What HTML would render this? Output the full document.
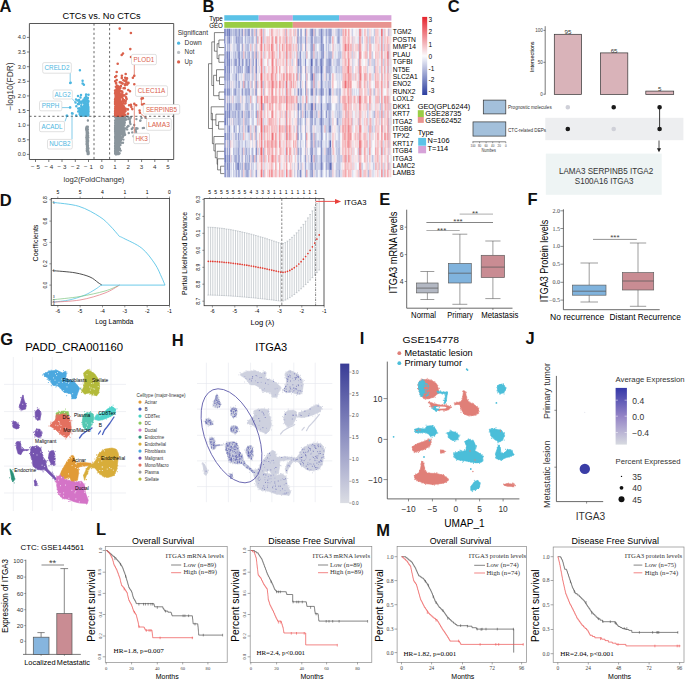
<!DOCTYPE html>
<html><head><meta charset="utf-8"><style>
html,body{margin:0;padding:0;background:#fff;overflow:hidden;width:685px;height:679px}
svg{display:block}
text{font-family:"Liberation Sans",sans-serif}
</style></head><body>
<svg width="685" height="679" viewBox="0 0 685 679">
<rect width="685" height="679" fill="#fff"/>
<text x="-0.5" y="11.9" font-size="16.5" fill="#111" font-weight="bold">A</text>
<text x="101.6" y="19" font-size="9.2" text-anchor="middle">CTCs vs. No CTCs</text>
<path d="M86.6 141.8h0M87.1 141.5h0M87.2 140.3h0M87.2 140.2h0M87.3 136.9h0M87.3 146h0M88.4 151.9h0M87.7 153.2h0M87.7 127.1h0M87.2 137.3h0M88 150h0M88.3 152.7h0M87.5 149.1h0M87.5 141.5h0M87.6 142.2h0M86.9 136.6h0M87.2 140.5h0M87.1 146.7h0M87.8 126.7h0M87.2 134.7h0M87.5 145.6h0M88.6 152.4h0M86.7 133.1h0M87.8 143.7h0M87.1 127.8h0M87.5 148.6h0M86.1 129.1h0M87.6 143.4h0M87.8 152.4h0M87 146.9h0M87.8 152h0M88.1 133.3h0M87.6 151.1h0M88.4 152.7h0M87.4 132.3h0M87.8 142h0M87.5 149.1h0M87.1 136.5h0M87.3 151.2h0M87.6 146.9h0M87.2 127.4h0M86.9 129.8h0M86.9 148.5h0M87.7 136.6h0M88.5 151.6h0M87.5 147.2h0M87.1 132.9h0M88.5 152.4h0M88 151.9h0M87.2 137.7h0M86.5 144.1h0M87.7 141h0M87.5 138.4h0M87.4 150.1h0M87.3 129.2h0M87.3 149.1h0M87.5 133.9h0M87.1 128h0M86.9 129.9h0M88 151.5h0M88.5 153.3h0M87.2 134.8h0M87.7 147.3h0M87 146.2h0M87.5 149.5h0M87.4 148.1h0M87.6 138.9h0M87.1 146.6h0M87.2 128.9h0M87.6 146.9h0M87.6 142h0M87.5 144.2h0M87.6 138.5h0M87.4 129.6h0M86.8 127.2h0M86.9 138.2h0M87.6 150.5h0M87.2 129.1h0M87.3 134.9h0M87.3 136.7h0M87.3 141h0M86.8 126.6h0M87.7 152.3h0M87 129.4h0M87.1 133.9h0M86.5 129h0M87.1 144.6h0M86.5 130.2h0M87.6 142.8h0M86.6 138.5h0M86.9 137h0M87.6 137.5h0M87.5 152.2h0M86.3 130h0M86.8 134.2h0M87.7 138.3h0M87.5 142.2h0M87.1 133.6h0M87.9 153.6h0M87.3 148h0M86.8 135h0M87.2 128.8h0M87.8 147.3h0M87.3 135.6h0M87.9 148.8h0M88 136.1h0M87.7 142.1h0M87.1 135.9h0M86.9 148.9h0M87.4 129h0M86.8 129.9h0M87.8 145.6h0M86.8 150.6h0M87.2 130.8h0M87.5 134.6h0M87.4 149.7h0M87.4 141.9h0M87.7 142.9h0M87 137h0M87.2 131.1h0M87 127.1h0M88.3 153.5h0M87.7 130.1h0M87.5 138.5h0M87.5 145.8h0M87.5 150.6h0M88.1 141.8h0M87.6 147.8h0M88.1 150.5h0M87.5 142h0M86.9 136.9h0M86.6 127.8h0M87.4 135.4h0M87.9 149.4h0M87.7 154.1h0M87.6 149.4h0M87.2 146.8h0M87.8 139.9h0M87.3 137.3h0M86.9 132.4h0M87.9 129.2h0M87.7 134.3h0M87.1 150.8h0M87.3 129.1h0M86.7 143.9h0M86.9 132.3h0M86.6 128.2h0M87.6 148.7h0M87.5 134.3h0M86.8 134.5h0M88.4 148.5h0M86.5 127.2h0M87.4 139.5h0M86.8 129.1h0M87.1 130.6h0M87.5 142.1h0M87.4 139.1h0M87.8 153.6h0M87.8 131.9h0M87.8 149.6h0M87.5 145.1h0M87.3 150.3h0M87.2 140h0M86.6 135.2h0M86.2 128.1h0M88.3 152h0M87.2 148.2h0M87.2 134.1h0M86.6 136.6h0M87.2 138.8h0M86.9 145.7h0M87.7 129.4h0M88.1 148.6h0M86.6 139.8h0M87.5 138.5h0M87.8 140.4h0M88.3 137.6h0M87.5 140.1h0M87.6 143.3h0M86.9 140.8h0M87.7 135.2h0M87.6 142.9h0M87.4 127.8h0M87.2 141.3h0M86.9 150.9h0M87.4 129.4h0M87.3 141.2h0M87.5 137.2h0M87.6 128.7h0M88.7 153.8h0M87.6 149h0M88 145.5h0M87.3 144.5h0M87.1 134.1h0M87.3 151h0M87.5 148.9h0M87 139.7h0M87.6 142.9h0M87.5 139.7h0M87.5 136.9h0M86.6 136.7h0M87.2 137.4h0M87.3 130.6h0M87.8 131.9h0M87 129.3h0M87.5 128.8h0M88.3 148.3h0M87.5 150.7h0M87.5 147.7h0M88 151.7h0M86.6 131.3h0M87.9 150.9h0M87.4 143.2h0M87.5 148.8h0M88.1 135.4h0M87 151.2h0M87.4 140.3h0M86.8 135.3h0M87.7 149.1h0M88.3 153.4h0M86.9 139.1h0M87.5 150.3h0M87.7 149.3h0M87.8 126.9h0M87.3 128.6h0M87.2 128h0M87.4 141.6h0M87.1 141.4h0M86.9 140.1h0M88.5 154h0M87.4 134.9h0M87.2 141.8h0M87 133.9h0M87.7 149.8h0M88.1 140.2h0M87.3 132.1h0M87.6 134.8h0M87 143.2h0M86.3 137.7h0M87.2 132h0M88 147.2h0M86.9 132.8h0M86.6 131.8h0M87.6 130h0M87.3 135.1h0M86.8 143.1h0M87.6 134.3h0M87.5 141.4h0M88 154.1h0M87.7 137.1h0M88 148h0M87.3 145h0M86.9 136.1h0M87.2 143.6h0M86.8 126.6h0M86.8 133.2h0M87.6 127.2h0M87.3 133.9h0M87.4 147.3h0M87.6 149h0M116.9 140.1h0M117.5 120h0M124.6 133.5h0M115.5 132.8h0M122 116.6h0M117.6 151.5h0M115.1 131.7h0M116.7 119h0M116.3 148.3h0M115.4 135.6h0M124 131.2h0M117.7 138.4h0M117.8 134.4h0M116.5 143.5h0M118.2 129.5h0M116.4 127.2h0M117 143.1h0M115.2 152.8h0M115.1 148.4h0M120.4 120.3h0M128.2 125.9h0M120.3 118.5h0M116.7 151.6h0M117 136.2h0M115.3 117.4h0M121.9 118.8h0M127.3 126.9h0M117.8 123.3h0M119.2 131.4h0M118.1 137.1h0M117.7 146.7h0M115.8 149.7h0M116.8 137.6h0M117.4 144.4h0M120.9 132.3h0M118.1 134.2h0M124.3 116.5h0M116.2 145.3h0M117.8 150.1h0M119.4 130.6h0M115.6 140.7h0M120.7 132.9h0M119.4 131.9h0M117.8 147.2h0M120.4 144.9h0M116.5 121h0M116.4 152.9h0M116 138.2h0M119.1 130.7h0M116.4 151.6h0M116.1 151.1h0M119.6 130.4h0M117 140.2h0M115.3 141.3h0M116 126.1h0M115.7 149.8h0M121.1 123.6h0M117.8 146.3h0M115.3 138.3h0M120.3 140.4h0M118.7 129.5h0M115.3 133.5h0M119.3 126h0M116.5 140.4h0M115.6 150.7h0M115.6 151.2h0M120.7 132.9h0M115.4 143h0M118 124.9h0M116.4 129.2h0M116.1 151.3h0M121.7 128h0M116.5 143.6h0M118.4 126.8h0M118.4 140.5h0M119 132.8h0M126.4 119.5h0M117.6 137.7h0M116.5 123.9h0M117.5 139.2h0M118.4 118.9h0M116.4 140.6h0M116.9 140.5h0M117.3 139.7h0M118.7 147h0M117.6 133.8h0M118 122.6h0M116.2 125.5h0M115.3 120.9h0M115.8 134.8h0M123.7 133.7h0M119.5 129.6h0M120.7 123.8h0M117.4 124.4h0M117.7 151.2h0M119.4 120.2h0M115.8 151.2h0M117 126h0M115.1 129.7h0M118.4 125.3h0M115.4 134.6h0M117.8 141.6h0M118.2 117.6h0M118.8 134h0M117.6 127h0M121.6 138.8h0M120 123h0M123.4 123.8h0M124.8 122.7h0M121.7 130.1h0M116.6 134.5h0M120.5 138.4h0M118.1 138.4h0M122.8 116.7h0M116 140.1h0M116.9 138.2h0M115.9 143.3h0M115.2 142.7h0M117.1 150h0M118.1 147.6h0M117.4 152h0M116.9 119.8h0M115.9 153h0M116 146.1h0M115.7 145.4h0M118.1 145.9h0M115.3 147.4h0M117.9 125.6h0M119.7 142.5h0M116.9 136.2h0M119.2 144.5h0M119 141.4h0M119.1 133.6h0M115.8 146h0M118.1 152.5h0M116.8 139.8h0M117.9 134.3h0M115.5 116.7h0M115.1 129.4h0M115.5 136.4h0M116.4 140.3h0M121 131.4h0M116.1 148.4h0M116.9 144.5h0M122.5 121.3h0M115.9 116.6h0M116.4 144.3h0M115.6 125.1h0M116.5 154.3h0M123.8 123.1h0M115.4 151.3h0M118.1 150.7h0M123.3 136.1h0M116.9 132.1h0M118.1 121.8h0M120.2 138.5h0M123.7 119.5h0M117.4 146.5h0M117.2 133.7h0M115.5 122.8h0M115.4 142.6h0M116 142.8h0M115.7 136.6h0M119 128.3h0M116.8 150.4h0M119 117.6h0M115.5 122.8h0M115.4 140.1h0M115.5 127.4h0M119.2 137h0M118.2 154h0M115.3 146.5h0M116 131h0M118.5 133.9h0M116.4 143.1h0M118.6 129h0M116.3 144.6h0M119.2 141.9h0M123.4 118.5h0M116.7 141.8h0M117.4 123h0M115.6 150.8h0M115.7 128.6h0M116.9 139.1h0M116.9 122.6h0M115.6 145.8h0M116.6 148.4h0M116.4 151.6h0M121 119.4h0M117.2 129.8h0M117.1 125.2h0M117.5 141.8h0M118.1 138.7h0M115.5 127.8h0M117.2 117.1h0M120.7 131.3h0M115.8 153.7h0M118.4 129.7h0M116.7 150.4h0M119.1 124.4h0M117.3 123h0M116.8 125.3h0M119.9 120.1h0M116 135.4h0M116.4 149h0M125.1 134.8h0M116.6 127.2h0M118.3 118.5h0M115.6 130.6h0M116 145.1h0M116.2 132.5h0M119.8 119.1h0M116.5 140.7h0M115.7 117.4h0M117.2 149.2h0M117.7 133.1h0M115.8 133.1h0M128 116.7h0M117.1 123.3h0M116.6 123h0M116.6 143.4h0M116.7 132.6h0M117.6 122.8h0M117.2 151.5h0M117.3 153.2h0M130.1 118.7h0M117.3 129.4h0M121.4 126.3h0M119.5 139.9h0M116.8 153.8h0M116.3 146.8h0M115.4 139.7h0M117.2 132.7h0M117.7 144.4h0M117.7 132.8h0M117.3 153h0M121.7 128.9h0M122.9 131.6h0M119 136.5h0M118.3 128.2h0M115.1 125.6h0M121.9 116.6h0M118.3 122.5h0M117.6 137.9h0M118.8 132.9h0M117.5 134.4h0M117.3 138h0M116 152.3h0M121 126.8h0M118.8 131.7h0M117.2 125.8h0M117.4 151.7h0M117.3 149.7h0M116.2 139.3h0M115.8 152.4h0M117.8 145.3h0M116.6 142.8h0M115.9 151.8h0M123 119.7h0M116.7 121.5h0M115.8 138.4h0M118.1 126h0M116.5 132.8h0M116.3 124.3h0M119.8 149.7h0M116 154.4h0M115.7 145.1h0M116.6 152h0M117.2 120.4h0M117.7 140.8h0M116 132.1h0M115.4 120.2h0M121.2 142.7h0M115.2 117.2h0M115.8 136.4h0M119.5 119.3h0M118.5 120.3h0M120.1 140.9h0M118.3 136.4h0M125.8 116.5h0M116 146.7h0M117.6 120.9h0M117.3 152.5h0M117.7 142.5h0M120.9 120.2h0M117.4 149.3h0M119.4 127.9h0M115.8 151.4h0M116.3 145.9h0M118.3 146.9h0M115.3 147.5h0M122.2 124.3h0M118.2 140.2h0M121.9 132h0M116.7 145.7h0M124.2 129h0M115.7 143.9h0M117 117h0M118.9 137.7h0M115.4 152.7h0M115.7 131.6h0M118.7 123.9h0M115.7 151.1h0M119 145h0M116.6 143.8h0M116.1 120.3h0M121.5 116.8h0M116.1 125.9h0M118.2 139.8h0M116.2 147.6h0M117.2 133.3h0M118.2 129.4h0M120.7 124.6h0M115.7 122.3h0M125.6 128.4h0M115.7 147.8h0M118.4 124.8h0M117.8 145.5h0M115.9 137.7h0M123.5 124.3h0M116.7 145.4h0M115.2 132.3h0M119.6 135.4h0M116.4 127.2h0M116.7 132.6h0M116 148.6h0M116.9 153.7h0M115.1 137.6h0M115.3 144.4h0M117.1 119.9h0M121.5 132.8h0M116.2 145.4h0M115.3 148.8h0M115.8 142.4h0M118.2 130.8h0M115.5 132h0M115.6 151h0M116.4 144.7h0M116.5 148.3h0M123.5 124.5h0M116.5 152.1h0M116.2 146.2h0M121.5 117.5h0M116.5 125.5h0M119 116.9h0M119.1 126.1h0M115.3 152.9h0M119.4 149h0M116 139.5h0M116.9 151.5h0M118.1 153.1h0M115.2 126.5h0M115.1 145.7h0M118.1 145.2h0M117.9 136.8h0M116.1 141.6h0M116.3 117.1h0M115.6 139.1h0M118.6 129.7h0M116.5 128h0M124.2 121.5h0M118.7 136.8h0M116.7 139.5h0M119 124.7h0M115.9 146.2h0M117 133.5h0M115.5 148.2h0M117.2 136.6h0M123 142.7h0M119.5 128.6h0M116.5 121.6h0M116.8 151.6h0M117.3 128.1h0M116.1 153.7h0M115.2 147.5h0M120.6 119.3h0M115.5 127.2h0M117 148.6h0M121.1 118.8h0M121 126.9h0M119.8 119.9h0M115.4 139.8h0M116.3 151.2h0M117.9 125.1h0M118.4 134.7h0M115.9 145.3h0M116.5 152.8h0M117 153.2h0M118 142.5h0M116.2 149.2h0M115.5 127.5h0M121.8 129.1h0M115.5 148.8h0M118.5 127.3h0M119.6 139h0M118.1 145.8h0M116.1 143.3h0M116.1 152.9h0M116.6 153.5h0M119.7 123.6h0M117.6 117.3h0M122.9 119.5h0M116.3 146.2h0M122.9 118.1h0M115.8 121.4h0M117.7 151h0M115.9 138.1h0M115.7 139.8h0M117.3 141.9h0M115.1 148.4h0M116.9 139.1h0M115.4 129.1h0M116.9 145.3h0M116.6 138.3h0M117.9 148.7h0M117.9 133.4h0M119.4 127.8h0M115.5 140.5h0M115.6 152h0M115.7 135.6h0M118.4 132.1h0M115.5 144.8h0M117.2 153.5h0M121.5 132.9h0M115.8 144.4h0M116.9 136.6h0M118.7 131h0M116.1 132.5h0M116.1 118.6h0M120.6 130.8h0M117.2 138.8h0M117.1 122.9h0M123.6 120.9h0M117.7 152.9h0M116.8 149.2h0M115.2 140.7h0M117.3 117.3h0M116.3 145.7h0M115.1 128.5h0M115.2 133.7h0M115.3 139.4h0M119.9 129.7h0M118.4 133.6h0M119.6 122.8h0M117.7 117.6h0M119.3 120.7h0M115.9 142.5h0M121.6 128.3h0M116.6 117.7h0M117.2 130.8h0M118.1 135.7h0M116 143.5h0M118.4 125.9h0M115.4 144.9h0M116.5 142h0M117.2 149.6h0M115.8 152h0M115.9 127.6h0M118.3 150.1h0M116.8 136.1h0M117.9 148.2h0M117.8 152.4h0M119.4 144.7h0M115.3 139.5h0M115.1 127.2h0M119.4 142h0M115.4 141.7h0M124.7 122.9h0M120.2 132.8h0M118.1 130.7h0M115.9 122.8h0M116.5 140.1h0M115.4 128.9h0M116.2 153.9h0M124.5 132.1h0M117 149.3h0M120.4 128.3h0M117.1 139.3h0M116.8 118.9h0M115.1 127.3h0M116.6 149.9h0M116 126.6h0M118.9 116.6h0M116.1 153.4h0M118.5 133.8h0M115.3 142.6h0M117.2 124h0M117.1 139.5h0M116.1 130.9h0M123.4 139.6h0M122.6 128h0M116.1 148.8h0M119 147.7h0M118.6 144.8h0M117.2 135.8h0M116.1 153.7h0M118.3 132.9h0M117.8 144h0M117.3 145.7h0M115.3 144.5h0M118.6 152.5h0M117.2 142.6h0M115.9 151.4h0M121.3 116.5h0M116.8 146.7h0M117.7 138.6h0M116.4 123.7h0M115.8 133.5h0M117.5 129.4h0M118.2 118.7h0M120.7 121.5h0M115.2 122.7h0M115.5 126.8h0M115.5 148h0M116.7 149.9h0M117 125.7h0M115.4 142.6h0M115.1 146.4h0M122.1 117.9h0M115.5 123.6h0M115.5 124.3h0M120 123.9h0M116.7 122.9h0M120.7 150.6h0M122.3 118.3h0M117.2 144.9h0M122.1 119.8h0M115.5 145.8h0M118 139.6h0M120.4 123.6h0M116.8 140.5h0M116.9 143.8h0M116.1 120h0M116.1 141.7h0M116.9 126.2h0M120.9 133.6h0M115.9 128.5h0M115.9 149h0M115.4 141.1h0M115.3 135.3h0M116.7 139.1h0M121.4 118.2h0M116.5 146.6h0M117.8 125.7h0M117.1 150.3h0M115.5 117.8h0M118.1 146h0M116.9 147.6h0M117.7 144h0M120.9 142.1h0M119.2 147.4h0M119.9 148.8h0M119.3 130.3h0M117.3 146.3h0M121 131h0M120.2 130.5h0M116.6 135.2h0M116.1 122.6h0M121.2 128.2h0M116.4 138.5h0M115.5 139.8h0M120.1 132.6h0M119.9 134.8h0M116 137.4h0M122.5 131.8h0M117.8 148.6h0M120.5 136.6h0M115.2 142.5h0M119.7 126.4h0M115.4 121.4h0M117.4 149.6h0M115.2 145.5h0M122.2 122.5h0M124.6 122.9h0M130.5 124.1h0M115.5 151.9h0M116 121.3h0M118.7 123.7h0M121.4 137.1h0M116.1 146.9h0M115.7 143.8h0M116.2 133.3h0M118.6 124.5h0M115.3 124h0M115.9 121.9h0M121.9 120h0M117.7 124.1h0M116.6 150.6h0M117.1 153h0M123.4 122.7h0M115.9 149.9h0M119.7 122.1h0M116.3 130.9h0M116.4 116.8h0M118.2 146.5h0M121.8 126.7h0M116.2 146.9h0M116.7 153.8h0M116.6 141.5h0M118.3 143.8h0M115.9 131.5h0M116.2 149.5h0M117.3 128h0M115.3 150h0M119.1 118.6h0M116.4 146.9h0M118.5 116.6h0M119.4 140.7h0M116.3 142.6h0M116.3 130.4h0M116.4 138.2h0M118.1 137h0M118 135.1h0M116.5 127.6h0M116.8 145.5h0M117.1 121.2h0M117.4 143.5h0M118.9 137.1h0M122.1 118.9h0M119.2 131.5h0M118.1 137.3h0M116.1 143.7h0M117.6 137.6h0M116.1 128h0M115.2 128.8h0M117.1 149.4h0M115.1 120.4h0M117.9 141.4h0M119 123.2h0M119 133.6h0M115.7 150.6h0M115.8 140.6h0M115.8 140.2h0M119.1 141.3h0M116.2 120.3h0M115.3 130.3h0M117.4 136.6h0M117.3 142.4h0M123.9 128.9h0M124.6 117.3h0M123.8 116.7h0M119.8 129.7h0M116.7 127.7h0M115.1 136.8h0M116.2 139.1h0M118.5 116.8h0M115.9 146.4h0M116.3 139.4h0M117.5 126.2h0M116.3 129.7h0M115.2 130.7h0M118.8 123.6h0M115.4 126.6h0M116.7 136.6h0M117.7 153.8h0M125.1 120.3h0M116.3 153.5h0M118.6 134.1h0M115.5 150.2h0M117.9 135.1h0M116 149.7h0M115.5 151h0M116.7 134.9h0M119.1 145h0M117.1 138.7h0M115.8 137.2h0M122 133.2h0M116 150.4h0M122.7 122.1h0M122.8 134.4h0M119.7 138.9h0M122.5 117.8h0M116.8 138.7h0M115.2 123.3h0M115.7 126.5h0M117.1 134.2h0M116.2 153.3h0M118.2 117.7h0M115.8 129.9h0M115.8 138.6h0M115.1 151.4h0M117.7 119.5h0M119 141.9h0M115.6 120.7h0M121.1 118.4h0M117.7 120h0M116.5 139.4h0M118.9 144.6h0M118 140.4h0M116.4 140.8h0M116 138h0M115.5 122.6h0M117.3 152.1h0M115.7 139.2h0M116.9 145.9h0M116.5 142.4h0M115.7 136h0M120.6 135.9h0M118.8 154.1h0M117.5 154.1h0M118.6 131.8h0M116 131.7h0M116.3 140.4h0M120.1 132h0M118.3 142.4h0M115.1 125.7h0M116.2 152.4h0M116.1 144.1h0M123.7 124.1h0M117.8 139.1h0M115.5 143.5h0M117.3 117h0M117.1 122.8h0M118.9 123.2h0M116.1 124.4h0M116.3 125.4h0M116.7 152.6h0M120 119.1h0M124.5 130.1h0M116.6 125.8h0M121.3 132.4h0M115.2 138.5h0M124.6 128.6h0M115.5 151.5h0M122.5 124.7h0M116.8 140h0M116.5 137.4h0M115.6 142.2h0M117.1 126.5h0M116.1 122.7h0M117 129.1h0M115.3 149.9h0M118.3 142.6h0M117.1 119.3h0M117.5 146.4h0M118.3 122.5h0M116.6 149.7h0M116.5 153.2h0M118.4 138h0M120.9 119.1h0M116.3 135.6h0M119.5 124.8h0M115.1 150.4h0M117.4 132.1h0M115.8 146.7h0M116.4 141.1h0M118.9 131.9h0M115.5 132.6h0M119.3 122.4h0M118.5 136.1h0M119.3 117.1h0M118.3 145.5h0M115.4 144.5h0M118.2 144.6h0M115.9 152h0M118.9 127.2h0M118 137.9h0M120.1 117.3h0M121.1 119.8h0M115.8 145.6h0M118.2 125.8h0M117.7 122.2h0M115.8 153.1h0M119.6 133.4h0M118.9 141.7h0M124.5 125.3h0M122.1 123.8h0M117.4 146.1h0M118.1 146.8h0M115.6 149.8h0M123.8 125.3h0M120.9 119.3h0M122 128.2h0M123.4 127.1h0M117.6 143.3h0M118.2 144.3h0M118 144.9h0M115.4 144.8h0M115.1 143.3h0M116.8 136h0M115.5 144h0M117.8 135h0M120.7 121.2h0M123.7 121.9h0M121.2 131.2h0M116.6 134.1h0M121.4 129.3h0M117.1 144.5h0M116.6 152.3h0M116.8 124.5h0M117.2 145.5h0M116.3 126.7h0M122.4 118.5h0M115.2 141.1h0M116.1 145.6h0M115.9 118.6h0M123.2 129.4h0M116.9 150.5h0M123.2 132.9h0M120.5 142.6h0M122.3 121.2h0M116.1 151.8h0M119.6 153.3h0M120.4 128.3h0M116.4 121.9h0M117.3 151.5h0M116.8 134.4h0M118.2 140.9h0M116.8 135.4h0M119.6 138.5h0M118.5 135.9h0M117.1 133.2h0M117.9 117.4h0M115.6 143h0M117 141.6h0M128.2 117.3h0M125.1 118.3h0M120.1 118.8h0M117.4 153.6h0M115.4 128.3h0M122 131.1h0M117.9 151.1h0M115.9 134.7h0M115.2 150.2h0M116.2 121.4h0M115.2 153.2h0M117.4 122.8h0M119.3 132.3h0M115.1 125.6h0M115.1 151.8h0M124.2 124.2h0M115.9 138.9h0M115.3 141.6h0M115.7 125.1h0M117.6 144.4h0M116.8 141.6h0M118 128.7h0M116.1 120.9h0M116 147.7h0M117.1 136.2h0M116.8 124.6h0M117.7 129.5h0M116.9 144.5h0M115.6 121.1h0M115.3 147.4h0M117.3 141.9h0M118.7 126.8h0M120.7 133.9h0M115.2 151.4h0M116.8 146.1h0M118 138.6h0M115.2 140.8h0M120.5 119.8h0M115.2 149.2h0M115.9 124.4h0M119.4 124.3h0M116 140h0M121 126.2h0M115.3 136.3h0M115.6 135.4h0M121 139.9h0M116.9 148.9h0M119.2 146.6h0M124.9 119h0M116.4 141.4h0M116.1 127.2h0M116.1 118.4h0M117.2 128.6h0M117 120.8h0M122.9 137.1h0M116.7 140.2h0M118.1 118.7h0M115.7 151.7h0M116.6 152.5h0M115.6 142.7h0M116.7 134.4h0M120.7 133.9h0M117.5 134.4h0M118.6 118.4h0M115.7 151.5h0M115.5 142.6h0M122.9 135.2h0M116.4 148.3h0M118 143.2h0M120.4 124.3h0M115.8 131.5h0M118.3 122.2h0M115.9 118.5h0M124.8 117.2h0M115.8 139.2h0M115.6 152.4h0M117.5 126.4h0M116.6 146.4h0M115.5 124h0M117.3 135.4h0M117.1 147.5h0M115.2 153.8h0M115.7 144.5h0M118.1 130.9h0M118.4 130.7h0M132.3 132.4h0M136.4 119.1h0M135.7 130h0M131.8 129h0M130 118.4h0M141.5 117.9h0M128.7 119.1h0M143.9 127.9h0M128.8 133h0M130 122.8h0M128.6 126.1h0M130.9 117.6h0M138.4 137.5h0M136 131.7h0M142.8 128.1h0M132.7 127.7h0M134.9 139.7h0M136.3 133.5h0M134.2 125h0M134.9 137.7h0M137.5 128.5h0M130.8 117.1h0M127.2 129.4h0M130 121.1h0M140.5 120.4h0M161.4 123.7h0M149.5 126.6h0M145.5 117.8h0M136.2 128.1h0M140.2 120.8h0M133.6 136.3h0M87.9 120.5h0" stroke="#8A959C" stroke-width="2.4" stroke-linecap="round" fill="none"/>
<path d="M124.9 115h0M115.1 101.9h0M117.3 85.9h0M115.3 100.7h0M122.9 109.4h0M115.1 103.7h0M118 112.8h0M121.1 103.8h0M115.9 86.7h0M121.7 106.5h0M122.6 110.1h0M117.7 113.2h0M118.4 111.4h0M125.2 114.7h0M115.7 100.2h0M120.7 102.9h0M119.6 93.5h0M117.1 98.5h0M117.1 97.8h0M120.1 86.9h0M117.6 107.9h0M120.9 107.9h0M128 113.8h0M116.6 110.9h0M116.6 115.1h0M119.7 100.6h0M123.5 109.9h0M117.9 87.2h0M118.6 106h0M117.6 106.6h0M115.4 108.1h0M118.1 113.1h0M120.5 102.8h0M119.9 110.4h0M118.2 111.6h0M120.6 108.5h0M123.5 103.5h0M122.5 101.2h0M116.8 106.5h0M116.5 98.3h0M116.4 93.7h0M118 110.5h0M115.6 100.7h0M116.4 90.2h0M116 101.3h0M118.5 115.5h0M120.4 110.3h0M119.1 115.2h0M115.7 111.9h0M118.9 105.9h0M116.6 97.9h0M117.1 104.2h0M120.1 114.4h0M115.6 109.3h0M117.2 97.5h0M120.8 114.5h0M121.3 96.2h0M116.8 107.6h0M116.7 72h0M115.5 107.4h0M116.6 115.3h0M119.2 106h0M122 112.8h0M119 114.1h0M121.5 113.8h0M119.7 111.8h0M115.9 110.1h0M116.1 83.5h0M116 112.4h0M116.4 106.4h0M119.4 111h0M118.1 106.2h0M117.5 96.3h0M118.1 100.2h0M120.2 108.2h0M116.6 95.9h0M116.1 112.7h0M115.2 113.4h0M116.8 104h0M115.4 109.7h0M116.8 91.1h0M115.4 98.3h0M124.7 100.7h0M117.4 107.6h0M123.5 111h0M115.3 102.3h0M119.1 93.7h0M123.1 114.7h0M119.7 112.1h0M118.3 106.4h0M116 104.8h0M117.9 106.1h0M121.8 108.3h0M116.2 101.5h0M118 105.3h0M120.1 95.8h0M115.9 92.9h0M118.2 99.8h0M118.9 115.2h0M125.4 110.6h0M119.9 104.9h0M117.1 98.2h0M122.5 112.4h0M116.7 80.1h0M120.2 104.5h0M115.5 102.2h0M118.5 114.7h0M117 108.8h0M119.8 82.2h0M123.4 106.2h0M116.8 99.6h0M121.8 104.9h0M118.2 102.2h0M122.1 110.5h0M121.1 115.4h0M122.2 115.6h0M116.8 100.5h0M115.2 108.7h0M118.9 113.6h0M125.5 111.1h0M120.7 113.2h0M115.8 100.6h0M120 106.6h0M118.4 100.6h0M122.5 110h0M116.2 109.3h0M117.7 104.3h0M116.3 76h0M118 86.2h0M120.1 102.4h0M116.6 105.9h0M121 108.6h0M118.7 109.7h0M119.2 114h0M115.3 113h0M119 102.2h0M118 109h0M120.5 94.4h0M117.9 115.8h0M116.3 111.7h0M121.7 109.9h0M120.3 114.4h0M116.1 114.7h0M122.1 104.8h0M121.6 110.8h0M118.8 112.1h0M117.1 109.1h0M115.6 104.5h0M117.1 93.3h0M117.1 99.5h0M115.3 106.5h0M121.1 112.7h0M122.1 95.9h0M118.8 108.1h0M117.6 93.4h0M117.8 98.7h0M118.5 109.9h0M118 113.3h0M119.7 96h0M119.3 113.9h0M122 113h0M116.6 96.4h0M117.4 92.5h0M116.3 99h0M115.8 112.5h0M122.4 92.8h0M118.9 94.6h0M115.8 110.2h0M115.7 95.6h0M118.1 111.1h0M120.4 105.7h0M119.3 109.3h0M120.5 111.7h0M118.1 108.1h0M118.9 115.7h0M115.9 115.6h0M120.3 109.3h0M117.3 115h0M118.8 107.4h0M115.3 104.4h0M118.9 99.1h0M118.9 101.9h0M119.7 110.3h0M117.1 104.6h0M115.2 101h0M115.9 99.8h0M123.6 109.1h0M116 115.3h0M116.1 114.7h0M120.8 110.5h0M117.9 113.9h0M120 98.8h0M120.8 107.6h0M120.1 115.3h0M117.9 102.4h0M120.9 86.1h0M118.1 94.1h0M116.4 106.9h0M115.9 99.6h0M115.4 104.5h0M118.7 105.5h0M115.2 110.6h0M115.1 113.6h0M118.3 108h0M116.7 111.7h0M117.6 87h0M117.3 95.3h0M117.7 101.2h0M119.2 109h0M118.2 99.8h0M119.8 112.8h0M116 104.3h0M117.4 99.4h0M115.4 106.6h0M117.5 110.7h0M117.6 95.8h0M122.8 99.1h0M115.8 110.1h0M117.5 109.1h0M121.1 107.5h0M116.6 115.6h0M116.3 92.8h0M117.3 110.2h0M115.5 108.1h0M116.1 83.1h0M118.1 111.4h0M117.5 111.8h0M119.1 103.8h0M115.6 112.2h0M116.5 103.9h0M118 111.3h0M117.9 114h0M115.2 81.2h0M118.7 115.1h0M117.7 98.7h0M116.1 108h0M118.8 114.9h0M120.1 104.3h0M115.7 96.4h0M117.9 106.8h0M120.1 112.7h0M116.6 101.5h0M118.2 103.7h0M115.4 112.8h0M115.4 103.2h0M117.2 112.2h0M118.8 91.4h0M119.5 109.2h0M115.1 93.4h0M116.2 106.9h0M121.2 108h0M118 92.6h0M115.6 107.4h0M116.2 90.9h0M119.1 99.9h0M122.3 114.3h0M116.9 92.5h0M117.1 111.1h0M115.3 112.7h0M117.8 106.6h0M115.8 112.3h0M119.5 105.6h0M115.7 112.6h0M117.2 107.6h0M117.1 113.5h0M120.8 110h0M117.4 111.9h0M115.9 103.3h0M119.2 105.7h0M115.2 102.8h0M115.3 112.1h0M116.9 109.3h0M115.6 114.9h0M118.3 102.5h0M118 103h0M115.9 109.3h0M118.9 100.4h0M119.2 101.5h0M115.7 112.6h0M118.7 113.4h0M123.1 115.8h0M123.7 106.4h0M119 110.6h0M120.2 102.3h0M120.3 87.9h0M124.1 114.2h0M119.1 104.2h0M116.7 88.6h0M118.1 91.3h0M115.1 90.6h0M122.3 97.1h0M118.3 107.5h0M115.9 109.4h0M116.6 114.9h0M117.5 108.4h0M120.1 107.8h0M119.4 110.6h0M122.2 91.6h0M119.4 114.8h0M117.7 112.8h0M117.4 110.7h0M116.3 104.6h0M115.1 115.2h0M115.1 104.1h0M127.9 109.4h0M116.3 112.7h0M118.2 113.8h0M115.7 94.9h0M121.3 96.7h0M116.7 105.7h0M117.2 106.7h0M120.1 115h0M117.4 112.8h0M125.7 108.8h0M120.7 110.5h0M116.1 113.9h0M116.4 108.6h0M120.8 113.7h0M123.5 100h0M115.7 110.2h0M116 101.6h0M120.5 106.8h0M116.8 91h0M116.6 111.3h0M115.8 113.9h0M116.2 115.4h0M116.4 113.3h0M115.5 109h0M118.9 96.2h0M116.9 112.1h0M120.7 105.7h0M118.3 103.3h0M118.2 93h0M123.9 100h0M122.2 110.6h0M118.4 105.9h0M115.3 100.9h0M121.1 114.3h0M115.3 100.1h0M115.9 109.3h0M118.5 100.2h0M115.4 92.5h0M119.7 112.2h0M115.3 92h0M119.4 92.4h0M115.4 102.6h0M115.5 103.5h0M115.1 111.7h0M116.1 111.5h0M117.3 112.5h0M118.5 107.6h0M118.6 97.9h0M116.2 105.4h0M120.4 97.2h0M115.7 115.3h0M118 104.4h0M116.8 111h0M118.8 98.9h0M117.1 97.6h0M119.7 112.6h0M115.9 112.4h0M116.4 104.9h0M120.1 101.6h0M115.8 113h0M118.8 107.2h0M118.6 96.9h0M116.4 114.7h0M117.7 104h0M123.6 106.5h0M121 110.9h0M118 89.1h0M116.6 98.5h0M120.9 106.8h0M118.5 96.5h0M116.2 100.7h0M118.9 105.2h0M116.9 90.7h0M120.9 115.7h0M117.5 112.5h0M122.7 114.9h0M118.8 108.7h0M121.4 108.8h0M115.5 109.4h0M116.5 109.2h0M119.4 108.7h0M118.1 108.1h0M117 110.2h0M115.8 98.1h0M119.2 101.6h0M118 101h0M121.1 113.5h0M120.7 91h0M117.9 99.9h0M118 106.3h0M119.2 103.1h0M118.1 108.4h0M120.6 102.3h0M121.8 104.5h0M118.6 101.5h0M119.1 115.7h0M118.7 96.8h0M116.7 106h0M116.5 111.1h0M119.4 104h0M116.2 111.5h0M122.7 115.1h0M123.9 111.7h0M118.7 106.8h0M118.5 112.5h0M116.5 106.3h0M116.2 115.4h0M120.1 100.5h0M117.6 111.8h0M116.2 111.9h0M120.7 111.1h0M115.4 101.4h0M117.1 106.4h0M115.9 102.4h0M122 94.4h0M121 96.9h0M118.8 104.2h0M119.7 99h0M117.6 101.6h0M116.1 111h0M116.4 109.3h0M115.3 98.5h0M119.5 89.5h0M121.6 114.8h0M116 93.3h0M117.3 112h0M115.8 102.4h0M115.6 95.1h0M120.1 109.4h0M122.7 109.9h0M116.3 109.6h0M115.8 108.3h0M115.9 104.8h0M116.6 102.1h0M116.3 106h0M119 113.7h0M120.7 102.4h0M115.1 99.2h0M118.7 93h0M116.4 106.4h0M121 113.7h0M118.8 109h0M115.4 107h0M115.8 105.9h0M116.9 113h0M117.2 110.1h0M116 98.8h0M115.2 77h0M118.6 109.2h0M121 102.5h0M115.4 107.6h0M123.4 114.9h0M116.1 107.5h0M116.8 110.1h0M124.4 112.5h0M117.4 103.2h0M117.8 107.2h0M121.6 114.7h0M122.4 111.5h0M116.7 102.4h0M115.8 103.4h0M116.5 96.6h0M118.9 113h0M116 109.1h0M116.1 103.3h0M115.9 113.6h0M117 103.6h0M117.2 92.3h0M115.7 104.5h0M117.7 108.1h0M119 104.3h0M118.5 108.9h0M116.9 113h0M115.6 93.5h0M122.1 113.2h0M116.9 114.4h0M124.2 107.5h0M127.1 84.6h0M125.6 103h0M125.7 100.9h0M122.7 83.6h0M128.5 82.9h0M130 91.2h0M121.8 77.9h0M121.9 75.8h0M121.4 83.1h0M125.5 103h0M126.3 81.8h0M131.3 106.9h0M124.7 80.7h0M124.1 112.9h0M125.2 103.4h0M125.2 77.7h0M121 82.5h0M129.1 105.2h0M122.9 101.5h0M121 112.4h0M126.4 98.6h0M126.6 99.1h0M120.5 103.4h0M123.6 88.3h0M124.4 95.5h0M121 104.3h0M123.8 103.2h0M120.7 110.4h0M120.6 95.9h0M123.4 80.2h0M126.1 97.4h0M121.7 114h0M125.4 83.9h0M124 95.4h0M125 85.2h0M127.9 83.6h0M126.5 79.6h0M124.8 88.3h0M126.4 93.9h0M119.7 28.6h0M130.9 33h0M130.3 49.1h0M123 53.5h0M121.7 55h0M117.7 63.7h0M132.9 77.8h0M127 78.4h0M141.6 98.8h0M142.9 98.2h0M136.2 105.3h0M130.9 104.7h0M139.6 110.5h0M132.3 109.1h0M128.3 90h0M125.7 74h0M134.3 84.2h0M134.3 75.8h0M142.1 104.5h0M139.9 112.7h0M134.3 103.8h0M144 104h0M131 57h0M133 56.5h0M140 62h0" stroke="#DA614C" stroke-width="2.6" stroke-linecap="round" fill="none"/>
<path d="M87.3 100.8h0M87.4 114.1h0M82.5 115.6h0M83 101.2h0M87 106.9h0M81 101.7h0M83.7 110.4h0M82.8 107.3h0M88.1 102.5h0M80.1 109.8h0M88.4 110h0M79.6 114h0M85.1 114.7h0M85.2 104.5h0M87 115.5h0M86.4 106.6h0M87.5 106.6h0M86.8 113.8h0M81.8 101.4h0M85.2 109.5h0M82.1 114h0M86 110.1h0M85.9 108h0M86.2 105.7h0M84.8 98.1h0M84 102.9h0M85.3 115h0M87 104.4h0M86 109.8h0M88.4 108.7h0M88.3 112.2h0M81.7 112.4h0M87.5 114.5h0M85.3 115.3h0M79.5 111.8h0M86.5 115.5h0M86.1 94.4h0M83.7 113.9h0M81.1 115.5h0M88.3 109.3h0M87.5 103.9h0M83 110.5h0M79.3 102.6h0M85.5 114.4h0M85.9 96.4h0M84.8 101.8h0M81.9 107h0M87.9 112.9h0M80.3 114h0M87.4 114.5h0M85.9 103.5h0M87.8 98.5h0M88.3 106.9h0M82.8 110.3h0M84.6 113.1h0M87.3 113.8h0M84.4 105.2h0M83.9 112.8h0M83.9 113.3h0M83.6 111.4h0M88.3 115.2h0M86.6 110.9h0M85.5 114.9h0M85.1 104.9h0M85.1 105.3h0M87.4 99.5h0M84.1 105.5h0M85.9 110h0M87.1 114.1h0M87.3 114.4h0M79.8 108.2h0M83.4 110.3h0M78.2 108.4h0M76.3 106.3h0M88.4 114.4h0M84.4 107h0M84 108.4h0M88.2 115.3h0M83.2 110.2h0M88 104.8h0M82.5 107.3h0M88.3 106.7h0M85.9 109.2h0M88.3 108.5h0M77.6 100.6h0M86.4 110.6h0M86.7 114.4h0M84.4 113h0M84.4 107.9h0M84.9 102.7h0M78.4 103.8h0M83.5 112.4h0M87.8 115.6h0M79.7 110.2h0M83.7 113.3h0M88 109.4h0M88.2 112.8h0M85.6 111.9h0M81.7 110.2h0M83 112.4h0M83.2 106.8h0M87.8 111.7h0M80.2 115.6h0M88 101.7h0M83.8 110h0M84.4 107.9h0M80 101.5h0M88.3 109.3h0M88 107.8h0M85.8 104.8h0M85.5 115.4h0M82.9 112.2h0M82.7 110.6h0M81 95h0M82.2 101.6h0M80.4 115.5h0M85.5 106.7h0M87.6 112.5h0M87.8 111.7h0M83.3 113.7h0M88.5 101.3h0M85.2 99.9h0M83.9 111.8h0M88.2 114h0M87.4 115.1h0M86.9 97.4h0M86.6 114h0M81.9 113.5h0M81.9 109.1h0M86.4 108.3h0M88 109.3h0M79.6 111.8h0M82.5 107.6h0M86.4 112.2h0M88.5 94.7h0M76.2 115.6h0M87.7 113.3h0M87.4 114.4h0M84.6 107.1h0M87.5 109.2h0M85.5 115.2h0M87.7 114.6h0M88.4 107.2h0M80.6 102.2h0M81 109.8h0M88.1 112.1h0M87.4 104.8h0M87.6 113.9h0M85.5 114h0M80.9 109.8h0M85.3 114.9h0M79.1 103.9h0M83.5 99.8h0M88.2 113.2h0M81.5 103.6h0M87.1 109.5h0M86.2 99.5h0M87.1 113.7h0M86.2 112.4h0M86.1 105.4h0M86.9 113.8h0M88.2 113.1h0M85.7 101.9h0M80.4 114.6h0M84.2 115.5h0M88.2 115.6h0M86.7 106.2h0M78.2 111.4h0M85.6 113.8h0M83.8 112.8h0M83.1 113.8h0M85 105.1h0M87.8 113.5h0M81.5 101.9h0M81.2 105.9h0M80.5 97.6h0M82.4 109.4h0M87.5 110.6h0M88.5 111.5h0M84.6 103h0M85.5 108.5h0M84.4 107h0M86.8 112.9h0M85.1 106h0M80.8 111h0M85.7 111.3h0M84.6 109.9h0M87 99.6h0M81.3 109.6h0M87.8 97.8h0M79.9 70.2h0M82.6 80.7h0M82.6 83.6h0M83.9 84.8h0M70.7 82.7h0M72.6 113.5h0M70 107.6h0M66.7 115.8h0M77.9 104.1h0M76 99.4h0M70.2 83h0M75.5 102.5h0M70.2 107.6h0M67.1 115.7h0M72 113.2h0M78 96h0M79 100h0" stroke="#4DB6E0" stroke-width="2.5" stroke-linecap="round" fill="none"/>
<line x1="29.4" y1="116.3" x2="173.7" y2="116.3" stroke="#333" stroke-width="0.75" stroke-dasharray="2.2 2.4"/>
<line x1="94" y1="23.5" x2="94" y2="159.5" stroke="#333" stroke-width="0.75" stroke-dasharray="2.2 2.4"/>
<line x1="109.6" y1="23.5" x2="109.6" y2="159.5" stroke="#333" stroke-width="0.75" stroke-dasharray="2.2 2.4"/>
<line x1="70.2" y1="72.3" x2="70.2" y2="83" stroke="#4DB6E0" stroke-width="0.7"/>
<rect x="42.7" y="62.6" width="28.6" height="10.6" fill="#fff" stroke="#d4d4d4" stroke-width="0.7" rx="1.5"/>
<text x="57" y="70.2" font-size="6.3" text-anchor="middle" fill="#4DB6E0">CRELD2</text>
<line x1="72" y1="98.5" x2="75.5" y2="102.5" stroke="#4DB6E0" stroke-width="0.7"/>
<rect x="53" y="90" width="19.3" height="9" fill="#fff" stroke="#d4d4d4" stroke-width="0.7" rx="1.5"/>
<text x="62.6" y="96.8" font-size="6.3" text-anchor="middle" fill="#4DB6E0">ALG2</text>
<line x1="61.8" y1="107.6" x2="70.2" y2="107.6" stroke="#4DB6E0" stroke-width="0.7"/>
<rect x="39.5" y="101" width="22.3" height="9.8" fill="#fff" stroke="#d4d4d4" stroke-width="0.7" rx="1.5"/>
<text x="50.6" y="108.2" font-size="6.3" text-anchor="middle" fill="#4DB6E0">PRPH</text>
<line x1="65" y1="121.4" x2="67.1" y2="115.7" stroke="#4DB6E0" stroke-width="0.7"/>
<rect x="39.5" y="121.4" width="25" height="10.3" fill="#fff" stroke="#d4d4d4" stroke-width="0.7" rx="1.5"/>
<text x="52" y="128.8" font-size="6.3" text-anchor="middle" fill="#4DB6E0">ACADL</text>
<line x1="72" y1="139.4" x2="72" y2="113.2" stroke="#4DB6E0" stroke-width="0.7"/>
<rect x="47.5" y="139.4" width="24.8" height="9.6" fill="#fff" stroke="#d4d4d4" stroke-width="0.7" rx="1.5"/>
<text x="59.9" y="146.4" font-size="6.3" text-anchor="middle" fill="#4DB6E0">NUCB2</text>
<line x1="134.3" y1="64.7" x2="134.3" y2="75.8" stroke="#DA614C" stroke-width="0.7"/>
<rect x="131.5" y="54.4" width="24.9" height="10.3" fill="#fff" stroke="#d4d4d4" stroke-width="0.7" rx="1.5"/>
<text x="143.9" y="61.8" font-size="6.3" text-anchor="middle" fill="#DA614C">PLOD1</text>
<line x1="141.4" y1="96.4" x2="141.4" y2="104.5" stroke="#DA614C" stroke-width="0.7"/>
<rect x="135.5" y="85.8" width="32" height="10.6" fill="#fff" stroke="#d4d4d4" stroke-width="0.7" rx="1.5"/>
<text x="151.5" y="93.3" font-size="6.3" text-anchor="middle" fill="#DA614C">CLEC11A</text>
<line x1="139.9" y1="112.7" x2="147.3" y2="119.3" stroke="#DA614C" stroke-width="0.7"/>
<rect x="146.5" y="118.6" width="24.8" height="11.7" fill="#fff" stroke="#d4d4d4" stroke-width="0.7" rx="1.5"/>
<text x="158.9" y="126.7" font-size="6.7" text-anchor="middle" fill="#DA614C">LAMA3</text>
<line x1="134.3" y1="133.3" x2="134.3" y2="103.8" stroke="#DA614C" stroke-width="0.7"/>
<rect x="133.6" y="133.3" width="15.9" height="10.3" fill="#fff" stroke="#d4d4d4" stroke-width="0.7" rx="1.5"/>
<text x="141.6" y="140.7" font-size="6.4" text-anchor="middle" fill="#DA614C">HK3</text>
<path d="M29.4 159.5H29.4V23.5" fill="none" stroke="#444" stroke-width="0.9"/>
<path d="M29.4 23.5H173.7V105.3" fill="none" stroke="#444" stroke-width="0.9"/>
<line x1="173.7" y1="114" x2="173.7" y2="159.5" stroke="#444" stroke-width="0.9"/>
<line x1="29.4" y1="159.5" x2="173.7" y2="159.5" stroke="#444" stroke-width="0.9"/>
<rect x="143.3" y="104.5" width="36.4" height="9.6" fill="#fff" stroke="#d4d4d4" stroke-width="0.7" rx="1.5"/>
<text x="161.5" y="111.5" font-size="6.3" text-anchor="middle" fill="#DA614C">SERPINB5</text>
<line x1="26.9" y1="154.4" x2="29.4" y2="154.4" stroke="#444" stroke-width="0.7"/>
<text x="25.8" y="156.4" font-size="5.8" text-anchor="end" fill="#333">0.0</text>
<line x1="26.9" y1="139.8" x2="29.4" y2="139.8" stroke="#444" stroke-width="0.7"/>
<text x="25.8" y="141.8" font-size="5.8" text-anchor="end" fill="#333">0.5</text>
<line x1="26.9" y1="125.2" x2="29.4" y2="125.2" stroke="#444" stroke-width="0.7"/>
<text x="25.8" y="127.2" font-size="5.8" text-anchor="end" fill="#333">1.0</text>
<line x1="26.9" y1="110.5" x2="29.4" y2="110.5" stroke="#444" stroke-width="0.7"/>
<text x="25.8" y="112.5" font-size="5.8" text-anchor="end" fill="#333">1.5</text>
<line x1="26.9" y1="95.9" x2="29.4" y2="95.9" stroke="#444" stroke-width="0.7"/>
<text x="25.8" y="97.9" font-size="5.8" text-anchor="end" fill="#333">2.0</text>
<line x1="26.9" y1="81.3" x2="29.4" y2="81.3" stroke="#444" stroke-width="0.7"/>
<text x="25.8" y="83.3" font-size="5.8" text-anchor="end" fill="#333">2.5</text>
<line x1="26.9" y1="66.7" x2="29.4" y2="66.7" stroke="#444" stroke-width="0.7"/>
<text x="25.8" y="68.7" font-size="5.8" text-anchor="end" fill="#333">3.0</text>
<line x1="26.9" y1="52" x2="29.4" y2="52" stroke="#444" stroke-width="0.7"/>
<text x="25.8" y="54" font-size="5.8" text-anchor="end" fill="#333">3.5</text>
<line x1="26.9" y1="37.4" x2="29.4" y2="37.4" stroke="#444" stroke-width="0.7"/>
<text x="25.8" y="39.4" font-size="5.8" text-anchor="end" fill="#333">4.0</text>
<line x1="35.5" y1="159.5" x2="35.5" y2="162" stroke="#444" stroke-width="0.7"/>
<text x="35.5" y="168.9" font-size="6.2" text-anchor="middle" fill="#333">− 5</text>
<line x1="48.8" y1="159.5" x2="48.8" y2="162" stroke="#444" stroke-width="0.7"/>
<text x="48.8" y="168.9" font-size="6.2" text-anchor="middle" fill="#333">− 4</text>
<line x1="62" y1="159.5" x2="62" y2="162" stroke="#444" stroke-width="0.7"/>
<text x="62" y="168.9" font-size="6.2" text-anchor="middle" fill="#333">− 3</text>
<line x1="75.3" y1="159.5" x2="75.3" y2="162" stroke="#444" stroke-width="0.7"/>
<text x="75.3" y="168.9" font-size="6.2" text-anchor="middle" fill="#333">− 2</text>
<line x1="88.5" y1="159.5" x2="88.5" y2="162" stroke="#444" stroke-width="0.7"/>
<text x="88.5" y="168.9" font-size="6.2" text-anchor="middle" fill="#333">− 1</text>
<line x1="101.8" y1="159.5" x2="101.8" y2="162" stroke="#444" stroke-width="0.7"/>
<text x="101.8" y="168.9" font-size="6.2" text-anchor="middle" fill="#333">0</text>
<line x1="115" y1="159.5" x2="115" y2="162" stroke="#444" stroke-width="0.7"/>
<text x="115" y="168.9" font-size="6.2" text-anchor="middle" fill="#333">1</text>
<line x1="128.3" y1="159.5" x2="128.3" y2="162" stroke="#444" stroke-width="0.7"/>
<text x="128.3" y="168.9" font-size="6.2" text-anchor="middle" fill="#333">2</text>
<line x1="141.6" y1="159.5" x2="141.6" y2="162" stroke="#444" stroke-width="0.7"/>
<text x="141.6" y="168.9" font-size="6.2" text-anchor="middle" fill="#333">3</text>
<line x1="154.8" y1="159.5" x2="154.8" y2="162" stroke="#444" stroke-width="0.7"/>
<text x="154.8" y="168.9" font-size="6.2" text-anchor="middle" fill="#333">4</text>
<line x1="168.1" y1="159.5" x2="168.1" y2="162" stroke="#444" stroke-width="0.7"/>
<text x="168.1" y="168.9" font-size="6.2" text-anchor="middle" fill="#333">5</text>
<text x="94" y="181.5" font-size="7.6" text-anchor="middle" fill="#333">log2(FoldChange)</text>
<text x="13.3" y="86.5" font-size="8.4" text-anchor="middle" fill="#333" transform="rotate(-90 13.3 86.5)">−log10(FDR)</text>
<text x="177.7" y="34.9" font-size="6.4" fill="#333" textLength="30.3" lengthAdjust="spacingAndGlyphs">Significant</text>
<path d="M178.6 43.2h0" stroke="#4DB6E0" stroke-width="3.2" stroke-linecap="round" fill="none"/>
<text x="184.6" y="45.4" font-size="7.7" fill="#333" textLength="17.1" lengthAdjust="spacingAndGlyphs">Down</text>
<path d="M178.6 52.4h0" stroke="#BBBFC3" stroke-width="3.2" stroke-linecap="round" fill="none"/>
<text x="184.6" y="53.9" font-size="7.7" fill="#333" textLength="9.8" lengthAdjust="spacingAndGlyphs">Not</text>
<path d="M178.6 61.9h0" stroke="#DA614C" stroke-width="3.2" stroke-linecap="round" fill="none"/>
<text x="184.6" y="63.7" font-size="7.7" fill="#333" textLength="8" lengthAdjust="spacingAndGlyphs">Up</text>
<text x="202.5" y="12.3" font-size="16.5" fill="#111" font-weight="bold">B</text>
<path d="M227.3 32.6h1M229.3 32.6h1M321.4 32.6h1M321.4 40h1M227.3 54.9h1M229.3 54.9h1M321.4 54.9h1M227.3 62.3h1M229.3 62.3h1M305.3 62.3h1M320.4 62.3h1M229.3 69.7h1M321.4 69.7h1M321.4 77.1h1M321.4 84.5h1M227.3 92h1M321.4 92h1M321.4 99.4h1M227.3 106.8h1M229.3 106.8h1M321.4 106.8h1M229.3 114.2h1M305.3 114.2h1M310.4 114.2h1M321.4 114.2h1M321.4 121.7h1M229.3 129.1h1M321.4 129.1h1M321.4 136.5h1M229.3 151.3h1M321.4 151.3h1M229.3 158.8h1M321.4 158.8h1M227.3 166.2h1M321.4 166.2h1M300.3 173.6h1" stroke="#2b3ea0" stroke-width="7.5" fill="none"/>
<path d="M312.4 32.6h1M229.3 40h1M305.3 40h1M305.3 47.5h1M321.4 47.5h1M227.3 69.7h1M305.3 69.7h1M320.4 69.7h1M305.3 84.5h1M305.3 92h1M330.4 92h1M227.3 114.2h1M227.3 121.7h1M229.3 166.2h1" stroke="#3c4ea8" stroke-width="7.5" fill="none"/>
<path d="M305.3 32.6h1M314.4 40h1M300.3 54.9h1M242.3 62.3h1M249.3 62.3h1M300.3 69.7h1M310.4 69.7h1M229.3 77.1h1M310.4 77.1h1M300.3 84.5h1M229.3 92h1M298.3 92h1M310.4 92h1M312.4 92h1M305.3 106.8h1M225.3 114.2h1M312.4 114.2h1M314.4 121.7h1M227.3 136.5h1M229.3 136.5h1M238.3 136.5h1M310.4 136.5h1M229.3 143.9h1M321.4 143.9h1M227.3 151.3h1M256.3 151.3h1M310.4 151.3h1M227.3 158.8h1M305.3 158.8h1M238.3 166.2h1M310.4 166.2h1" stroke="#4e5daf" stroke-width="7.5" fill="none"/>
<path d="M224.3 32.6h1M300.3 32.6h1M310.4 32.6h1M328.4 32.6h1M224.3 40h1M227.3 40h1M236.3 40h1M297.3 40h1M311.4 40h1M227.3 47.5h1M328.4 47.5h1M238.3 54.9h1M328.4 54.9h1M239.3 62.3h1M300.3 62.3h1M310.4 62.3h2M321.4 62.3h1M329.4 62.3h1M225.3 69.7h1M238.3 69.7h1M248.3 69.7h1M316.4 69.7h1M227.3 77.1h1M227.3 84.5h1M229.3 84.5h1M224.3 92h1M242.3 92h1M255.3 92h1M300.3 92h1M311.4 92h1M300.3 106.8h1M328.4 106.8h1M316.4 114.2h1M229.3 121.7h1M310.4 121.7h1M329.4 121.7h1M227.3 129.1h1M248.3 129.1h1M255.3 129.1h1M305.3 129.1h1M310.4 129.1h1M305.3 136.5h1M305.3 143.9h1M310.4 143.9h1M329.4 143.9h2M224.3 151.3h1M238.3 151.3h1M312.4 151.3h1M328.4 151.3h1M238.3 158.8h1M245.3 158.8h1M249.3 158.8h1M326.4 158.8h1M237.3 166.2h1M305.3 166.2h1M329.4 166.2h2M225.3 173.6h1M227.3 173.6h1M229.3 173.6h1M238.3 173.6h1M305.3 173.6h1M321.4 173.6h1" stroke="#5f6db7" stroke-width="7.5" fill="none"/>
<path d="M225.3 32.6h1M235.3 32.6h1M249.3 32.6h1M297.3 32.6h1M311.4 32.6h1M326.4 32.6h1M330.4 32.6h1M388.4 32.6h1M238.3 40h1M300.3 40h1M328.4 40h1M338.4 40h1M225.3 47.5h1M229.3 47.5h1M242.3 47.5h1M300.3 47.5h1M310.4 47.5h1M312.4 47.5h1M239.3 54.9h1M310.4 54.9h1M224.3 62.3h1M236.3 62.3h1M238.3 62.3h1M246.3 62.3h1M312.4 62.3h1M316.4 62.3h1M328.4 62.3h1M330.4 62.3h1M337.4 62.3h1M224.3 69.7h1M247.3 69.7h1M311.4 69.7h1M314.4 69.7h1M328.4 69.7h1M224.3 77.1h1M300.3 77.1h1M305.3 77.1h1M311.4 77.1h2M320.4 77.1h1M238.3 84.5h1M256.3 84.5h1M328.4 84.5h1M225.3 92h1M245.3 92h1M249.3 92h1M320.4 92h1M328.4 92h2M339.4 92h1M229.3 99.4h1M339.4 99.4h1M236.3 106.8h1M310.4 106.8h3M320.4 106.8h1M238.3 114.2h1M242.3 114.2h1M248.3 114.2h1M256.3 114.2h1M311.4 114.2h1M328.4 114.2h1M339.4 114.2h1M367.4 114.2h1M224.3 121.7h2M238.3 121.7h1M300.3 121.7h1M305.3 121.7h1M312.4 121.7h1M320.4 121.7h1M239.3 129.1h1M297.3 129.1h1M300.3 129.1h1M297.3 136.5h1M311.4 136.5h1M227.3 143.9h1M314.4 143.9h1M225.3 151.3h1M233.3 151.3h1M242.3 151.3h1M263.3 151.3h1M300.3 151.3h1M224.3 158.8h2M235.3 158.8h1M300.3 158.8h1M310.4 158.8h2M314.4 158.8h1M328.4 158.8h1M330.4 158.8h1M225.3 166.2h1M235.3 166.2h1M242.3 166.2h1M245.3 166.2h1M312.4 166.2h1M320.4 166.2h1M326.4 166.2h1M328.4 166.2h1M331.4 166.2h1M247.3 173.6h1M256.3 173.6h1M297.3 173.6h1M310.4 173.6h1" stroke="#707dbf" stroke-width="7.5" fill="none"/>
<path d="M228.3 32.6h1M245.3 32.6h1M251.3 32.6h1M256.3 32.6h1M320.4 32.6h1M329.4 32.6h1M338.4 32.6h1M367.4 32.6h1M242.3 40h1M245.3 40h1M256.3 40h1M310.4 40h1M312.4 40h1M320.4 40h1M330.4 40h1M337.4 40h1M238.3 47.5h1M298.3 47.5h1M311.4 47.5h1M225.3 54.9h1M235.3 54.9h1M245.3 54.9h1M256.3 54.9h1M311.4 54.9h1M330.4 54.9h1M231.3 62.3h1M245.3 62.3h1M255.3 62.3h2M297.3 62.3h2M315.4 62.3h1M326.4 62.3h1M358.4 62.3h1M236.3 69.7h1M242.3 69.7h1M249.3 69.7h1M255.3 69.7h2M329.4 69.7h1M225.3 77.1h1M256.3 77.1h1M314.4 77.1h1M326.4 77.1h1M330.4 77.1h1M244.3 84.5h1M311.4 84.5h1M314.4 84.5h1M320.4 84.5h1M233.3 92h1M256.3 92h1M263.3 92h1M301.3 92h1M323.4 92h1M224.3 99.4h1M227.3 99.4h1M328.4 99.4h1M224.3 106.8h1M235.3 106.8h1M239.3 106.8h1M297.3 106.8h2M330.4 106.8h1M224.3 114.2h1M298.3 114.2h1M300.3 114.2h1M314.4 114.2h1M320.4 114.2h1M337.4 114.2h1M233.3 121.7h1M297.3 121.7h1M319.4 121.7h1M234.3 129.1h1M247.3 129.1h1M328.4 129.1h3M224.3 136.5h2M235.3 136.5h1M314.4 136.5h1M224.3 143.9h1M238.3 143.9h1M245.3 143.9h1M256.3 143.9h1M300.3 143.9h1M311.4 143.9h1M320.4 143.9h1M298.3 151.3h1M305.3 151.3h1M311.4 151.3h1M327.4 151.3h1M253.3 158.8h1M256.3 158.8h1M224.3 166.2h1M233.3 166.2h1M248.3 166.2h1M298.3 166.2h1M311.4 166.2h1M314.4 166.2h1M373.4 166.2h1M236.3 173.6h1M263.3 173.6h1M316.4 173.6h1" stroke="#818cc6" stroke-width="7.5" fill="none"/>
<path d="M231.3 32.6h1M233.3 32.6h1M236.3 32.6h1M238.3 32.6h2M241.3 32.6h2M247.3 32.6h2M252.3 32.6h1M263.3 32.6h1M298.3 32.6h1M301.3 32.6h1M314.4 32.6h1M325.4 32.6h1M337.4 32.6h1M341.4 32.6h1M228.3 40h1M239.3 40h1M252.3 40h1M263.3 40h1M301.3 40h1M316.4 40h1M326.4 40h1M329.4 40h1M239.3 47.5h1M314.4 47.5h1M320.4 47.5h1M322.4 47.5h2M339.4 47.5h1M367.4 47.5h1M224.3 54.9h1M233.3 54.9h1M241.3 54.9h1M247.3 54.9h1M252.3 54.9h1M255.3 54.9h1M297.3 54.9h1M305.3 54.9h1M312.4 54.9h1M322.4 54.9h2M338.4 54.9h1M340.4 54.9h1M225.3 62.3h1M228.3 62.3h1M234.3 62.3h2M322.4 62.3h1M327.4 62.3h1M339.4 62.3h1M352.4 62.3h1M252.3 69.7h1M297.3 69.7h1M352.4 69.7h1M367.4 69.7h1M379.4 69.7h1M235.3 77.1h2M238.3 77.1h1M245.3 77.1h1M297.3 77.1h1M225.3 84.5h1M236.3 84.5h1M239.3 84.5h1M242.3 84.5h1M255.3 84.5h1M310.4 84.5h1M312.4 84.5h1M367.4 84.5h1M228.3 92h1M234.3 92h2M246.3 92h1M297.3 92h1M322.4 92h1M325.4 92h1M336.4 92h1M373.4 92h1M225.3 99.4h1M246.3 99.4h1M256.3 99.4h1M300.3 99.4h1M305.3 99.4h1M245.3 106.8h1M247.3 106.8h1M251.3 106.8h1M256.3 106.8h1M263.3 106.8h1M314.4 106.8h2M326.4 106.8h2M329.4 106.8h1M339.4 106.8h1M241.3 114.2h1M249.3 114.2h1M307.3 114.2h1M325.4 114.2h2M329.4 114.2h1M379.4 114.2h1M245.3 121.7h1M298.3 121.7h1M311.4 121.7h1M328.4 121.7h1M336.4 121.7h2M358.4 121.7h1M388.4 121.7h1M233.3 129.1h1M242.3 129.1h1M245.3 129.1h1M311.4 129.1h1M320.4 129.1h1M255.3 136.5h1M298.3 136.5h1M300.3 136.5h1M325.4 136.5h1M225.3 143.9h1M297.3 143.9h1M312.4 143.9h1M328.4 143.9h1M339.4 143.9h1M252.3 151.3h1M255.3 151.3h1M297.3 151.3h1M314.4 151.3h1M320.4 151.3h1M326.4 151.3h1M329.4 151.3h2M338.4 151.3h1M358.4 151.3h1M236.3 158.8h1M239.3 158.8h1M242.3 158.8h1M247.3 158.8h1M252.3 158.8h1M263.3 158.8h1M297.3 158.8h1M316.4 158.8h1M320.4 158.8h1M337.4 158.8h1M339.4 158.8h1M236.3 166.2h1M240.3 166.2h1M244.3 166.2h1M246.3 166.2h1M251.3 166.2h1M315.4 166.2h1M325.4 166.2h1M339.4 166.2h1M388.4 166.2h1M224.3 173.6h1M228.3 173.6h1M233.3 173.6h1M241.3 173.6h1M311.4 173.6h2M330.4 173.6h1" stroke="#929cce" stroke-width="7.5" fill="none"/>
<path d="M226.3 32.6h1M244.3 32.6h1M285.3 32.6h1M315.4 32.6h1M323.4 32.6h1M331.4 32.6h1M335.4 32.6h1M339.4 32.6h1M233.3 40h1M235.3 40h1M237.3 40h1M247.3 40h1M251.3 40h1M298.3 40h1M322.4 40h1M325.4 40h1M339.4 40h1M352.4 40h1M371.4 40h1M224.3 47.5h1M236.3 47.5h2M245.3 47.5h1M256.3 47.5h1M301.3 47.5h1M326.4 47.5h1M358.4 47.5h1M388.4 47.5h1M226.3 54.9h1M228.3 54.9h1M237.3 54.9h1M242.3 54.9h1M248.3 54.9h2M253.3 54.9h1M263.3 54.9h1M299.3 54.9h1M317.4 54.9h1M319.4 54.9h1M329.4 54.9h1M331.4 54.9h1M358.4 54.9h1M388.4 54.9h1M233.3 62.3h1M247.3 62.3h1M252.3 62.3h2M299.3 62.3h1M314.4 62.3h1M319.4 62.3h1M333.4 62.3h1M338.4 62.3h1M368.4 62.3h1M371.4 62.3h1M374.4 62.3h1M383.4 62.3h1M228.3 69.7h1M231.3 69.7h1M233.3 69.7h1M239.3 69.7h2M245.3 69.7h2M298.3 69.7h1M301.3 69.7h1M312.4 69.7h1M322.4 69.7h1M325.4 69.7h3M330.4 69.7h1M338.4 69.7h1M341.4 69.7h1M358.4 69.7h1M388.4 69.7h1M228.3 77.1h1M247.3 77.1h1M249.3 77.1h1M252.3 77.1h1M316.4 77.1h1M328.4 77.1h2M341.4 77.1h1M224.3 84.5h1M235.3 84.5h1M247.3 84.5h2M251.3 84.5h1M316.4 84.5h1M339.4 84.5h1M388.4 84.5h1M238.3 92h1M241.3 92h1M247.3 92h2M294.3 92h1M315.4 92h2M319.4 92h1M326.4 92h1M356.4 92h1M358.4 92h1M233.3 99.4h1M238.3 99.4h1M325.4 99.4h1M379.4 99.4h1M225.3 106.8h1M233.3 106.8h1M237.3 106.8h2M246.3 106.8h1M336.4 106.8h1M367.4 106.8h1M228.3 114.2h1M234.3 114.2h2M237.3 114.2h1M239.3 114.2h1M244.3 114.2h1M247.3 114.2h1M251.3 114.2h1M255.3 114.2h1M285.3 114.2h1M297.3 114.2h1M301.3 114.2h1M330.4 114.2h1M239.3 121.7h1M246.3 121.7h1M248.3 121.7h1M263.3 121.7h1M315.4 121.7h1M325.4 121.7h1M352.4 121.7h1M224.3 129.1h1M249.3 129.1h1M256.3 129.1h1M263.3 129.1h1M285.3 129.1h1M325.4 129.1h1M388.4 129.1h1M228.3 136.5h1M236.3 136.5h1M240.3 136.5h1M251.3 136.5h1M256.3 136.5h1M301.3 136.5h1M312.4 136.5h1M320.4 136.5h1M328.4 136.5h1M330.4 136.5h1M339.4 136.5h1M239.3 143.9h1M315.4 143.9h1M325.4 143.9h1M335.4 143.9h1M388.4 143.9h1M236.3 151.3h1M245.3 151.3h2M249.3 151.3h1M251.3 151.3h1M316.4 151.3h1M325.4 151.3h1M339.4 151.3h1M388.4 151.3h1M228.3 158.8h1M231.3 158.8h1M241.3 158.8h1M255.3 158.8h1M312.4 158.8h1M327.4 158.8h1M329.4 158.8h1M341.4 158.8h1M358.4 158.8h1M367.4 158.8h1M372.4 158.8h1M228.3 166.2h1M247.3 166.2h1M249.3 166.2h1M297.3 166.2h1M300.3 166.2h1M322.4 166.2h1M337.4 166.2h1M239.3 173.6h1M242.3 173.6h1M245.3 173.6h2M248.3 173.6h1M251.3 173.6h1M255.3 173.6h1M294.3 173.6h1M320.4 173.6h1M326.4 173.6h1M328.4 173.6h2M331.4 173.6h1M336.4 173.6h1M338.4 173.6h2M352.4 173.6h1M362.4 173.6h1" stroke="#a4acd6" stroke-width="7.5" fill="none"/>
<path d="M230.3 32.6h1M234.3 32.6h1M237.3 32.6h1M246.3 32.6h1M255.3 32.6h1M309.4 32.6h1M318.4 32.6h2M322.4 32.6h1M352.4 32.6h1M362.4 32.6h1M225.3 40h1M231.3 40h1M240.3 40h2M248.3 40h2M253.3 40h1M285.3 40h1M315.4 40h1M336.4 40h1M358.4 40h1M367.4 40h1M379.4 40h1M233.3 47.5h1M241.3 47.5h1M246.3 47.5h3M252.3 47.5h1M255.3 47.5h1M319.4 47.5h1M325.4 47.5h1M330.4 47.5h1M333.4 47.5h1M337.4 47.5h1M352.4 47.5h1M383.4 47.5h1M231.3 54.9h1M251.3 54.9h1M314.4 54.9h1M316.4 54.9h1M326.4 54.9h1M339.4 54.9h1M352.4 54.9h1M367.4 54.9h1M372.4 54.9h1M379.4 54.9h1M226.3 62.3h1M241.3 62.3h1M243.3 62.3h1M248.3 62.3h1M251.3 62.3h1M258.3 62.3h1M292.3 62.3h1M317.4 62.3h1M323.4 62.3h1M325.4 62.3h1M367.4 62.3h1M373.4 62.3h1M388.4 62.3h1M234.3 69.7h1M237.3 69.7h1M241.3 69.7h1M244.3 69.7h1M251.3 69.7h1M263.3 69.7h1M315.4 69.7h1M317.4 69.7h2M331.4 69.7h1M335.4 69.7h2M339.4 69.7h1M373.4 69.7h2M226.3 77.1h1M233.3 77.1h1M244.3 77.1h1M246.3 77.1h1M248.3 77.1h1M255.3 77.1h1M301.3 77.1h1M307.3 77.1h1M325.4 77.1h1M339.4 77.1h1M352.4 77.1h1M358.4 77.1h1M231.3 84.5h1M233.3 84.5h1M245.3 84.5h1M252.3 84.5h1M285.3 84.5h1M297.3 84.5h1M322.4 84.5h1M326.4 84.5h1M329.4 84.5h2M337.4 84.5h1M231.3 92h1M236.3 92h1M239.3 92h1M244.3 92h1M253.3 92h1M285.3 92h1M307.3 92h1M314.4 92h1M318.4 92h1M337.4 92h1M340.4 92h1M352.4 92h1M354.4 92h1M367.4 92h1M374.4 92h1M231.3 99.4h1M235.3 99.4h1M239.3 99.4h1M242.3 99.4h1M245.3 99.4h1M249.3 99.4h1M297.3 99.4h1M310.4 99.4h1M312.4 99.4h1M326.4 99.4h1M329.4 99.4h2M337.4 99.4h1M358.4 99.4h1M230.3 106.8h2M240.3 106.8h1M248.3 106.8h1M252.3 106.8h1M255.3 106.8h1M262.3 106.8h1M294.3 106.8h1M301.3 106.8h1M304.3 106.8h1M318.4 106.8h1M323.4 106.8h1M325.4 106.8h1M335.4 106.8h1M338.4 106.8h1M388.4 106.8h1M226.3 114.2h1M231.3 114.2h3M245.3 114.2h2M253.3 114.2h1M258.3 114.2h1M263.3 114.2h1M303.3 114.2h1M309.4 114.2h1M335.4 114.2h1M341.4 114.2h1M352.4 114.2h1M373.4 114.2h2M383.4 114.2h1M390.4 114.2h1M231.3 121.7h1M240.3 121.7h1M244.3 121.7h1M247.3 121.7h1M285.3 121.7h1M322.4 121.7h2M327.4 121.7h1M330.4 121.7h1M338.4 121.7h1M340.4 121.7h1M362.4 121.7h1M379.4 121.7h1M390.4 121.7h1M225.3 129.1h1M228.3 129.1h1M298.3 129.1h1M316.4 129.1h1M326.4 129.1h1M338.4 129.1h2M231.3 136.5h1M233.3 136.5h1M245.3 136.5h1M249.3 136.5h1M252.3 136.5h1M263.3 136.5h1M315.4 136.5h1M322.4 136.5h1M326.4 136.5h1M329.4 136.5h1M335.4 136.5h1M338.4 136.5h1M367.4 136.5h1M371.4 136.5h1M233.3 143.9h1M236.3 143.9h1M242.3 143.9h1M252.3 143.9h1M255.3 143.9h1M317.4 143.9h2M336.4 143.9h1M367.4 143.9h1M235.3 151.3h1M237.3 151.3h1M239.3 151.3h1M241.3 151.3h1M244.3 151.3h1M248.3 151.3h1M258.3 151.3h1M285.3 151.3h1M294.3 151.3h1M301.3 151.3h1M307.3 151.3h1M315.4 151.3h1M337.4 151.3h1M367.4 151.3h1M226.3 158.8h1M233.3 158.8h2M251.3 158.8h1M298.3 158.8h1M308.4 158.8h1M315.4 158.8h1M319.4 158.8h1M325.4 158.8h1M331.4 158.8h1M338.4 158.8h1M371.4 158.8h1M379.4 158.8h1M231.3 166.2h1M239.3 166.2h1M253.3 166.2h1M256.3 166.2h1M294.3 166.2h1M301.3 166.2h1M308.4 166.2h1M317.4 166.2h1M319.4 166.2h1M327.4 166.2h1M338.4 166.2h1M361.4 166.2h1M367.4 166.2h1M379.4 166.2h1M383.4 166.2h1M235.3 173.6h1M309.4 173.6h1M314.4 173.6h1M325.4 173.6h1M335.4 173.6h1M358.4 173.6h1M367.4 173.6h2M372.4 173.6h1M379.4 173.6h1" stroke="#b5bbdd" stroke-width="7.5" fill="none"/>
<path d="M232.3 32.6h1M240.3 32.6h1M253.3 32.6h1M288.3 32.6h1M294.3 32.6h1M304.3 32.6h1M327.4 32.6h1M333.4 32.6h1M336.4 32.6h1M340.4 32.6h1M351.4 32.6h1M358.4 32.6h1M371.4 32.6h1M373.4 32.6h2M383.4 32.6h1M390.4 32.6h1M234.3 40h1M244.3 40h1M250.3 40h1M255.3 40h1M258.3 40h1M294.3 40h1M299.3 40h1M317.4 40h3M334.4 40h1M354.4 40h1M361.4 40h2M368.4 40h1M370.4 40h1M372.4 40h2M228.3 47.5h1M234.3 47.5h1M251.3 47.5h1M263.3 47.5h1M297.3 47.5h1M335.4 47.5h1M362.4 47.5h1M373.4 47.5h1M380.4 47.5h1M234.3 54.9h1M236.3 54.9h1M244.3 54.9h1M258.3 54.9h1M285.3 54.9h1M294.3 54.9h1M298.3 54.9h1M303.3 54.9h1M307.3 54.9h1M315.4 54.9h1M320.4 54.9h1M325.4 54.9h1M335.4 54.9h1M337.4 54.9h1M351.4 54.9h1M354.4 54.9h1M371.4 54.9h1M263.3 62.3h1M285.3 62.3h1M301.3 62.3h1M303.3 62.3h1M331.4 62.3h1M335.4 62.3h2M341.4 62.3h1M372.4 62.3h1M390.4 62.3h1M226.3 69.7h1M253.3 69.7h1M285.3 69.7h1M309.4 69.7h1M319.4 69.7h1M334.4 69.7h1M337.4 69.7h1M340.4 69.7h1M383.4 69.7h1M390.4 69.7h1M234.3 77.1h1M241.3 77.1h1M251.3 77.1h1M253.3 77.1h1M263.3 77.1h1M298.3 77.1h1M315.4 77.1h1M318.4 77.1h1M337.4 77.1h1M367.4 77.1h1M373.4 77.1h1M379.4 77.1h1M382.4 77.1h1M228.3 84.5h1M249.3 84.5h1M262.3 84.5h2M315.4 84.5h1M324.4 84.5h2M327.4 84.5h1M358.4 84.5h1M383.4 84.5h1M226.3 92h1M237.3 92h1M251.3 92h2M308.4 92h1M333.4 92h1M335.4 92h1M338.4 92h1M368.4 92h1M371.4 92h1M379.4 92h1M236.3 99.4h2M241.3 99.4h1M247.3 99.4h2M251.3 99.4h1M285.3 99.4h1M308.4 99.4h1M311.4 99.4h1M314.4 99.4h2M319.4 99.4h2M338.4 99.4h1M383.4 99.4h1M388.4 99.4h1M228.3 106.8h1M234.3 106.8h1M242.3 106.8h1M249.3 106.8h1M253.3 106.8h1M258.3 106.8h1M299.3 106.8h1M303.3 106.8h1M307.3 106.8h3M317.4 106.8h1M337.4 106.8h1M341.4 106.8h1M371.4 106.8h1M379.4 106.8h2M382.4 106.8h1M390.4 106.8h1M230.3 114.2h1M236.3 114.2h1M240.3 114.2h1M252.3 114.2h1M294.3 114.2h1M304.3 114.2h1M315.4 114.2h1M319.4 114.2h1M323.4 114.2h1M338.4 114.2h1M340.4 114.2h1M346.4 114.2h1M358.4 114.2h1M362.4 114.2h1M372.4 114.2h1M382.4 114.2h1M388.4 114.2h1M226.3 121.7h1M234.3 121.7h4M241.3 121.7h2M249.3 121.7h1M251.3 121.7h3M256.3 121.7h1M258.3 121.7h1M292.3 121.7h1M299.3 121.7h1M301.3 121.7h1M304.3 121.7h1M309.4 121.7h1M317.4 121.7h1M326.4 121.7h1M331.4 121.7h1M339.4 121.7h1M367.4 121.7h1M235.3 129.1h2M238.3 129.1h1M251.3 129.1h1M253.3 129.1h1M294.3 129.1h1M309.4 129.1h1M314.4 129.1h1M319.4 129.1h1M322.4 129.1h1M327.4 129.1h1M337.4 129.1h1M352.4 129.1h1M358.4 129.1h1M367.4 129.1h2M371.4 129.1h2M382.4 129.1h1M226.3 136.5h1M239.3 136.5h1M241.3 136.5h2M285.3 136.5h1M316.4 136.5h1M337.4 136.5h1M358.4 136.5h1M388.4 136.5h1M228.3 143.9h1M235.3 143.9h1M237.3 143.9h1M241.3 143.9h1M247.3 143.9h1M249.3 143.9h1M316.4 143.9h1M319.4 143.9h1M323.4 143.9h1M326.4 143.9h1M337.4 143.9h2M371.4 143.9h1M234.3 151.3h1M247.3 151.3h1M309.4 151.3h1M323.4 151.3h1M331.4 151.3h1M335.4 151.3h2M352.4 151.3h1M371.4 151.3h1M380.4 151.3h1M237.3 158.8h1M246.3 158.8h1M248.3 158.8h1M285.3 158.8h1M288.3 158.8h1M304.3 158.8h1M317.4 158.8h1M324.4 158.8h1M333.4 158.8h1M336.4 158.8h1M340.4 158.8h1M346.4 158.8h1M352.4 158.8h1M388.4 158.8h1M390.4 158.8h1M226.3 166.2h1M241.3 166.2h1M255.3 166.2h1M263.3 166.2h1M292.3 166.2h1M309.4 166.2h1M316.4 166.2h1M318.4 166.2h1M333.4 166.2h1M335.4 166.2h2M352.4 166.2h1M362.4 166.2h1M231.3 173.6h1M244.3 173.6h1M252.3 173.6h1M284.3 173.6h1M298.3 173.6h2M301.3 173.6h1M307.3 173.6h1M317.4 173.6h1M319.4 173.6h1M337.4 173.6h1M341.4 173.6h1" stroke="#c6cbe5" stroke-width="7.5" fill="none"/>
<path d="M317.4 32.6h1M324.4 32.6h1M356.4 32.6h1M368.4 32.6h1M382.4 32.6h1M226.3 40h1M230.3 40h1M246.3 40h1M265.3 40h1M288.3 40h1M292.3 40h1M302.3 40h3M307.3 40h3M323.4 40h1M382.4 40h2M235.3 47.5h1M244.3 47.5h1M249.3 47.5h1M277.3 47.5h1M292.3 47.5h1M309.4 47.5h1M315.4 47.5h2M318.4 47.5h1M338.4 47.5h1M340.4 47.5h1M371.4 47.5h1M382.4 47.5h1M240.3 54.9h1M246.3 54.9h1M277.3 54.9h1M288.3 54.9h1M292.3 54.9h1M302.3 54.9h1M304.3 54.9h1M327.4 54.9h1M334.4 54.9h1M341.4 54.9h1M382.4 54.9h1M237.3 62.3h1M240.3 62.3h1M268.3 62.3h1M277.3 62.3h1M288.3 62.3h1M291.3 62.3h1M304.3 62.3h1M308.4 62.3h2M318.4 62.3h1M334.4 62.3h1M362.4 62.3h1M379.4 62.3h1M382.4 62.3h1M235.3 69.7h1M258.3 69.7h2M299.3 69.7h1M307.3 69.7h2M323.4 69.7h1M332.4 69.7h1M371.4 69.7h1M386.4 69.7h1M231.3 77.1h2M237.3 77.1h1M240.3 77.1h1M258.3 77.1h1M277.3 77.1h1M309.4 77.1h1M317.4 77.1h1M322.4 77.1h2M335.4 77.1h2M338.4 77.1h1M354.4 77.1h1M371.4 77.1h2M388.4 77.1h1M226.3 84.5h1M234.3 84.5h1M237.3 84.5h1M241.3 84.5h1M246.3 84.5h1M258.3 84.5h1M288.3 84.5h1M299.3 84.5h1M301.3 84.5h1M323.4 84.5h1M373.4 84.5h1M230.3 92h1M243.3 92h1M288.3 92h1M295.3 92h1M299.3 92h1M303.3 92h1M317.4 92h1M327.4 92h1M334.4 92h1M351.4 92h1M383.4 92h1M388.4 92h1M390.4 92h1M228.3 99.4h1M252.3 99.4h1M255.3 99.4h1M298.3 99.4h2M301.3 99.4h1M307.3 99.4h1M226.3 106.8h1M232.3 106.8h1M241.3 106.8h1M244.3 106.8h1M316.4 106.8h1M319.4 106.8h1M324.4 106.8h1M331.4 106.8h1M340.4 106.8h1M351.4 106.8h1M356.4 106.8h1M358.4 106.8h1M368.4 106.8h1M281.3 114.2h1M288.3 114.2h1M306.3 114.2h1M308.4 114.2h1M317.4 114.2h1M322.4 114.2h1M327.4 114.2h1M334.4 114.2h1M336.4 114.2h1M354.4 114.2h1M356.4 114.2h1M371.4 114.2h1M380.4 114.2h1M265.3 121.7h1M277.3 121.7h1M302.3 121.7h1M316.4 121.7h1M318.4 121.7h1M324.4 121.7h1M333.4 121.7h1M341.4 121.7h1M354.4 121.7h1M368.4 121.7h1M371.4 121.7h3M231.3 129.1h1M240.3 129.1h2M244.3 129.1h1M246.3 129.1h1M252.3 129.1h1M277.3 129.1h1M301.3 129.1h1M307.3 129.1h1M312.4 129.1h1M317.4 129.1h2M323.4 129.1h1M331.4 129.1h1M336.4 129.1h1M362.4 129.1h1M373.4 129.1h2M390.4 129.1h1M234.3 136.5h1M237.3 136.5h1M247.3 136.5h2M288.3 136.5h1M318.4 136.5h2M373.4 136.5h1M234.3 143.9h1M240.3 143.9h1M244.3 143.9h1M246.3 143.9h1M248.3 143.9h1M263.3 143.9h1M285.3 143.9h1M298.3 143.9h1M352.4 143.9h1M358.4 143.9h1M379.4 143.9h1M382.4 143.9h2M226.3 151.3h1M228.3 151.3h1M240.3 151.3h1M253.3 151.3h1M259.3 151.3h1M299.3 151.3h1M322.4 151.3h1M361.4 151.3h1M368.4 151.3h1M382.4 151.3h2M266.3 158.8h1M277.3 158.8h1M294.3 158.8h1M301.3 158.8h1M303.3 158.8h1M307.3 158.8h1M318.4 158.8h1M322.4 158.8h2M373.4 158.8h1M385.4 158.8h1M252.3 166.2h1M304.3 166.2h1M323.4 166.2h1M340.4 166.2h1M358.4 166.2h1M368.4 166.2h1M371.4 166.2h1M376.4 166.2h1M382.4 166.2h1M390.4 166.2h1M226.3 173.6h1M234.3 173.6h1M237.3 173.6h1M249.3 173.6h1M253.3 173.6h1M288.3 173.6h1M315.4 173.6h1M322.4 173.6h1M333.4 173.6h1M340.4 173.6h1M373.4 173.6h1M382.4 173.6h2" stroke="#d8dbed" stroke-width="7.5" fill="none"/>
<path d="M258.3 32.6h1M262.3 32.6h1M265.3 32.6h1M267.3 32.6h1M270.3 32.6h1M278.3 32.6h1M307.3 32.6h2M316.4 32.6h1M354.4 32.6h1M361.4 32.6h1M378.4 32.6h3M262.3 40h1M274.3 40h1M277.3 40h1M327.4 40h1M331.4 40h1M333.4 40h1M340.4 40h2M356.4 40h2M374.4 40h1M380.4 40h1M390.4 40h1M231.3 47.5h2M253.3 47.5h1M278.3 47.5h1M285.3 47.5h1M294.3 47.5h1M299.3 47.5h1M304.3 47.5h1M307.3 47.5h2M327.4 47.5h1M329.4 47.5h1M336.4 47.5h1M341.4 47.5h1M368.4 47.5h1M379.4 47.5h1M232.3 54.9h1M259.3 54.9h1M266.3 54.9h1M278.3 54.9h1M295.3 54.9h1M301.3 54.9h1M309.4 54.9h1M318.4 54.9h1M333.4 54.9h1M336.4 54.9h1M361.4 54.9h1M383.4 54.9h1M390.4 54.9h1M230.3 62.3h1M232.3 62.3h1M244.3 62.3h1M262.3 62.3h1M294.3 62.3h1M302.3 62.3h1M307.3 62.3h1M340.4 62.3h1M346.4 62.3h1M353.4 62.3h2M376.4 62.3h1M380.4 62.3h1M386.4 62.3h1M262.3 69.7h1M265.3 69.7h2M278.3 69.7h1M294.3 69.7h2M333.4 69.7h1M353.4 69.7h1M372.4 69.7h1M380.4 69.7h1M385.4 69.7h1M239.3 77.1h1M242.3 77.1h1M285.3 77.1h1M294.3 77.1h1M303.3 77.1h1M327.4 77.1h1M333.4 77.1h1M340.4 77.1h1M362.4 77.1h1M383.4 77.1h1M292.3 84.5h1M298.3 84.5h1M304.3 84.5h1M307.3 84.5h1M317.4 84.5h1M319.4 84.5h1M336.4 84.5h1M338.4 84.5h1M340.4 84.5h1M361.4 84.5h1M371.4 84.5h1M374.4 84.5h1M379.4 84.5h1M390.4 84.5h1M240.3 92h1M259.3 92h1M281.3 92h1M292.3 92h1M302.3 92h1M331.4 92h1M349.4 92h1M353.4 92h1M362.4 92h1M380.4 92h1M234.3 99.4h1M244.3 99.4h1M263.3 99.4h1M316.4 99.4h1M323.4 99.4h1M327.4 99.4h1M352.4 99.4h1M368.4 99.4h1M372.4 99.4h3M265.3 106.8h1M285.3 106.8h1M292.3 106.8h1M322.4 106.8h1M334.4 106.8h1M373.4 106.8h2M376.4 106.8h1M383.4 106.8h1M277.3 114.2h1M331.4 114.2h1M333.4 114.2h1M368.4 114.2h1M386.4 114.2h1M228.3 121.7h1M255.3 121.7h1M262.3 121.7h1M266.3 121.7h1M280.3 121.7h1M287.3 121.7h1M307.3 121.7h1M356.4 121.7h1M374.4 121.7h1M380.4 121.7h1M382.4 121.7h1M226.3 129.1h1M230.3 129.1h1M258.3 129.1h1M292.3 129.1h1M295.3 129.1h1M299.3 129.1h1M315.4 129.1h1M335.4 129.1h1M341.4 129.1h1M346.4 129.1h1M353.4 129.1h1M363.4 129.1h1M379.4 129.1h1M230.3 136.5h1M244.3 136.5h1M246.3 136.5h1M258.3 136.5h1M277.3 136.5h1M302.3 136.5h1M308.4 136.5h1M317.4 136.5h1M331.4 136.5h1M341.4 136.5h1M368.4 136.5h1M380.4 136.5h1M383.4 136.5h1M231.3 143.9h1M243.3 143.9h1M262.3 143.9h1M278.3 143.9h1M281.3 143.9h1M299.3 143.9h1M301.3 143.9h3M322.4 143.9h1M324.4 143.9h1M327.4 143.9h1M334.4 143.9h1M368.4 143.9h1M374.4 143.9h1M390.4 143.9h1M262.3 151.3h1M274.3 151.3h1M284.3 151.3h1M292.3 151.3h1M303.3 151.3h1M318.4 151.3h1M341.4 151.3h1M349.4 151.3h1M354.4 151.3h1M356.4 151.3h1M362.4 151.3h1M374.4 151.3h1M379.4 151.3h1M390.4 151.3h1M232.3 158.8h1M240.3 158.8h1M244.3 158.8h1M258.3 158.8h1M281.3 158.8h1M299.3 158.8h1M335.4 158.8h1M354.4 158.8h1M383.4 158.8h1M230.3 166.2h1M258.3 166.2h1M262.3 166.2h1M265.3 166.2h2M273.3 166.2h1M280.3 166.2h2M285.3 166.2h1M303.3 166.2h1M306.3 166.2h2M341.4 166.2h1M354.4 166.2h3M372.4 166.2h1M374.4 166.2h1M386.4 166.2h1M230.3 173.6h1M240.3 173.6h1M258.3 173.6h1M273.3 173.6h1M277.3 173.6h1M285.3 173.6h1M292.3 173.6h1M295.3 173.6h1M303.3 173.6h2M308.4 173.6h1M323.4 173.6h1M354.4 173.6h1M371.4 173.6h1M374.4 173.6h1M386.4 173.6h1M388.4 173.6h1" stroke="#e9eaf4" stroke-width="7.5" fill="none"/>
<path d="M266.3 32.6h1M268.3 32.6h1M280.3 32.6h1M287.3 32.6h1M292.3 32.6h1M299.3 32.6h1M302.3 32.6h1M346.4 32.6h1M349.4 32.6h1M353.4 32.6h1M363.4 32.6h1M372.4 32.6h1M386.4 32.6h1M232.3 40h1M243.3 40h1M270.3 40h1M281.3 40h1M324.4 40h1M335.4 40h1M346.4 40h1M350.4 40h1M363.4 40h1M388.4 40h1M226.3 47.5h1M240.3 47.5h1M258.3 47.5h1M262.3 47.5h1M270.3 47.5h1M274.3 47.5h1M280.3 47.5h1M303.3 47.5h1M317.4 47.5h1M324.4 47.5h1M331.4 47.5h1M354.4 47.5h1M361.4 47.5h1M363.4 47.5h1M372.4 47.5h1M390.4 47.5h1M230.3 54.9h1M262.3 54.9h1M308.4 54.9h1M346.4 54.9h1M357.4 54.9h1M362.4 54.9h1M368.4 54.9h1M373.4 54.9h2M265.3 62.3h2M270.3 62.3h1M274.3 62.3h1M295.3 62.3h1M306.3 62.3h1M313.4 62.3h1M324.4 62.3h1M349.4 62.3h1M356.4 62.3h1M361.4 62.3h1M363.4 62.3h2M230.3 69.7h1M232.3 69.7h1M243.3 69.7h1M277.3 69.7h1M281.3 69.7h1M288.3 69.7h1M303.3 69.7h1M354.4 69.7h1M362.4 69.7h1M368.4 69.7h1M378.4 69.7h1M382.4 69.7h1M230.3 77.1h1M259.3 77.1h1M278.3 77.1h1M302.3 77.1h1M304.3 77.1h1M308.4 77.1h1M319.4 77.1h1M331.4 77.1h1M356.4 77.1h1M376.4 77.1h1M380.4 77.1h1M253.3 84.5h1M266.3 84.5h1M303.3 84.5h1M308.4 84.5h2M333.4 84.5h3M341.4 84.5h1M352.4 84.5h1M354.4 84.5h1M372.4 84.5h1M232.3 92h1M258.3 92h1M262.3 92h1M265.3 92h2M273.3 92h2M277.3 92h1M304.3 92h1M309.4 92h1M324.4 92h1M341.4 92h1M355.4 92h1M357.4 92h1M363.4 92h1M376.4 92h1M382.4 92h1M384.4 92h2M253.3 99.4h1M304.3 99.4h1M309.4 99.4h1M317.4 99.4h1M322.4 99.4h1M324.4 99.4h1M331.4 99.4h1M333.4 99.4h1M335.4 99.4h1M341.4 99.4h1M363.4 99.4h1M367.4 99.4h1M380.4 99.4h1M390.4 99.4h1M254.3 106.8h1M273.3 106.8h2M282.3 106.8h1M332.4 106.8h2M349.4 106.8h1M352.4 106.8h1M254.3 114.2h1M262.3 114.2h1M266.3 114.2h1M270.3 114.2h1M274.3 114.2h1M291.3 114.2h1M295.3 114.2h1M299.3 114.2h1M324.4 114.2h1M349.4 114.2h1M353.4 114.2h1M366.4 114.2h1M370.4 114.2h1M250.3 121.7h1M254.3 121.7h1M303.3 121.7h1M313.4 121.7h1M334.4 121.7h1M349.4 121.7h1M361.4 121.7h1M365.4 121.7h1M232.3 129.1h1M237.3 129.1h1M259.3 129.1h1M270.3 129.1h1M303.3 129.1h1M333.4 129.1h1M354.4 129.1h1M361.4 129.1h1M380.4 129.1h1M386.4 129.1h1M270.3 136.5h1M294.3 136.5h1M299.3 136.5h1M303.3 136.5h2M323.4 136.5h2M327.4 136.5h1M336.4 136.5h1M340.4 136.5h1M352.4 136.5h1M356.4 136.5h1M374.4 136.5h1M376.4 136.5h1M379.4 136.5h1M390.4 136.5h1M251.3 143.9h1M258.3 143.9h1M292.3 143.9h1M304.3 143.9h1M308.4 143.9h1M331.4 143.9h1M333.4 143.9h1M340.4 143.9h1M346.4 143.9h1M354.4 143.9h1M362.4 143.9h1M372.4 143.9h2M376.4 143.9h1M386.4 143.9h1M231.3 151.3h2M250.3 151.3h1M254.3 151.3h1M266.3 151.3h1M273.3 151.3h1M278.3 151.3h1M288.3 151.3h1M302.3 151.3h1M308.4 151.3h1M317.4 151.3h1M319.4 151.3h1M334.4 151.3h1M355.4 151.3h1M370.4 151.3h1M372.4 151.3h2M376.4 151.3h1M292.3 158.8h2M296.3 158.8h1M302.3 158.8h1M361.4 158.8h2M368.4 158.8h1M370.4 158.8h1M382.4 158.8h1M389.4 158.8h1M232.3 166.2h1M234.3 166.2h1M254.3 166.2h1M274.3 166.2h1M277.3 166.2h2M287.3 166.2h2M324.4 166.2h1M334.4 166.2h1M343.4 166.2h1M357.4 166.2h1M363.4 166.2h1M370.4 166.2h1M232.3 173.6h1M266.3 173.6h1M318.4 173.6h1M324.4 173.6h1M327.4 173.6h1M346.4 173.6h1M351.4 173.6h1M353.4 173.6h1M361.4 173.6h1M376.4 173.6h1M378.4 173.6h1M380.4 173.6h1" stroke="#fafafc" stroke-width="7.5" fill="none"/>
<path d="M250.3 32.6h1M273.3 32.6h2M281.3 32.6h1M296.3 32.6h1M303.3 32.6h1M332.4 32.6h1M334.4 32.6h1M350.4 32.6h1M355.4 32.6h1M357.4 32.6h1M366.4 32.6h1M370.4 32.6h1M385.4 32.6h1M254.3 40h1M259.3 40h1M273.3 40h1M278.3 40h1M293.3 40h1M295.3 40h1M313.4 40h1M355.4 40h1M386.4 40h1M230.3 47.5h1M265.3 47.5h1M334.4 47.5h1M346.4 47.5h1M349.4 47.5h1M374.4 47.5h1M385.4 47.5h1M250.3 54.9h1M267.3 54.9h1M270.3 54.9h1M275.3 54.9h1M281.3 54.9h1M324.4 54.9h1M349.4 54.9h1M356.4 54.9h1M376.4 54.9h1M380.4 54.9h1M254.3 62.3h1M257.3 62.3h1M259.3 62.3h1M264.3 62.3h1M269.3 62.3h1M281.3 62.3h1M284.3 62.3h1M287.3 62.3h1M332.4 62.3h1M351.4 62.3h1M355.4 62.3h1M366.4 62.3h1M370.4 62.3h1M378.4 62.3h1M257.3 69.7h1M267.3 69.7h1M270.3 69.7h1M280.3 69.7h1M282.3 69.7h1M287.3 69.7h1M293.3 69.7h1M302.3 69.7h1M304.3 69.7h1M313.4 69.7h1M324.4 69.7h1M349.4 69.7h1M351.4 69.7h1M356.4 69.7h1M361.4 69.7h1M366.4 69.7h1M370.4 69.7h1M376.4 69.7h1M389.4 69.7h1M250.3 77.1h1M257.3 77.1h1M262.3 77.1h1M280.3 77.1h1M288.3 77.1h1M292.3 77.1h1M295.3 77.1h1M334.4 77.1h1M346.4 77.1h1M368.4 77.1h1M385.4 77.1h1M390.4 77.1h1M230.3 84.5h1M232.3 84.5h1M240.3 84.5h1M259.3 84.5h1M277.3 84.5h2M287.3 84.5h1M294.3 84.5h1M296.3 84.5h1M331.4 84.5h1M346.4 84.5h1M351.4 84.5h1M353.4 84.5h1M355.4 84.5h2M362.4 84.5h1M365.4 84.5h1M368.4 84.5h1M370.4 84.5h1M382.4 84.5h1M386.4 84.5h1M389.4 84.5h1M250.3 92h1M257.3 92h1M267.3 92h1M270.3 92h1M280.3 92h1M283.3 92h2M291.3 92h1M293.3 92h1M346.4 92h1M372.4 92h1M389.4 92h1M226.3 99.4h1M230.3 99.4h1M243.3 99.4h1M254.3 99.4h1M262.3 99.4h1M277.3 99.4h1M334.4 99.4h1M336.4 99.4h1M346.4 99.4h1M349.4 99.4h1M356.4 99.4h1M371.4 99.4h1M382.4 99.4h1M243.3 106.8h1M250.3 106.8h1M257.3 106.8h1M266.3 106.8h1M268.3 106.8h1M277.3 106.8h1M284.3 106.8h1M347.4 106.8h1M361.4 106.8h2M372.4 106.8h1M378.4 106.8h1M250.3 114.2h1M265.3 114.2h1M268.3 114.2h2M278.3 114.2h1M283.3 114.2h1M287.3 114.2h1M292.3 114.2h2M313.4 114.2h1M344.4 114.2h1M361.4 114.2h1M363.4 114.2h1M376.4 114.2h1M389.4 114.2h1M230.3 121.7h1M232.3 121.7h1M278.3 121.7h1M281.3 121.7h3M288.3 121.7h1M291.3 121.7h1M293.3 121.7h2M308.4 121.7h1M335.4 121.7h1M353.4 121.7h1M363.4 121.7h1M383.4 121.7h1M257.3 129.1h1M302.3 129.1h1M304.3 129.1h1M306.3 129.1h1M308.4 129.1h1M376.4 129.1h1M232.3 136.5h1M253.3 136.5h1M257.3 136.5h1M262.3 136.5h1M265.3 136.5h2M268.3 136.5h1M274.3 136.5h1M282.3 136.5h2M292.3 136.5h1M307.3 136.5h1M309.4 136.5h1M334.4 136.5h1M351.4 136.5h1M361.4 136.5h2M370.4 136.5h1M382.4 136.5h1M386.4 136.5h1M226.3 143.9h1M232.3 143.9h1M250.3 143.9h1M253.3 143.9h2M277.3 143.9h1M287.3 143.9h1M291.3 143.9h1M294.3 143.9h1M307.3 143.9h1M309.4 143.9h1M341.4 143.9h1M356.4 143.9h1M230.3 151.3h1M277.3 151.3h1M291.3 151.3h1M304.3 151.3h1M313.4 151.3h1M340.4 151.3h1M346.4 151.3h1M365.4 151.3h1M378.4 151.3h1M386.4 151.3h1M243.3 158.8h1M257.3 158.8h1M267.3 158.8h1M282.3 158.8h2M287.3 158.8h1M290.3 158.8h1M309.4 158.8h1M332.4 158.8h1M351.4 158.8h1M356.4 158.8h1M363.4 158.8h1M378.4 158.8h1M380.4 158.8h1M250.3 166.2h1M259.3 166.2h1M268.3 166.2h1M282.3 166.2h1M289.3 166.2h1M291.3 166.2h1M293.3 166.2h1M295.3 166.2h2M299.3 166.2h1M313.4 166.2h1M349.4 166.2h1M364.4 166.2h1M380.4 166.2h1M385.4 166.2h1M254.3 173.6h1M257.3 173.6h1M259.3 173.6h1M262.3 173.6h1M265.3 173.6h1M270.3 173.6h1M280.3 173.6h1M293.3 173.6h1M296.3 173.6h1M302.3 173.6h1M334.4 173.6h1M355.4 173.6h1" stroke="#f8e8eb" stroke-width="7.5" fill="none"/>
<path d="M243.3 32.6h1M257.3 32.6h1M275.3 32.6h2M282.3 32.6h1M291.3 32.6h1M344.4 32.6h1M347.4 32.6h1M365.4 32.6h1M387.4 32.6h1M389.4 32.6h1M287.3 40h1M349.4 40h1M353.4 40h1M365.4 40h1M376.4 40h1M378.4 40h1M243.3 47.5h1M257.3 47.5h1M259.3 47.5h1M275.3 47.5h1M281.3 47.5h1M283.3 47.5h1M302.3 47.5h1M306.3 47.5h1M356.4 47.5h1M364.4 47.5h1M376.4 47.5h2M265.3 54.9h1M282.3 54.9h1M293.3 54.9h1M355.4 54.9h1M363.4 54.9h1M378.4 54.9h1M385.4 54.9h2M250.3 62.3h1M273.3 62.3h1M279.3 62.3h1M293.3 62.3h1M343.4 62.3h1M350.4 62.3h1M357.4 62.3h1M365.4 62.3h1M389.4 62.3h1M250.3 69.7h1M254.3 69.7h1M269.3 69.7h1M274.3 69.7h2M283.3 69.7h2M290.3 69.7h1M292.3 69.7h1M306.3 69.7h1M364.4 69.7h1M369.4 69.7h1M243.3 77.1h1M265.3 77.1h2M269.3 77.1h1M274.3 77.1h1M276.3 77.1h1M282.3 77.1h1M324.4 77.1h1M351.4 77.1h1M357.4 77.1h1M361.4 77.1h1M363.4 77.1h1M374.4 77.1h1M378.4 77.1h1M386.4 77.1h1M270.3 84.5h1M274.3 84.5h1M281.3 84.5h1M284.3 84.5h1M302.3 84.5h1M318.4 84.5h1M349.4 84.5h1M363.4 84.5h1M376.4 84.5h1M380.4 84.5h1M385.4 84.5h1M254.3 92h1M260.3 92h1M278.3 92h1M296.3 92h1M313.4 92h1M342.4 92h1M345.4 92h1M366.4 92h1M386.4 92h1M232.3 99.4h1M240.3 99.4h1M258.3 99.4h2M268.3 99.4h1M270.3 99.4h1M278.3 99.4h1M294.3 99.4h2M303.3 99.4h1M313.4 99.4h1M318.4 99.4h1M332.4 99.4h1M355.4 99.4h1M361.4 99.4h1M281.3 106.8h1M283.3 106.8h1M288.3 106.8h1M290.3 106.8h1M295.3 106.8h2M302.3 106.8h1M306.3 106.8h1M354.4 106.8h1M357.4 106.8h1M364.4 106.8h1M370.4 106.8h1M243.3 114.2h1M273.3 114.2h1M276.3 114.2h1M296.3 114.2h1M332.4 114.2h1M342.4 114.2h1M351.4 114.2h1M357.4 114.2h1M364.4 114.2h2M378.4 114.2h1M264.3 121.7h1M274.3 121.7h1M276.3 121.7h1M284.3 121.7h1M290.3 121.7h1M295.3 121.7h2M306.3 121.7h1M343.4 121.7h1M346.4 121.7h1M355.4 121.7h1M377.4 121.7h1M385.4 121.7h2M389.4 121.7h1M262.3 129.1h1M265.3 129.1h1M268.3 129.1h1M278.3 129.1h1M288.3 129.1h1M291.3 129.1h1M313.4 129.1h1M332.4 129.1h1M334.4 129.1h1M351.4 129.1h1M356.4 129.1h2M365.4 129.1h2M383.4 129.1h1M385.4 129.1h1M260.3 136.5h1M278.3 136.5h1M280.3 136.5h2M295.3 136.5h1M333.4 136.5h1M346.4 136.5h1M353.4 136.5h1M366.4 136.5h1M372.4 136.5h1M260.3 143.9h1M266.3 143.9h1M282.3 143.9h1M284.3 143.9h1M290.3 143.9h1M296.3 143.9h1M351.4 143.9h1M353.4 143.9h1M363.4 143.9h1M370.4 143.9h1M378.4 143.9h1M265.3 151.3h1M270.3 151.3h1M282.3 151.3h1M295.3 151.3h1M306.3 151.3h1M324.4 151.3h1M343.4 151.3h2M363.4 151.3h1M366.4 151.3h1M385.4 151.3h1M230.3 158.8h1M250.3 158.8h1M262.3 158.8h1M269.3 158.8h2M276.3 158.8h1M280.3 158.8h1M306.3 158.8h1M334.4 158.8h1M353.4 158.8h1M355.4 158.8h1M357.4 158.8h1M365.4 158.8h1M374.4 158.8h1M376.4 158.8h1M386.4 158.8h1M243.3 166.2h1M257.3 166.2h1M260.3 166.2h1M267.3 166.2h1M270.3 166.2h1M276.3 166.2h1M283.3 166.2h2M302.3 166.2h1M332.4 166.2h1M342.4 166.2h1M365.4 166.2h2M268.3 173.6h1M278.3 173.6h1M283.3 173.6h1M287.3 173.6h1M313.4 173.6h1M347.4 173.6h1M349.4 173.6h1M356.4 173.6h1M366.4 173.6h1M375.4 173.6h1M385.4 173.6h1M389.4 173.6h2" stroke="#f7d6da" stroke-width="7.5" fill="none"/>
<path d="M259.3 32.6h1M264.3 32.6h1M269.3 32.6h1M277.3 32.6h1M279.3 32.6h1M283.3 32.6h2M289.3 32.6h1M313.4 32.6h1M369.4 32.6h1M376.4 32.6h1M264.3 40h1M266.3 40h1M268.3 40h2M282.3 40h2M290.3 40h2M296.3 40h1M306.3 40h1M342.4 40h1M351.4 40h1M360.4 40h1M364.4 40h1M377.4 40h1M385.4 40h1M389.4 40h1M254.3 47.5h1M266.3 47.5h2M273.3 47.5h1M287.3 47.5h2M291.3 47.5h1M295.3 47.5h1M342.4 47.5h2M351.4 47.5h1M353.4 47.5h1M365.4 47.5h2M375.4 47.5h1M389.4 47.5h1M254.3 54.9h1M257.3 54.9h1M273.3 54.9h2M276.3 54.9h1M280.3 54.9h1M284.3 54.9h1M287.3 54.9h1M291.3 54.9h1M343.4 54.9h1M345.4 54.9h1M353.4 54.9h1M364.4 54.9h1M389.4 54.9h1M278.3 62.3h1M280.3 62.3h1M282.3 62.3h1M289.3 62.3h2M342.4 62.3h1M347.4 62.3h1M360.4 62.3h1M375.4 62.3h1M385.4 62.3h1M260.3 69.7h1M268.3 69.7h1M273.3 69.7h1M291.3 69.7h1M296.3 69.7h1M343.4 69.7h3M355.4 69.7h1M357.4 69.7h1M363.4 69.7h1M254.3 77.1h1M268.3 77.1h1M270.3 77.1h1M273.3 77.1h1M299.3 77.1h1M342.4 77.1h1M353.4 77.1h1M370.4 77.1h1M389.4 77.1h1M250.3 84.5h1M254.3 84.5h1M265.3 84.5h1M267.3 84.5h1M306.3 84.5h1M366.4 84.5h1M378.4 84.5h1M268.3 92h2M276.3 92h1M332.4 92h1M343.4 92h2M360.4 92h1M365.4 92h1M375.4 92h1M378.4 92h1M265.3 99.4h1M274.3 99.4h1M282.3 99.4h1M288.3 99.4h1M302.3 99.4h1M340.4 99.4h1M351.4 99.4h1M362.4 99.4h1M370.4 99.4h1M386.4 99.4h1M389.4 99.4h1M259.3 106.8h1M271.3 106.8h1M276.3 106.8h1M278.3 106.8h1M280.3 106.8h1M287.3 106.8h1M293.3 106.8h1M313.4 106.8h1M342.4 106.8h1M353.4 106.8h1M355.4 106.8h1M363.4 106.8h1M365.4 106.8h2M377.4 106.8h1M386.4 106.8h1M259.3 114.2h1M279.3 114.2h1M282.3 114.2h1M284.3 114.2h1M290.3 114.2h1M302.3 114.2h1M318.4 114.2h1M343.4 114.2h1M355.4 114.2h1M369.4 114.2h1M385.4 114.2h1M243.3 121.7h1M267.3 121.7h2M272.3 121.7h2M332.4 121.7h1M357.4 121.7h1M360.4 121.7h1M375.4 121.7h2M378.4 121.7h1M243.3 129.1h1M250.3 129.1h1M254.3 129.1h1M273.3 129.1h1M275.3 129.1h1M280.3 129.1h2M283.3 129.1h1M290.3 129.1h1M293.3 129.1h1M340.4 129.1h1M349.4 129.1h1M364.4 129.1h1M378.4 129.1h1M389.4 129.1h1M254.3 136.5h1M273.3 136.5h1M276.3 136.5h1M284.3 136.5h1M291.3 136.5h1M293.3 136.5h1M354.4 136.5h1M378.4 136.5h1M230.3 143.9h1M257.3 143.9h1M265.3 143.9h1M270.3 143.9h1M273.3 143.9h1M280.3 143.9h1M283.3 143.9h1M288.3 143.9h1M306.3 143.9h1M313.4 143.9h1M343.4 143.9h2M355.4 143.9h1M357.4 143.9h1M365.4 143.9h1M380.4 143.9h1M384.4 143.9h1M243.3 151.3h1M257.3 151.3h1M276.3 151.3h1M281.3 151.3h1M283.3 151.3h1M287.3 151.3h1M293.3 151.3h1M332.4 151.3h2M347.4 151.3h1M350.4 151.3h2M353.4 151.3h1M357.4 151.3h1M387.4 151.3h1M389.4 151.3h1M259.3 158.8h2M265.3 158.8h1M274.3 158.8h1M284.3 158.8h1M295.3 158.8h1M342.4 158.8h1M347.4 158.8h1M349.4 158.8h1M366.4 158.8h1M384.4 158.8h1M264.3 166.2h1M269.3 166.2h1M272.3 166.2h1M346.4 166.2h2M351.4 166.2h1M353.4 166.2h1M369.4 166.2h1M377.4 166.2h1M389.4 166.2h1M243.3 173.6h1M250.3 173.6h1M267.3 173.6h1M274.3 173.6h1M276.3 173.6h1M332.4 173.6h1M342.4 173.6h3M357.4 173.6h1M363.4 173.6h3M370.4 173.6h1" stroke="#f5c4c8" stroke-width="7.5" fill="none"/>
<path d="M254.3 32.6h1M272.3 32.6h1M290.3 32.6h1M293.3 32.6h1M295.3 32.6h1M306.3 32.6h1M342.4 32.6h2M375.4 32.6h1M377.4 32.6h1M384.4 32.6h1M260.3 40h1M267.3 40h1M280.3 40h1M284.3 40h1M289.3 40h1M344.4 40h2M347.4 40h1M384.4 40h1M250.3 47.5h1M268.3 47.5h2M284.3 47.5h1M293.3 47.5h1M296.3 47.5h1M332.4 47.5h1M355.4 47.5h1M357.4 47.5h1M370.4 47.5h1M386.4 47.5h1M243.3 54.9h1M260.3 54.9h1M264.3 54.9h1M268.3 54.9h1M283.3 54.9h1M289.3 54.9h2M296.3 54.9h1M306.3 54.9h1M313.4 54.9h1M332.4 54.9h1M342.4 54.9h1M350.4 54.9h1M366.4 54.9h1M370.4 54.9h1M377.4 54.9h1M384.4 54.9h1M267.3 62.3h1M275.3 62.3h2M283.3 62.3h1M296.3 62.3h1M344.4 62.3h1M369.4 62.3h1M377.4 62.3h1M384.4 62.3h1M271.3 69.7h1M289.3 69.7h1M342.4 69.7h1M346.4 69.7h1M365.4 69.7h1M377.4 69.7h1M264.3 77.1h1M279.3 77.1h1M281.3 77.1h1M284.3 77.1h1M291.3 77.1h1M306.3 77.1h1M344.4 77.1h1M349.4 77.1h1M366.4 77.1h1M257.3 84.5h1M260.3 84.5h1M264.3 84.5h1M268.3 84.5h1M280.3 84.5h1M282.3 84.5h2M289.3 84.5h1M295.3 84.5h1M343.4 84.5h1M357.4 84.5h1M384.4 84.5h1M264.3 92h1M282.3 92h1M287.3 92h1M289.3 92h2M306.3 92h1M361.4 92h1M364.4 92h1M369.4 92h2M377.4 92h1M387.4 92h1M269.3 99.4h1M280.3 99.4h2M283.3 99.4h1M290.3 99.4h1M292.3 99.4h1M353.4 99.4h2M366.4 99.4h1M376.4 99.4h1M378.4 99.4h1M260.3 106.8h1M264.3 106.8h1M267.3 106.8h1M270.3 106.8h1M275.3 106.8h1M289.3 106.8h1M291.3 106.8h1M343.4 106.8h2M346.4 106.8h1M360.4 106.8h1M375.4 106.8h1M384.4 106.8h2M389.4 106.8h1M264.3 114.2h1M267.3 114.2h1M275.3 114.2h1M280.3 114.2h1M289.3 114.2h1M350.4 114.2h1M360.4 114.2h1M375.4 114.2h1M384.4 114.2h1M259.3 121.7h1M270.3 121.7h1M275.3 121.7h1M350.4 121.7h2M364.4 121.7h1M369.4 121.7h2M384.4 121.7h1M266.3 129.1h2M269.3 129.1h1M272.3 129.1h1M274.3 129.1h1M276.3 129.1h1M284.3 129.1h1M287.3 129.1h1M296.3 129.1h1M324.4 129.1h1M344.4 129.1h1M355.4 129.1h1M377.4 129.1h1M384.4 129.1h1M250.3 136.5h1M259.3 136.5h1M269.3 136.5h1M290.3 136.5h1M313.4 136.5h1M332.4 136.5h1M343.4 136.5h1M360.4 136.5h1M363.4 136.5h1M365.4 136.5h1M375.4 136.5h1M259.3 143.9h1M268.3 143.9h1M274.3 143.9h1M276.3 143.9h1M289.3 143.9h1M350.4 143.9h1M361.4 143.9h1M375.4 143.9h1M385.4 143.9h1M389.4 143.9h1M264.3 151.3h1M268.3 151.3h2M271.3 151.3h1M279.3 151.3h2M296.3 151.3h1M254.3 158.8h1M273.3 158.8h1M278.3 158.8h2M291.3 158.8h1M313.4 158.8h1M343.4 158.8h2M350.4 158.8h1M360.4 158.8h1M375.4 158.8h1M290.3 166.2h1M344.4 166.2h2M348.4 166.2h1M350.4 166.2h1M360.4 166.2h1M378.4 166.2h1M384.4 166.2h1M260.3 173.6h1M264.3 173.6h1M281.3 173.6h1M291.3 173.6h1M369.4 173.6h1M377.4 173.6h1" stroke="#f3b2b7" stroke-width="7.5" fill="none"/>
<path d="M260.3 32.6h1M364.4 32.6h1M257.3 40h1M271.3 40h1M279.3 40h1M343.4 40h1M366.4 40h1M369.4 40h1M375.4 40h1M276.3 47.5h1M290.3 47.5h1M313.4 47.5h1M360.4 47.5h1M378.4 47.5h1M384.4 47.5h1M387.4 47.5h1M269.3 54.9h1M271.3 54.9h1M344.4 54.9h1M347.4 54.9h2M365.4 54.9h1M375.4 54.9h1M260.3 62.3h1M271.3 62.3h1M264.3 69.7h1M350.4 69.7h1M375.4 69.7h1M267.3 77.1h1M287.3 77.1h1M290.3 77.1h1M313.4 77.1h1M332.4 77.1h1M343.4 77.1h1M347.4 77.1h1M355.4 77.1h1M365.4 77.1h1M377.4 77.1h1M384.4 77.1h1M243.3 84.5h1M269.3 84.5h1M273.3 84.5h1M275.3 84.5h1M290.3 84.5h2M313.4 84.5h1M332.4 84.5h1M342.4 84.5h1M360.4 84.5h1M369.4 84.5h1M275.3 92h1M279.3 92h1M348.4 92h1M359.4 92h1M250.3 99.4h1M257.3 99.4h1M260.3 99.4h1M266.3 99.4h2M273.3 99.4h1M276.3 99.4h1M284.3 99.4h1M287.3 99.4h1M289.3 99.4h1M293.3 99.4h1M343.4 99.4h1M345.4 99.4h1M347.4 99.4h1M357.4 99.4h1M365.4 99.4h1M375.4 99.4h1M377.4 99.4h1M385.4 99.4h1M279.3 106.8h1M350.4 106.8h1M387.4 106.8h1M347.4 114.2h1M377.4 114.2h1M257.3 121.7h1M260.3 121.7h1M271.3 121.7h1M279.3 121.7h1M289.3 121.7h1M342.4 121.7h1M344.4 121.7h1M347.4 121.7h1M366.4 121.7h1M260.3 129.1h1M271.3 129.1h1M282.3 129.1h1M343.4 129.1h1M370.4 129.1h1M375.4 129.1h1M243.3 136.5h1M264.3 136.5h1M267.3 136.5h1M287.3 136.5h1M342.4 136.5h1M345.4 136.5h1M349.4 136.5h1M355.4 136.5h1M357.4 136.5h1M364.4 136.5h1M385.4 136.5h1M389.4 136.5h1M269.3 143.9h1M295.3 143.9h1M342.4 143.9h1M349.4 143.9h1M364.4 143.9h1M366.4 143.9h1M377.4 143.9h1M387.4 143.9h1M267.3 151.3h1M275.3 151.3h1M290.3 151.3h1M342.4 151.3h1M384.4 151.3h1M264.3 158.8h1M359.4 158.8h1M369.4 158.8h1M387.4 158.8h1M271.3 166.2h1M387.4 166.2h1M272.3 173.6h1M275.3 173.6h1M282.3 173.6h1M289.3 173.6h2M306.3 173.6h1M350.4 173.6h1M359.4 173.6h1" stroke="#f2a0a6" stroke-width="7.5" fill="none"/>
<path d="M271.3 32.6h1M286.3 32.6h1M360.4 32.6h1M276.3 40h1M332.4 40h1M348.4 40h1M387.4 40h1M260.3 47.5h1M264.3 47.5h1M272.3 47.5h1M279.3 47.5h1M289.3 47.5h1M344.4 47.5h1M347.4 47.5h2M350.4 47.5h1M369.4 47.5h1M279.3 54.9h1M360.4 54.9h1M369.4 54.9h1M345.4 62.3h1M279.3 69.7h1M286.3 69.7h1M384.4 69.7h1M387.4 69.7h1M260.3 77.1h1M272.3 77.1h1M275.3 77.1h1M293.3 77.1h1M296.3 77.1h1M350.4 77.1h1M369.4 77.1h1M375.4 77.1h1M387.4 77.1h1M271.3 84.5h1M276.3 84.5h1M293.3 84.5h1M347.4 84.5h1M364.4 84.5h1M377.4 84.5h1M271.3 92h2M347.4 92h1M350.4 92h1M271.3 99.4h1M275.3 99.4h1M279.3 99.4h1M291.3 99.4h1M296.3 99.4h1M342.4 99.4h1M344.4 99.4h1M350.4 99.4h1M360.4 99.4h1M364.4 99.4h1M269.3 106.8h1M272.3 106.8h1M369.4 106.8h1M381.4 106.8h1M257.3 114.2h1M260.3 114.2h1M271.3 114.2h2M348.4 114.2h1M359.4 114.2h1M387.4 114.2h1M269.3 121.7h1M345.4 121.7h1M359.4 121.7h1M387.4 121.7h1M347.4 129.1h1M350.4 129.1h1M369.4 129.1h1M271.3 136.5h1M296.3 136.5h1M306.3 136.5h1M347.4 136.5h1M369.4 136.5h1M264.3 143.9h1M272.3 143.9h1M293.3 143.9h1M332.4 143.9h1M345.4 143.9h1M360.4 143.9h1M369.4 143.9h1M272.3 151.3h1M345.4 151.3h1M348.4 151.3h1M360.4 151.3h1M377.4 151.3h1M268.3 158.8h1M271.3 158.8h1M275.3 158.8h1M286.3 158.8h1M289.3 158.8h1M364.4 158.8h1M377.4 158.8h1M381.4 158.8h1M275.3 166.2h1M279.3 166.2h1M375.4 166.2h1M381.4 166.2h1M279.3 173.6h1M348.4 173.6h1M384.4 173.6h1" stroke="#f08e94" stroke-width="7.5" fill="none"/>
<path d="M348.4 32.6h1M272.3 40h1M275.3 40h1M286.3 40h1M282.3 47.5h1M261.3 54.9h1M286.3 62.3h1M359.4 62.3h1M381.4 62.3h1M387.4 62.3h1M276.3 69.7h1M347.4 69.7h2M360.4 69.7h1M381.4 69.7h1M283.3 77.1h1M289.3 77.1h1M345.4 77.1h1M359.4 77.1h2M364.4 77.1h1M381.4 77.1h1M344.4 84.5h1M375.4 84.5h1M387.4 84.5h1M264.3 99.4h1M272.3 99.4h1M306.3 99.4h1M384.4 99.4h1M387.4 99.4h1M345.4 106.8h1M348.4 106.8h1M345.4 114.2h1M348.4 121.7h1M381.4 121.7h1M264.3 129.1h1M342.4 129.1h1M345.4 129.1h1M360.4 129.1h1M387.4 129.1h1M275.3 136.5h1M279.3 136.5h1M289.3 136.5h1M344.4 136.5h1M377.4 136.5h1M267.3 143.9h1M271.3 143.9h1M275.3 143.9h1M286.3 143.9h1M348.4 143.9h1M381.4 143.9h1M260.3 151.3h1M289.3 151.3h1M364.4 151.3h1M375.4 151.3h1M261.3 166.2h1M286.3 166.2h1M269.3 173.6h1M345.4 173.6h1M387.4 173.6h1" stroke="#ee7d83" stroke-width="7.5" fill="none"/>
<path d="M261.3 32.6h1M345.4 32.6h1M359.4 40h1M381.4 40h1M286.3 47.5h1M359.4 47.5h1M381.4 47.5h1M272.3 54.9h1M286.3 54.9h1M381.4 54.9h1M272.3 69.7h1M359.4 69.7h1M271.3 77.1h1M286.3 77.1h1M348.4 77.1h1M279.3 84.5h1M348.4 84.5h1M350.4 84.5h1M359.4 84.5h1M381.4 84.5h1M261.3 92h1M286.3 92h1M381.4 92h1M348.4 99.4h1M369.4 99.4h1M381.4 99.4h1M261.3 114.2h1M286.3 114.2h1M381.4 114.2h1M286.3 121.7h1M279.3 129.1h1M286.3 129.1h1M289.3 129.1h1M348.4 136.5h1M350.4 136.5h1M359.4 136.5h1M381.4 136.5h1M384.4 136.5h1M387.4 136.5h1M279.3 143.9h1M347.4 143.9h1M369.4 151.3h1M261.3 158.8h1M272.3 158.8h1M345.4 158.8h1M348.4 158.8h1M271.3 173.6h1M360.4 173.6h1" stroke="#ed6b72" stroke-width="7.5" fill="none"/>
<path d="M359.4 32.6h1M261.3 47.5h1M271.3 47.5h1M359.4 54.9h1M261.3 62.3h1M272.3 62.3h1M348.4 62.3h1M261.3 69.7h1M272.3 84.5h1M286.3 99.4h1M286.3 106.8h1M359.4 106.8h1M348.4 129.1h1M359.4 129.1h1M381.4 129.1h1M286.3 136.5h1M261.3 143.9h1M286.3 151.3h1M359.4 151.3h1M381.4 151.3h1M359.4 166.2h1M286.3 173.6h1M381.4 173.6h1" stroke="#eb5961" stroke-width="7.5" fill="none"/>
<path d="M261.3 40h1M345.4 47.5h1M387.4 54.9h1M261.3 84.5h1M286.3 84.5h1M261.3 136.5h1M272.3 136.5h1M261.3 173.6h1" stroke="#e94750" stroke-width="7.5" fill="none"/>
<path d="M261.3 77.1h1M345.4 84.5h1M359.4 99.4h1M261.3 106.8h1M261.3 121.7h1M261.3 129.1h1M359.4 143.9h1M261.3 151.3h1" stroke="#e8353e" stroke-width="7.5" fill="none"/>
<path d="M381.4 32.6h1M261.3 99.4h1" stroke="#e6232d" stroke-width="7.5" fill="none"/>
<rect x="224.3" y="15.2" width="34.4" height="5.4" fill="#5BC2E7" stroke="none" stroke-width="0.8"/>
<rect x="258.7" y="15.2" width="34.1" height="5.4" fill="#D6A2D8" stroke="none" stroke-width="0.8"/>
<rect x="292.8" y="15.2" width="46.3" height="5.4" fill="#5BC2E7" stroke="none" stroke-width="0.8"/>
<rect x="339.1" y="15.2" width="52.3" height="5.4" fill="#D6A2D8" stroke="none" stroke-width="0.8"/>
<rect x="224.3" y="22" width="68.5" height="5.8" fill="#9ACD45" stroke="none" stroke-width="0.8"/>
<rect x="292.8" y="22" width="98.6" height="5.8" fill="#E89490" stroke="none" stroke-width="0.8"/>
<text x="222.8" y="21" font-size="6.8" text-anchor="end" textLength="13.6" lengthAdjust="spacingAndGlyphs">Type</text>
<text x="222.8" y="27.6" font-size="6.8" text-anchor="end" textLength="13.6" lengthAdjust="spacingAndGlyphs">GEO</text>
<text x="392.8" y="34.4" font-size="7.3" textLength="18.6" lengthAdjust="spacingAndGlyphs">TGM2</text>
<text x="392.8" y="41.8" font-size="7.3" textLength="23.1" lengthAdjust="spacingAndGlyphs">POSTN</text>
<text x="392.8" y="49.2" font-size="7.3" textLength="23.1" lengthAdjust="spacingAndGlyphs">MMP14</text>
<text x="392.8" y="56.7" font-size="7.3" textLength="17.5" lengthAdjust="spacingAndGlyphs">PLAU</text>
<text x="392.8" y="64.1" font-size="7.3" textLength="19.7" lengthAdjust="spacingAndGlyphs">TGFBI</text>
<text x="392.8" y="71.5" font-size="7.3" textLength="17.1" lengthAdjust="spacingAndGlyphs">NT5E</text>
<text x="392.8" y="78.9" font-size="7.3" textLength="25" lengthAdjust="spacingAndGlyphs">SLC2A1</text>
<text x="392.8" y="86.3" font-size="7.3" textLength="18.2" lengthAdjust="spacingAndGlyphs">ENO2</text>
<text x="392.8" y="93.8" font-size="7.3" textLength="22.7" lengthAdjust="spacingAndGlyphs">RUNX2</text>
<text x="392.8" y="101.2" font-size="7.3" textLength="20.9" lengthAdjust="spacingAndGlyphs">LOXL2</text>
<text x="392.8" y="108.6" font-size="7.3" textLength="17.5" lengthAdjust="spacingAndGlyphs">DKK1</text>
<text x="392.8" y="116" font-size="7.3" textLength="17" lengthAdjust="spacingAndGlyphs">KRT7</text>
<text x="392.8" y="123.5" font-size="7.3" textLength="19.4" lengthAdjust="spacingAndGlyphs">ITGA2</text>
<text x="392.8" y="130.9" font-size="7.3" textLength="19.4" lengthAdjust="spacingAndGlyphs">ITGB6</text>
<text x="392.8" y="138.3" font-size="7.3" textLength="16.8" lengthAdjust="spacingAndGlyphs">TPX2</text>
<text x="392.8" y="145.7" font-size="7.3" textLength="20.7" lengthAdjust="spacingAndGlyphs">KRT17</text>
<text x="392.8" y="153.1" font-size="7.3" textLength="19.4" lengthAdjust="spacingAndGlyphs">ITGB4</text>
<text x="392.8" y="160.6" font-size="7.3" textLength="19.4" lengthAdjust="spacingAndGlyphs">ITGA3</text>
<text x="392.8" y="168" font-size="7.3" textLength="22.3" lengthAdjust="spacingAndGlyphs">LAMC2</text>
<text x="392.8" y="175.4" font-size="7.3" textLength="22" lengthAdjust="spacingAndGlyphs">LAMB3</text>
<path d="M224.3 40H218.9V47.5H224.3M224.3 54.9H218.9V62.3H224.3M218.9 43.7H217.1V58.6H218.9M224.3 32.6H214.4V51.2H217.1M224.3 77.1H219.5V84.5H224.3M224.3 69.7H216.5V80.8H219.5M224.3 92H219V99.4H224.3M216.5 75.3H213.6V95.7H219M214.4 41.9H211.8V85.5H213.6M224.3 121.7H218.6V129.1H224.3M224.3 114.2H215.9V125.4H218.6M224.3 106.8H211.2V119.8H215.9M224.3 166.2H220.6V173.6H224.3M224.3 158.8H217.6V169.9H220.6M224.3 151.3H217.1V164.3H217.6M224.3 143.9H215.3V157.8H217.1M224.3 136.5H213.9V150.9H215.3M211.2 113.3H212.4V143.7H213.9M211.8 63.7H208.5V128.5H212.4" fill="none" stroke="#333" stroke-width="0.6"/>
<defs><linearGradient id="bg" x1="0" y1="0" x2="0" y2="1"><stop offset="0.0000" stop-color="#e6232d"/><stop offset="0.0833" stop-color="#e94750"/><stop offset="0.1667" stop-color="#ed6b72"/><stop offset="0.2500" stop-color="#f08e94"/><stop offset="0.3333" stop-color="#f3b2b7"/><stop offset="0.4167" stop-color="#f7d6da"/><stop offset="0.5000" stop-color="#fafafc"/><stop offset="0.5833" stop-color="#d8dbed"/><stop offset="0.6667" stop-color="#b5bbdd"/><stop offset="0.7500" stop-color="#929cce"/><stop offset="0.8333" stop-color="#707dbf"/><stop offset="0.9167" stop-color="#4e5daf"/><stop offset="1.0000" stop-color="#2b3ea0"/></linearGradient></defs>
<rect x="422.2" y="16.9" width="5" height="78.1" fill="url(#bg)" stroke="none" stroke-width="0.8"/>
<text x="428.6" y="22.3" font-size="6.5">3</text>
<text x="428.6" y="34.3" font-size="6.5">2</text>
<text x="428.6" y="47.1" font-size="6.5">1</text>
<text x="428.6" y="58.8" font-size="6.5">0</text>
<text x="428.6" y="70.7" font-size="6.5">-1</text>
<text x="428.6" y="81.9" font-size="6.5">-2</text>
<text x="428.6" y="92.5" font-size="6.5">-3</text>
<text x="417.7" y="109.3" font-size="7.4">GEO(GPL6244)</text>
<rect x="417.8" y="110.2" width="6" height="6.8" fill="#9ACD45" stroke="none" stroke-width="0.8"/>
<text x="425.3" y="115.9" font-size="7.4">GSE28735</text>
<rect x="417.8" y="117" width="6" height="5.9" fill="#E89490" stroke="none" stroke-width="0.8"/>
<text x="425.3" y="122.5" font-size="7.4">GSE62452</text>
<text x="417.7" y="135.3" font-size="7.4">Type</text>
<rect x="418.2" y="137.9" width="7.9" height="7.8" fill="#5BC2E7" stroke="none" stroke-width="0.8"/>
<text x="427.6" y="143.2" font-size="7.4">N=106</text>
<rect x="418.2" y="146" width="7.9" height="7.3" fill="#D6A2D8" stroke="none" stroke-width="0.8"/>
<text x="427.6" y="151.2" font-size="7.4">T=114</text>
<text x="447.8" y="12" font-size="16.5" fill="#111" font-weight="bold">C</text>
<line x1="545.2" y1="26.2" x2="545.2" y2="94.6" stroke="#555" stroke-width="0.8"/>
<line x1="543.4" y1="30.4" x2="545.2" y2="30.4" stroke="#333" stroke-width="0.6"/>
<text x="542.9" y="32" font-size="4.6" text-anchor="end" fill="#444">100</text>
<line x1="543.4" y1="62.3" x2="545.2" y2="62.3" stroke="#333" stroke-width="0.6"/>
<text x="542.9" y="63.9" font-size="4.6" text-anchor="end" fill="#444">50</text>
<line x1="543.4" y1="94.2" x2="545.2" y2="94.2" stroke="#333" stroke-width="0.6"/>
<text x="542.9" y="95.8" font-size="4.6" text-anchor="end" fill="#444">0</text>
<text x="534.2" y="56.7" font-size="5.4" text-anchor="middle" transform="rotate(-90 534.2 56.7)">Intersections</text>
<rect x="554.3" y="34.3" width="27.3" height="60.1" fill="#D9B3B9" stroke="#333" stroke-width="0.7"/>
<text x="568" y="34" font-size="6.2" text-anchor="middle" fill="#333">95</text>
<rect x="600.5" y="52.9" width="27.3" height="41.5" fill="#D9B3B9" stroke="#333" stroke-width="0.7"/>
<text x="614.1" y="52.6" font-size="6.2" text-anchor="middle" fill="#333">65</text>
<rect x="645.8" y="91.1" width="27.9" height="3.3" fill="#D9B3B9" stroke="#333" stroke-width="0.7"/>
<text x="659.8" y="90.8" font-size="6.2" text-anchor="middle" fill="#333">5</text>
<rect x="545.3" y="117.8" width="138.1" height="22.4" fill="#EDEEF0" stroke="none" stroke-width="0.8"/>
<line x1="659.6" y1="107.2" x2="659.6" y2="129" stroke="#222" stroke-width="0.9"/>
<path d="M613.7 107.2h0M659.6 107.2h0M567.8 129h0M659.6 129h0" stroke="#1a1a1a" stroke-width="4.6" stroke-linecap="round" fill="none"/>
<path d="M567.8 107.2h0M613.7 129h0" stroke="#CFD0D8" stroke-width="4.6" stroke-linecap="round" fill="none"/>
<rect x="483.3" y="100.1" width="22.5" height="13.8" fill="#A3C0DB" stroke="#333" stroke-width="0.7"/>
<rect x="473" y="121.9" width="32.8" height="14.2" fill="#A3C0DB" stroke="#333" stroke-width="0.7"/>
<text x="508" y="109.4" font-size="5.3" fill="#333" textLength="43.7" lengthAdjust="spacingAndGlyphs">Prognostic molecules</text>
<text x="508" y="131.9" font-size="5.3" fill="#333" textLength="38.1" lengthAdjust="spacingAndGlyphs">CTC-related DEPs</text>
<line x1="472.5" y1="141.8" x2="505.8" y2="141.8" stroke="#333" stroke-width="0.6"/>
<line x1="473" y1="141.8" x2="473" y2="143.2" stroke="#333" stroke-width="0.5"/>
<text x="473" y="146.6" font-size="3" text-anchor="middle" fill="#444">100</text>
<line x1="479.6" y1="141.8" x2="479.6" y2="143.2" stroke="#333" stroke-width="0.5"/>
<text x="479.6" y="146.6" font-size="3" text-anchor="middle" fill="#444">80</text>
<line x1="486.1" y1="141.8" x2="486.1" y2="143.2" stroke="#333" stroke-width="0.5"/>
<text x="486.1" y="146.6" font-size="3" text-anchor="middle" fill="#444">60</text>
<line x1="492.7" y1="141.8" x2="492.7" y2="143.2" stroke="#333" stroke-width="0.5"/>
<text x="492.7" y="146.6" font-size="3" text-anchor="middle" fill="#444">40</text>
<line x1="499.2" y1="141.8" x2="499.2" y2="143.2" stroke="#333" stroke-width="0.5"/>
<text x="499.2" y="146.6" font-size="3" text-anchor="middle" fill="#444">20</text>
<line x1="505.8" y1="141.8" x2="505.8" y2="143.2" stroke="#333" stroke-width="0.5"/>
<text x="505.8" y="146.6" font-size="3" text-anchor="middle" fill="#444">0</text>
<text x="488.7" y="151.6" font-size="5.3" text-anchor="middle" fill="#333" textLength="14.2" lengthAdjust="spacingAndGlyphs">Numbes</text>
<line x1="659" y1="140.5" x2="659" y2="150.2" stroke="#222" stroke-width="0.8"/>
<path d="M656.9 148.2L659 152.2L661.1 148.2Z" fill="#222" stroke="none" stroke-width="0.8"/>
<rect x="545.8" y="153.6" width="115.9" height="41.2" fill="#EEF4F4" stroke="none" stroke-width="0.8"/>
<text x="606.1" y="174.3" font-size="8.8" text-anchor="middle" fill="#333" textLength="94.3" lengthAdjust="spacingAndGlyphs">LAMA3 SERPINB5 ITGA2</text>
<text x="604.1" y="184.3" font-size="8.8" text-anchor="middle" fill="#333" textLength="58.6" lengthAdjust="spacingAndGlyphs">S100A16 ITGA3</text>
<text x="-0.3" y="206.3" font-size="16.5" fill="#111" font-weight="bold">D</text>
<line x1="57.8" y1="198.4" x2="57.8" y2="196.6" stroke="#333" stroke-width="0.5"/>
<line x1="57.8" y1="305.6" x2="57.8" y2="307.4" stroke="#333" stroke-width="0.5"/>
<text x="57.8" y="194.1" font-size="5" text-anchor="middle">5</text>
<text x="57.8" y="312.6" font-size="5" text-anchor="middle">-6</text>
<line x1="80.1" y1="198.4" x2="80.1" y2="196.6" stroke="#333" stroke-width="0.5"/>
<line x1="80.1" y1="305.6" x2="80.1" y2="307.4" stroke="#333" stroke-width="0.5"/>
<text x="80.1" y="194.1" font-size="5" text-anchor="middle">5</text>
<text x="80.1" y="312.6" font-size="5" text-anchor="middle">-5</text>
<line x1="102.5" y1="198.4" x2="102.5" y2="196.6" stroke="#333" stroke-width="0.5"/>
<line x1="102.5" y1="305.6" x2="102.5" y2="307.4" stroke="#333" stroke-width="0.5"/>
<text x="102.5" y="194.1" font-size="5" text-anchor="middle">4</text>
<text x="102.5" y="312.6" font-size="5" text-anchor="middle">-4</text>
<line x1="124.8" y1="198.4" x2="124.8" y2="196.6" stroke="#333" stroke-width="0.5"/>
<line x1="124.8" y1="305.6" x2="124.8" y2="307.4" stroke="#333" stroke-width="0.5"/>
<text x="124.8" y="194.1" font-size="5" text-anchor="middle">1</text>
<text x="124.8" y="312.6" font-size="5" text-anchor="middle">-3</text>
<line x1="147.2" y1="198.4" x2="147.2" y2="196.6" stroke="#333" stroke-width="0.5"/>
<line x1="147.2" y1="305.6" x2="147.2" y2="307.4" stroke="#333" stroke-width="0.5"/>
<text x="147.2" y="194.1" font-size="5" text-anchor="middle">1</text>
<text x="147.2" y="312.6" font-size="5" text-anchor="middle">-2</text>
<line x1="169.5" y1="198.4" x2="169.5" y2="196.6" stroke="#333" stroke-width="0.5"/>
<line x1="169.5" y1="305.6" x2="169.5" y2="307.4" stroke="#333" stroke-width="0.5"/>
<text x="169.5" y="194.1" font-size="5" text-anchor="middle">0</text>
<text x="169.5" y="312.6" font-size="5" text-anchor="middle">-1</text>
<line x1="49.4" y1="285.1" x2="51.2" y2="285.1" stroke="#333" stroke-width="0.5"/>
<text x="46.6" y="285.1" font-size="5" text-anchor="middle" transform="rotate(-90 46.6 285.1)">0.0</text>
<line x1="49.4" y1="263.8" x2="51.2" y2="263.8" stroke="#333" stroke-width="0.5"/>
<text x="46.6" y="263.8" font-size="5" text-anchor="middle" transform="rotate(-90 46.6 263.8)">0.2</text>
<line x1="49.4" y1="242.4" x2="51.2" y2="242.4" stroke="#333" stroke-width="0.5"/>
<text x="46.6" y="242.4" font-size="5" text-anchor="middle" transform="rotate(-90 46.6 242.4)">0.4</text>
<line x1="49.4" y1="221.1" x2="51.2" y2="221.1" stroke="#333" stroke-width="0.5"/>
<text x="46.6" y="221.1" font-size="5" text-anchor="middle" transform="rotate(-90 46.6 221.1)">0.6</text>
<line x1="49.4" y1="199.7" x2="51.2" y2="199.7" stroke="#333" stroke-width="0.5"/>
<text x="46.6" y="199.7" font-size="5" text-anchor="middle" transform="rotate(-90 46.6 199.7)">0.8</text>
<text x="114.3" y="324.2" font-size="7.6" text-anchor="middle" textLength="38.1" lengthAdjust="spacingAndGlyphs">Log Lambda</text>
<text x="37.6" y="243" font-size="7.6" text-anchor="middle" transform="rotate(-90 37.6 243)" textLength="36.8" lengthAdjust="spacingAndGlyphs">Coefficients</text>
<path d="M52.5 202.3C56.9 203 70.9 203.9 78.8 206.3C86.7 208.7 94.5 213.5 99.8 216.8C105 220.1 107 222.7 110.3 226C113.6 229.3 118 234.8 119.5 236.5" fill="none" stroke="#5BC5E6" stroke-width="0.9"/>
<path d="M119.5 236.5C120.2 236.8 119.8 236.2 123.5 238.2C127.2 240.2 136.7 244 141.9 248.3C147.2 252.6 151.7 259.2 155 264C158.3 268.8 159.9 273.7 161.6 277.2C163.3 280.7 164.4 283.8 165 285.1" fill="none" stroke="#5BC5E6" stroke-width="0.9"/>
<path d="M52.5 302.2C55.4 301.8 64.6 301 70 299.8C75.4 298.6 80.8 296.7 85 295C89.2 293.3 92.3 291.1 95 289.5C97.7 287.9 100.2 285.8 101.2 285.1" fill="none" stroke="#5BC5E6" stroke-width="0.8"/>
<path d="M52.5 270.6C56.2 271 68.8 271.7 75 272.8C81.2 273.9 86.2 275.4 90 277C93.8 278.6 96 281.1 98 282.5C100 283.9 101.3 284.7 102 285.1" fill="none" stroke="#222" stroke-width="0.8"/>
<path d="M52.5 299.8C57.1 299.2 71.2 298 80 296.5C88.8 295 98.4 292.9 105 291C111.6 289.1 117.1 286.1 119.5 285.1" fill="none" stroke="#7BC47F" stroke-width="0.7"/>
<path d="M52.5 302.2C57.1 301.8 71.2 301.5 80 300C88.8 298.5 98.4 295.5 105 293C111.6 290.5 117.1 286.4 119.5 285.1" fill="none" stroke="#E0707A" stroke-width="0.7"/>
<line x1="101" y1="285.1" x2="165" y2="285.1" stroke="#5BC5E6" stroke-width="0.9"/>
<text x="53.1" y="203.7" font-size="2.8">5</text>
<text x="53.1" y="271.7" font-size="2.8">1</text>
<text x="53.1" y="298.4" font-size="2.8">3</text>
<text x="53.1" y="301.7" font-size="2.8">2</text>
<text x="53.1" y="304.5" font-size="2.8">4</text>
<rect x="51.2" y="198.4" width="118.3" height="107.2" fill="none" stroke="#333" stroke-width="0.8"/>
<path d="M208.3 227.2V295.1M207.4 227.2h1.8M207.4 295.1h1.8M210.6 227.3V295.1M209.7 227.3h1.8M209.7 295.1h1.8M212.8 227.4V295.2M211.9 227.4h1.8M211.9 295.2h1.8M215.1 227.6V295.2M214.2 227.6h1.8M214.2 295.2h1.8M217.4 227.8V295.3M216.5 227.8h1.8M216.5 295.3h1.8M219.6 228V295.4M218.7 228h1.8M218.7 295.4h1.8M221.9 228.3V295.5M221 228.3h1.8M221 295.5h1.8M224.1 228.6V295.6M223.2 228.6h1.8M223.2 295.6h1.8M226.4 229V295.7M225.5 229h1.8M225.5 295.7h1.8M228.7 229.3V295.9M227.8 229.3h1.8M227.8 295.9h1.8M230.9 229.7V296M230 229.7h1.8M230 296h1.8M233.2 230.1V296.2M232.3 230.1h1.8M232.3 296.2h1.8M235.5 230.6V296.3M234.6 230.6h1.8M234.6 296.3h1.8M237.7 231V296.5M236.8 231h1.8M236.8 296.5h1.8M240 231.5V296.7M239.1 231.5h1.8M239.1 296.7h1.8M242.2 232V296.9M241.3 232h1.8M241.3 296.9h1.8M244.5 232.5V297.1M243.6 232.5h1.8M243.6 297.1h1.8M246.8 233.1V297.3M245.9 233.1h1.8M245.9 297.3h1.8M249 233.7V297.5M248.1 233.7h1.8M248.1 297.5h1.8M251.3 234.2V297.7M250.4 234.2h1.8M250.4 297.7h1.8M253.6 234.8V297.9M252.7 234.8h1.8M252.7 297.9h1.8M255.8 235.5V298.1M254.9 235.5h1.8M254.9 298.1h1.8M258.1 236.1V298.4M257.2 236.1h1.8M257.2 298.4h1.8M260.4 236.8V298.6M259.5 236.8h1.8M259.5 298.6h1.8M262.6 237.4V298.9M261.7 237.4h1.8M261.7 298.9h1.8M264.9 238.1V299.1M264 238.1h1.8M264 299.1h1.8M267.1 238.8V299.4M266.2 238.8h1.8M266.2 299.4h1.8M269.4 239.6V299.6M268.5 239.6h1.8M268.5 299.6h1.8M271.7 240.3V299.9M270.8 240.3h1.8M270.8 299.9h1.8M273.9 241.1V300.2M273 241.1h1.8M273 300.2h1.8M276.2 241.8V300.5M275.3 241.8h1.8M275.3 300.5h1.8M278.5 242.6V300.8M277.6 242.6h1.8M277.6 300.8h1.8M280.7 243.4V301.1M279.8 243.4h1.8M279.8 301.1h1.8M283 243.5V301M282.1 243.5h1.8M282.1 301h1.8M285.3 242.6V300.1M284.4 242.6h1.8M284.4 300.1h1.8M287.5 241.1V299M286.6 241.1h1.8M286.6 299h1.8M289.8 239.4V297.6M288.9 239.4h1.8M288.9 297.6h1.8M292 237.4V296.1M291.1 237.4h1.8M291.1 296.1h1.8M294.3 235.2V294.5M293.4 235.2h1.8M293.4 294.5h1.8M296.6 232.8V292.7M295.7 232.8h1.8M295.7 292.7h1.8M298.8 230.2V290.8M297.9 230.2h1.8M297.9 290.8h1.8M301.1 227.3V288.8M300.2 227.3h1.8M300.2 288.8h1.8M303.4 224.4V286.8M302.5 224.4h1.8M302.5 286.8h1.8M305.6 221.2V284.6M304.7 221.2h1.8M304.7 284.6h1.8M307.9 217.9V282.4M307 217.9h1.8M307 282.4h1.8M310.1 214.5V280M309.2 214.5h1.8M309.2 280h1.8M312.4 210.9V277.6M311.5 210.9h1.8M311.5 277.6h1.8M314.7 207.2V275.2M313.8 207.2h1.8M313.8 275.2h1.8M316.9 203.4V272.6M316 203.4h1.8M316 272.6h1.8M319.2 199.4V270M318.3 199.4h1.8M318.3 270h1.8" fill="none" stroke="#9DA4AD" stroke-width="0.5"/>
<line x1="281.8" y1="198.6" x2="281.8" y2="305.7" stroke="#555" stroke-width="0.7" stroke-dasharray="2.4 1.6"/>
<line x1="315.6" y1="198.6" x2="315.6" y2="305.7" stroke="#555" stroke-width="0.7" stroke-dasharray="2.4 1 0.6 1"/>
<path d="M208.3 261.3h0M210.6 261.3h0M212.8 261.4h0M215.1 261.5h0M217.4 261.7h0M219.6 261.9h0M221.9 262h0M224.1 262.3h0M226.4 262.5h0M228.7 262.7h0M230.9 263h0M233.2 263.3h0M235.5 263.6h0M237.7 263.9h0M240 264.2h0M242.2 264.5h0M244.5 264.9h0M246.8 265.2h0M249 265.6h0M251.3 266h0M253.6 266.4h0M255.8 266.8h0M258.1 267.3h0M260.4 267.7h0M262.6 268.1h0M264.9 268.6h0M267.1 269.1h0M269.4 269.6h0M271.7 270.1h0M273.9 270.6h0M276.2 271.1h0M278.5 271.6h0M280.7 272.1h0M283 272.3h0M285.3 272h0M287.5 271.3h0M289.8 270.4h0M292 269.2h0M294.3 267.7h0M296.6 266h0M298.8 264h0M301.1 261.7h0M303.4 259.2h0M305.6 256.5h0M307.9 253.5h0M310.1 250.3h0M312.4 246.8h0M314.7 243.1h0M316.9 239.1h0M319.2 234.9h0" stroke="#E4382E" stroke-width="1.7" stroke-linecap="round" fill="none"/>
<rect x="204.1" y="198.6" width="119.9" height="107.1" fill="none" stroke="#333" stroke-width="0.8"/>
<line x1="202.3" y1="199.4" x2="204.1" y2="199.4" stroke="#333" stroke-width="0.5"/>
<text x="199.6" y="199.4" font-size="5" text-anchor="middle" transform="rotate(-90 199.6 199.4)">9.3</text>
<line x1="202.3" y1="216.4" x2="204.1" y2="216.4" stroke="#333" stroke-width="0.5"/>
<text x="199.6" y="216.4" font-size="5" text-anchor="middle" transform="rotate(-90 199.6 216.4)">9.2</text>
<line x1="202.3" y1="233.3" x2="204.1" y2="233.3" stroke="#333" stroke-width="0.5"/>
<text x="199.6" y="233.3" font-size="5" text-anchor="middle" transform="rotate(-90 199.6 233.3)">9.1</text>
<line x1="202.3" y1="250.3" x2="204.1" y2="250.3" stroke="#333" stroke-width="0.5"/>
<text x="199.6" y="250.3" font-size="5" text-anchor="middle" transform="rotate(-90 199.6 250.3)">9.0</text>
<line x1="202.3" y1="267.3" x2="204.1" y2="267.3" stroke="#333" stroke-width="0.5"/>
<text x="199.6" y="267.3" font-size="5" text-anchor="middle" transform="rotate(-90 199.6 267.3)">8.9</text>
<line x1="202.3" y1="284.2" x2="204.1" y2="284.2" stroke="#333" stroke-width="0.5"/>
<text x="199.6" y="284.2" font-size="5" text-anchor="middle" transform="rotate(-90 199.6 284.2)">8.8</text>
<line x1="202.3" y1="301.2" x2="204.1" y2="301.2" stroke="#333" stroke-width="0.5"/>
<text x="199.6" y="301.2" font-size="5" text-anchor="middle" transform="rotate(-90 199.6 301.2)">8.7</text>
<line x1="212.4" y1="305.7" x2="212.4" y2="307.5" stroke="#333" stroke-width="0.5"/>
<text x="212.4" y="313.4" font-size="5" text-anchor="middle">-6</text>
<line x1="234.8" y1="305.7" x2="234.8" y2="307.5" stroke="#333" stroke-width="0.5"/>
<text x="234.8" y="313.4" font-size="5" text-anchor="middle">-5</text>
<line x1="257.1" y1="305.7" x2="257.1" y2="307.5" stroke="#333" stroke-width="0.5"/>
<text x="257.1" y="313.4" font-size="5" text-anchor="middle">-4</text>
<line x1="279.5" y1="305.7" x2="279.5" y2="307.5" stroke="#333" stroke-width="0.5"/>
<text x="279.5" y="313.4" font-size="5" text-anchor="middle">-3</text>
<line x1="301.8" y1="305.7" x2="301.8" y2="307.5" stroke="#333" stroke-width="0.5"/>
<text x="301.8" y="313.4" font-size="5" text-anchor="middle">-2</text>
<line x1="324.2" y1="305.7" x2="324.2" y2="307.5" stroke="#333" stroke-width="0.5"/>
<text x="324.2" y="313.4" font-size="5" text-anchor="middle">-1</text>
<line x1="209.7" y1="198.6" x2="209.7" y2="197.1" stroke="#333" stroke-width="0.4"/>
<text x="209.7" y="194.2" font-size="5" text-anchor="middle">5</text>
<line x1="215.6" y1="198.6" x2="215.6" y2="197.1" stroke="#333" stroke-width="0.4"/>
<text x="215.6" y="194.2" font-size="5" text-anchor="middle">5</text>
<line x1="221.5" y1="198.6" x2="221.5" y2="197.1" stroke="#333" stroke-width="0.4"/>
<text x="221.5" y="194.2" font-size="5" text-anchor="middle">5</text>
<line x1="227.3" y1="198.6" x2="227.3" y2="197.1" stroke="#333" stroke-width="0.4"/>
<text x="227.3" y="194.2" font-size="5" text-anchor="middle">5</text>
<line x1="233.2" y1="198.6" x2="233.2" y2="197.1" stroke="#333" stroke-width="0.4"/>
<text x="233.2" y="194.2" font-size="5" text-anchor="middle">5</text>
<line x1="239.1" y1="198.6" x2="239.1" y2="197.1" stroke="#333" stroke-width="0.4"/>
<text x="239.1" y="194.2" font-size="5" text-anchor="middle">5</text>
<line x1="245" y1="198.6" x2="245" y2="197.1" stroke="#333" stroke-width="0.4"/>
<text x="245" y="194.2" font-size="5" text-anchor="middle">5</text>
<line x1="250.9" y1="198.6" x2="250.9" y2="197.1" stroke="#333" stroke-width="0.4"/>
<text x="250.9" y="194.2" font-size="5" text-anchor="middle">4</text>
<line x1="256.8" y1="198.6" x2="256.8" y2="197.1" stroke="#333" stroke-width="0.4"/>
<text x="256.8" y="194.2" font-size="5" text-anchor="middle">3</text>
<line x1="262.6" y1="198.6" x2="262.6" y2="197.1" stroke="#333" stroke-width="0.4"/>
<text x="262.6" y="194.2" font-size="5" text-anchor="middle">3</text>
<line x1="268.5" y1="198.6" x2="268.5" y2="197.1" stroke="#333" stroke-width="0.4"/>
<text x="268.5" y="194.2" font-size="5" text-anchor="middle">3</text>
<line x1="274.4" y1="198.6" x2="274.4" y2="197.1" stroke="#333" stroke-width="0.4"/>
<text x="274.4" y="194.2" font-size="5" text-anchor="middle">1</text>
<line x1="280.3" y1="198.6" x2="280.3" y2="197.1" stroke="#333" stroke-width="0.4"/>
<text x="280.3" y="194.2" font-size="5" text-anchor="middle">1</text>
<line x1="286.2" y1="198.6" x2="286.2" y2="197.1" stroke="#333" stroke-width="0.4"/>
<text x="286.2" y="194.2" font-size="5" text-anchor="middle">1</text>
<line x1="292.1" y1="198.6" x2="292.1" y2="197.1" stroke="#333" stroke-width="0.4"/>
<text x="292.1" y="194.2" font-size="5" text-anchor="middle">1</text>
<line x1="298" y1="198.6" x2="298" y2="197.1" stroke="#333" stroke-width="0.4"/>
<text x="298" y="194.2" font-size="5" text-anchor="middle">1</text>
<line x1="303.8" y1="198.6" x2="303.8" y2="197.1" stroke="#333" stroke-width="0.4"/>
<text x="303.8" y="194.2" font-size="5" text-anchor="middle">1</text>
<line x1="309.7" y1="198.6" x2="309.7" y2="197.1" stroke="#333" stroke-width="0.4"/>
<text x="309.7" y="194.2" font-size="5" text-anchor="middle">1</text>
<line x1="315.6" y1="198.6" x2="315.6" y2="197.1" stroke="#333" stroke-width="0.4"/>
<text x="315.6" y="194.2" font-size="5" text-anchor="middle">1</text>
<text x="262.4" y="325.4" font-size="7.6" text-anchor="middle">Log (λ)</text>
<text x="186.8" y="253.5" font-size="7.6" text-anchor="middle" transform="rotate(-90 186.8 253.5)" textLength="83.2" lengthAdjust="spacingAndGlyphs">Partial Likelihood Deviance</text>
<line x1="315.6" y1="201.4" x2="337" y2="201.4" stroke="#E8413C" stroke-width="0.9"/>
<path d="M335 198.9L341.2 201.4L335 203.9Z" fill="#E8413C" stroke="none" stroke-width="0.8"/>
<text x="344.2" y="205" font-size="7.7">ITGA3</text>
<text x="379.2" y="205.3" font-size="16.5" fill="#111" font-weight="bold">E</text>
<line x1="406.7" y1="209.7" x2="406.7" y2="308.2" stroke="#444" stroke-width="0.8"/>
<line x1="406.7" y1="308.2" x2="512.5" y2="308.2" stroke="#444" stroke-width="0.8"/>
<line x1="404.7" y1="227.2" x2="406.7" y2="227.2" stroke="#444" stroke-width="0.6"/>
<text x="403.5" y="229.6" font-size="6.8" text-anchor="end" fill="#333">8</text>
<line x1="404.7" y1="254.6" x2="406.7" y2="254.6" stroke="#444" stroke-width="0.6"/>
<text x="403.5" y="257" font-size="6.8" text-anchor="end" fill="#333">6</text>
<line x1="404.7" y1="281.5" x2="406.7" y2="281.5" stroke="#444" stroke-width="0.6"/>
<text x="403.5" y="283.9" font-size="6.8" text-anchor="end" fill="#333">4</text>
<text x="397" y="252.5" font-size="10.1" text-anchor="middle" transform="rotate(-90 397 252.5)" textLength="81.8" lengthAdjust="spacingAndGlyphs">ITGA3 mRNA levels</text>
<line x1="427.4" y1="271.5" x2="427.4" y2="283" stroke="#5a5a5a" stroke-width="0.6"/>
<line x1="427.4" y1="292.9" x2="427.4" y2="299.5" stroke="#5a5a5a" stroke-width="0.6"/>
<line x1="420.4" y1="271.5" x2="434.3" y2="271.5" stroke="#5a5a5a" stroke-width="0.6"/>
<line x1="420.4" y1="299.5" x2="434.3" y2="299.5" stroke="#5a5a5a" stroke-width="0.6"/>
<rect x="416.6" y="283" width="21.5" height="9.9" fill="#B3B8C3" stroke="#5a5a5a" stroke-width="0.65"/>
<line x1="416.6" y1="288.1" x2="438.1" y2="288.1" stroke="#5a5a5a" stroke-width="0.75"/>
<line x1="459.9" y1="234.2" x2="459.9" y2="263.4" stroke="#5a5a5a" stroke-width="0.6"/>
<line x1="459.9" y1="283" x2="459.9" y2="304.3" stroke="#5a5a5a" stroke-width="0.6"/>
<line x1="452.4" y1="234.2" x2="467.3" y2="234.2" stroke="#5a5a5a" stroke-width="0.6"/>
<line x1="452.4" y1="304.3" x2="467.3" y2="304.3" stroke="#5a5a5a" stroke-width="0.6"/>
<rect x="448.4" y="263.4" width="22.9" height="19.6" fill="#80B3DD" stroke="#5a5a5a" stroke-width="0.65"/>
<line x1="448.4" y1="273.2" x2="471.3" y2="273.2" stroke="#5a5a5a" stroke-width="0.75"/>
<line x1="492.9" y1="241" x2="492.9" y2="255.3" stroke="#5a5a5a" stroke-width="0.6"/>
<line x1="492.9" y1="277.6" x2="492.9" y2="298.6" stroke="#5a5a5a" stroke-width="0.6"/>
<line x1="485.3" y1="241" x2="500.5" y2="241" stroke="#5a5a5a" stroke-width="0.6"/>
<line x1="485.3" y1="298.6" x2="500.5" y2="298.6" stroke="#5a5a5a" stroke-width="0.6"/>
<rect x="481.2" y="255.3" width="23.4" height="22.3" fill="#C98C93" stroke="#5a5a5a" stroke-width="0.65"/>
<line x1="481.2" y1="267.1" x2="504.6" y2="267.1" stroke="#5a5a5a" stroke-width="0.75"/>
<line x1="427.4" y1="308.2" x2="427.4" y2="310" stroke="#444" stroke-width="0.6"/>
<line x1="459.9" y1="308.2" x2="459.9" y2="310" stroke="#444" stroke-width="0.6"/>
<line x1="492.9" y1="308.2" x2="492.9" y2="310" stroke="#444" stroke-width="0.6"/>
<text x="423.5" y="318.3" font-size="9" text-anchor="middle" textLength="24.8" lengthAdjust="spacingAndGlyphs">Normal</text>
<text x="460.1" y="318.3" font-size="9" text-anchor="middle" textLength="25.6" lengthAdjust="spacingAndGlyphs">Primary</text>
<text x="499.8" y="318.3" font-size="9" text-anchor="middle" textLength="37.2" lengthAdjust="spacingAndGlyphs">Metastasis</text>
<line x1="426.4" y1="230.5" x2="459.7" y2="230.5" stroke="#999" stroke-width="0.8"/>
<text x="441.6" y="232.9" font-size="8" text-anchor="middle" fill="#444">***</text>
<line x1="426.4" y1="222.5" x2="493" y2="222.5" stroke="#666" stroke-width="0.8"/>
<text x="458" y="224" font-size="8" text-anchor="middle" fill="#444">***</text>
<line x1="459.7" y1="214.1" x2="493" y2="214.1" stroke="#999" stroke-width="0.8"/>
<text x="475" y="215.6" font-size="8" text-anchor="middle" fill="#444">**</text>
<text x="527.6" y="204.9" font-size="16.5" fill="#111" font-weight="bold">F</text>
<line x1="563.4" y1="209.3" x2="563.4" y2="309.7" stroke="#444" stroke-width="0.8"/>
<line x1="563.4" y1="309.7" x2="659.7" y2="309.7" stroke="#444" stroke-width="0.8"/>
<line x1="560.4" y1="210.8" x2="563.4" y2="210.8" stroke="#444" stroke-width="0.6"/>
<text x="560" y="212.8" font-size="6" text-anchor="end" fill="#444" style="font-family:'Liberation Serif',serif">2.0</text>
<line x1="560.4" y1="228.5" x2="563.4" y2="228.5" stroke="#444" stroke-width="0.6"/>
<text x="560" y="230.5" font-size="6" text-anchor="end" fill="#444" style="font-family:'Liberation Serif',serif">1.5</text>
<line x1="560.4" y1="246.4" x2="563.4" y2="246.4" stroke="#444" stroke-width="0.6"/>
<text x="560" y="248.4" font-size="6" text-anchor="end" fill="#444" style="font-family:'Liberation Serif',serif">1.0</text>
<line x1="560.4" y1="264.2" x2="563.4" y2="264.2" stroke="#444" stroke-width="0.6"/>
<text x="560" y="266.2" font-size="6" text-anchor="end" fill="#444" style="font-family:'Liberation Serif',serif">0.5</text>
<line x1="560.4" y1="282.3" x2="563.4" y2="282.3" stroke="#444" stroke-width="0.6"/>
<text x="560" y="284.3" font-size="6" text-anchor="end" fill="#444" style="font-family:'Liberation Serif',serif">0.0</text>
<line x1="560.4" y1="300.1" x2="563.4" y2="300.1" stroke="#444" stroke-width="0.6"/>
<text x="560" y="302.1" font-size="6" text-anchor="end" fill="#444" style="font-family:'Liberation Serif',serif">−0.5</text>
<text x="547.9" y="261" font-size="10" text-anchor="middle" transform="rotate(-90 547.9 261)" textLength="82.7" lengthAdjust="spacingAndGlyphs">ITGA3 Protein levels</text>
<line x1="589.2" y1="263" x2="589.2" y2="285.1" stroke="#5a5a5a" stroke-width="0.6"/>
<line x1="589.2" y1="295.2" x2="589.2" y2="302" stroke="#5a5a5a" stroke-width="0.6"/>
<line x1="580.5" y1="263" x2="598" y2="263" stroke="#5a5a5a" stroke-width="0.6"/>
<line x1="580.5" y1="302" x2="598" y2="302" stroke="#5a5a5a" stroke-width="0.6"/>
<rect x="572.5" y="285.1" width="33.5" height="10.1" fill="#80B3DD" stroke="#5a5a5a" stroke-width="0.65"/>
<line x1="572.5" y1="291.2" x2="606" y2="291.2" stroke="#5a5a5a" stroke-width="0.75"/>
<line x1="638" y1="243" x2="638" y2="272.6" stroke="#5a5a5a" stroke-width="0.6"/>
<line x1="638" y1="290" x2="638" y2="306.3" stroke="#5a5a5a" stroke-width="0.6"/>
<line x1="629.9" y1="243" x2="646.2" y2="243" stroke="#5a5a5a" stroke-width="0.6"/>
<line x1="629.9" y1="306.3" x2="646.2" y2="306.3" stroke="#5a5a5a" stroke-width="0.6"/>
<rect x="622.4" y="272.6" width="31.3" height="17.4" fill="#C98C93" stroke="#5a5a5a" stroke-width="0.65"/>
<line x1="622.4" y1="281" x2="653.7" y2="281" stroke="#5a5a5a" stroke-width="0.75"/>
<line x1="593" y1="239.4" x2="636.8" y2="239.4" stroke="#666" stroke-width="0.7"/>
<text x="614.9" y="240.4" font-size="8" text-anchor="middle" fill="#444">***</text>
<text x="577.2" y="319.6" font-size="8.5" text-anchor="middle" textLength="54.2" lengthAdjust="spacingAndGlyphs">No recurrence</text>
<text x="645.2" y="319.6" font-size="8.5" text-anchor="middle" textLength="71.3" lengthAdjust="spacingAndGlyphs">Distant Recurrence</text>
<text x="0.2" y="344.6" font-size="16.5" fill="#111" font-weight="bold">G</text>
<text x="74.2" y="351.3" font-size="11.3" text-anchor="middle" textLength="98" lengthAdjust="spacingAndGlyphs">PADD_CRA001160</text>
<path d="M13.3 357V511M32.6 357V511M52.2 357V511M71.7 357V511M91.5 357V511M111 357V511M4 384.4H126M4 411.6H126M4 438.8H126M4 466.1H126M4 493H126" fill="none" stroke="#E4E5EC" stroke-width="0.6"/>
<path d="M43.7 374 49.3 371.1 56.9 370.2 62.6 373 65.5 371.1 66.4 374 65.5 377.8 68.3 379.7 72.1 380.6 75.9 383.5 79.7 388.2 77.8 393 75.9 398.7 72.1 398.7 71.2 393.9 67.4 393 63.6 392 60.7 388.2 56.9 385.4 53.1 385.4 50.3 381.6 47.4 377.8 44 375.5Z" fill="#4BA8DF" stroke="#4BA8DF" stroke-width="0.6" stroke-linejoin="round"/>
<path d="M71.9 381.7h0M65.2 392.4h0M66.7 395.7h0M64.5 392.2h0M66.9 373.4h0M72.9 398.4h0M57.1 383.8h0M73.5 380.2h0M42.5 375h0M56.9 384.7h0M62 373h0M45.4 376.3h0M60.2 388.3h0M72.7 395.1h0M49.8 371.4h0M65.3 377.7h0M54.6 384.8h0M56.6 386.1h0M48.8 378.7h0M72.2 394.5h0M72.5 394.9h0M51.2 370.2h0M74.8 382.1h0M55.4 370h0M71.7 398.7h0M81 389.2h0M75.1 398.1h0M53.1 384.3h0M61.9 389.9h0M77.5 386.3h0M78.7 388.9h0M45.4 372.7h0M47.2 379.5h0M76.5 397.5h0M55.6 383.3h0M74.1 383.6h0M65.7 376.2h0M52.5 384h0M48.9 370.7h0M63.2 390.5h0M65.5 376.2h0M51.3 385.7h0M68.5 393.1h0M49 380.5h0M63.5 372.7h0M55.9 387h0M49.2 380.5h0M72 396.6h0M76.3 397.7h0M56.3 370.3h0M48.3 382.5h0M43.9 373.5h0M46 375.8h0M73.1 378.6h0M66.8 372h0M44.4 376.5h0M73.1 396.1h0M66 376.1h0M60.3 386.6h0M80.6 388.6h0M52.3 371.8h0M63.6 370.7h0" stroke="#4BA8DF" stroke-width="1" stroke-linecap="round" fill="none"/>
<path d="M72.7 393.7h0M53.5 377.9h0M62.7 382.3h0M48.3 373.8h0M61.8 379.2h0M55 380.2h0M67 386.9h0M56.7 375.6h0M55.5 373.7h0M63.7 390.6h0M57.4 372.5h0M50.1 380.8h0M66.1 382.5h0M57.1 384.3h0M69 382.2h0M68.7 383.3h0M59 382.3h0" stroke="#ffffff" stroke-width="0.9" stroke-linecap="round" fill="none"/>
<path d="M83.5 373 87.3 369.8 90.2 371.1 94.9 374 98.7 379.7 99.6 386.3 98.7 393 96.8 395.8 93 394.9 89.2 393 84.5 393.9 81.6 391.1 83.5 387.3 84.5 383.5 84.5 377.8Z" fill="#B3BA3A" stroke="#B3BA3A" stroke-width="0.6" stroke-linejoin="round"/>
<path d="M83.4 379.8h0M89.9 394.4h0M89.8 369.3h0M89.3 392.1h0M87.2 392.2h0M96.3 395.4h0M88.5 369.8h0M84.7 383h0M83.1 383h0M99.3 383.3h0M83.4 385h0M90.4 393.3h0M99 392.5h0M91.9 373.4h0M96.5 392.5h0M92.3 394.6h0M84.1 375.3h0M80.9 388h0M81.9 391h0M89.9 371.6h0M81.2 389.6h0M90.8 371h0M92 395.7h0M83.5 385.3h0M86.4 380h0M97.8 380h0M93 373.8h0M85.5 382.6h0M86.5 392.2h0M81.5 392.5h0M84.9 376.3h0M85.4 372.2h0M83.6 388.4h0M99.2 381.9h0M93 372.7h0M84.8 376h0M98.7 392.8h0M99.2 386h0M85.6 393.8h0M98.6 389.3h0M85.2 393.7h0M99.3 388.4h0M87.9 370.3h0" stroke="#B3BA3A" stroke-width="1" stroke-linecap="round" fill="none"/>
<path d="M91.1 388h0M93.8 379.4h0M89.7 387h0M93.7 394.3h0M91.8 383.5h0M93.6 383h0M94.7 389.1h0M93.2 388.8h0M98.2 381.6h0M98.2 386.6h0M93.3 380.7h0M87 374.7h0M90.3 390.1h0" stroke="#ffffff" stroke-width="0.9" stroke-linecap="round" fill="none"/>
<path d="M22.8 394.9 24.3 400.5 26.2 405.3 25.6 409.1 21.8 410 19 407.2 20.5 402.4ZM37.8 409 40.2 411 40.8 415 40 419.5 37.5 420.5 35.3 417.5 35.1 412ZM13 421.5 16 421.8 18.6 424 19 428 16.5 429 13 427.5 12.3 424ZM36 429.5 39.5 429 41.8 431.5 41.5 436 38.5 437.6 35.3 436 35.1 432ZM16.1 442.3 19 441.4 20.9 444.2 20.9 449 28.5 449.9 22.8 450.9 20.9 454.7 18 453.7 16.7 449ZM31.3 447.1 36.1 446.1 40.8 448 41.8 452.8 42.7 456.6 45.5 460.4 46.5 466.1 47.5 469 52 473.5 56.9 479.3 55.5 480 49 474 44.6 469.5 40.8 469.9 36.1 468.9 33.2 466.1 32.3 460.4 30.4 454.7 30.7 449.9ZM50.5 451 53.5 450.5 55 455 55 462 53.8 465.1 51 464 48.4 458 49 453.5ZM34.2 480.3 36.5 481 37 485.5 35 486Z" fill="#7554AF" stroke="#7554AF" stroke-width="0.6" stroke-linejoin="round"/>
<path d="M24.3 403.7h0M26.1 406h0M23.7 400.7h0M23.2 397h0M23.7 408.8h0M23.5 395.9h0M19.4 405.2h0M24.4 403.3h0M22.5 408.6h0M26.3 403.5h0M25.6 403.9h0M21.7 399.4h0M21.1 410.7h0M19.8 409.1h0M20.1 405h0M21 409.1h0M20.9 397.5h0M25 408.7h0M21.1 397.9h0M20.7 408.8h0M22.4 409.6h0M39.2 417.7h0M39.2 412.5h0M36.7 414.5h0M37.3 407.8h0M40.1 419.8h0M40.5 411.7h0M38.2 411.5h0M33.9 416.6h0M35.9 419h0M39 409h0M41.1 413h0M34.9 410.7h0M41 414.2h0M40.1 415.8h0M39.3 410.5h0M35.7 417.7h0M19 427.4h0M18.7 425.4h0M16.9 428.1h0M16.2 422.7h0M18.6 426.9h0M14.8 424.2h0M18 428.5h0M16.1 427.4h0M19.6 425.6h0M15 421.7h0M12 421.5h0M18.2 422.9h0M13.3 420.9h0M34.9 437h0M40.8 437.8h0M36.7 428.9h0M36.6 431h0M36 434.1h0M39.8 430.2h0M34.8 431.6h0M35.1 435.6h0M39.2 437.7h0M33.6 432.3h0M34.6 434.5h0M37 429.1h0M41 435.8h0M42.3 433h0M36.8 430.2h0M23.2 449.4h0M21.5 447.1h0M21.7 448.8h0M20.7 453.8h0M22.5 447.6h0M20.3 442.8h0M27.4 450.1h0M20.3 441.4h0M21.2 451.1h0M22.4 449.8h0M22.5 449.1h0M20.2 443.8h0M15.2 445.6h0M20.3 443.9h0M16.7 442.2h0M23.4 448.7h0M28.8 449.7h0M15.8 443.7h0M19.6 453.3h0M17.5 441.8h0M19.7 442.3h0M19.4 442.1h0M26.7 450.6h0M26.5 450.1h0M22.7 451h0M16.3 447.8h0M42.9 470.7h0M31.9 462.9h0M54.7 479.9h0M56.8 479.4h0M30.8 446.8h0M49 465.8h0M35.9 467.7h0M30.5 454.7h0M37.2 467.9h0M42.1 455.9h0M32.8 464h0M41.2 469.8h0M31.8 450.3h0M39 468.4h0M53.1 473.9h0M41.2 447.2h0M31 458h0M46.7 462.1h0M41.6 455.1h0M54.7 476h0M55.6 479.4h0M52.3 472.2h0M32.5 446.5h0M43 455.7h0M42.4 454.6h0M33.6 460.7h0M46.1 468.1h0M43.1 471.8h0M52.9 478.6h0M42.2 459.2h0M33.1 465.1h0M31.8 459.4h0M37.2 445.9h0M38.8 469.7h0M31 452.9h0M46.1 460.9h0M33.8 466.6h0M36.4 445.9h0M47.3 460.6h0M30.6 452.7h0M46.4 466.5h0M41.9 459.1h0M42.6 452.5h0M45.5 461.2h0M33.7 464.7h0M47.3 470.8h0M37.7 469.2h0M29.4 453.5h0M55.9 479.5h0M46.1 461.8h0M38.3 446.6h0M32.7 447.6h0M29.6 447.7h0M40.6 449.8h0M30.6 449.2h0M45 470.4h0M45.6 469.5h0M53.8 465.5h0M49.1 460.6h0M51.4 464.8h0M54 461.7h0M49.2 451.8h0M54.2 464.3h0M54.3 453.3h0M55.1 451.4h0M50.4 464.6h0M48.5 451.1h0M49.4 454h0M51.6 451.3h0M54.7 465.1h0M49.5 459.1h0M54.3 463h0M49 457.6h0M55.7 464h0M48.4 458h0M55.4 458.8h0M49.5 455.1h0M54.9 464.8h0M35.4 479.3h0M37.9 485.6h0M35.6 483.1h0M34.4 481.8h0M35.3 480.9h0M37.3 483.9h0M35.1 480.9h0M34.5 485.1h0" stroke="#7554AF" stroke-width="1" stroke-linecap="round" fill="none"/>
<path d="M22.8 404.3h0M37.1 417.8h0M17.2 423h0M12.7 424.7h0M37.2 430.7h0M40.9 430.9h0M35.3 447.4h0M43.6 459.1h0M40.7 452.1h0M37 455h0M33.3 453.6h0M42.1 465.2h0M36.1 468.8h0M44.7 466.4h0M54.3 460.5h0M54.9 455.6h0M55 457.6h0" stroke="#ffffff" stroke-width="0.9" stroke-linecap="round" fill="none"/>
<path d="M56 413 60 411.5 64 411 68.3 412 69 415 66 416.5 60 417.6 56.5 417.5Z" fill="#8CC85B" stroke="#8CC85B" stroke-width="0.6" stroke-linejoin="round"/>
<path d="M62.9 412h0M67.4 412.3h0M65.8 415.3h0M57.1 416h0M68 411.5h0M66.9 415.2h0M60.8 416.3h0M65.2 416.9h0M63.1 417.4h0M66.1 415.7h0M62.3 413h0M55.9 417.1h0M57.1 418.6h0M56.8 415.5h0M58.4 411h0M64.3 417.2h0M64.6 417.4h0M61.3 411.5h0M65.6 409.1h0" stroke="#8CC85B" stroke-width="1" stroke-linecap="round" fill="none"/>
<path d="M64.7 412.6h0M59.4 413.3h0M60.5 411.7h0" stroke="#ffffff" stroke-width="0.9" stroke-linecap="round" fill="none"/>
<path d="M56.9 415.7 62.6 413.8 68.3 415.7 70.6 421.4 71.2 429 69.3 434.7 66.4 437.6 62.6 435.7 58.8 432.8 55 429 50.3 426.2 51.2 423.3 55 420.5Z" fill="#E3705F" stroke="#E3705F" stroke-width="0.6" stroke-linejoin="round"/>
<path d="M54 424.2h0M65.8 438.9h0M65.5 416.1h0M70.2 416.7h0M54.4 429.5h0M64.3 436.8h0M66.8 437.5h0M58.2 414.2h0M71 427h0M58.3 413.6h0M70.1 437.4h0M50.8 423.4h0M65.1 413.8h0M69.2 417.4h0M50.8 425.8h0M55.7 416.9h0M50.7 425.8h0M56.9 414.7h0M56.3 415.5h0M69.3 434.1h0M57.3 417.4h0M49 426h0M69.2 436.1h0M64.2 436.5h0M54.6 428.8h0M53.8 429.2h0M70.9 432.6h0M50.9 422.1h0M55.4 419.2h0M66.2 413.5h0M71.8 420.7h0M68.1 416.9h0M64.8 414.8h0M56.8 418.6h0M56.2 415.5h0M56.8 414.9h0M61 432.7h0M72 433.8h0M57.3 414.9h0M68.5 419.6h0M59.4 434.2h0" stroke="#E3705F" stroke-width="1" stroke-linecap="round" fill="none"/>
<path d="M61 425.6h0M57.9 425.7h0M59.4 422h0M69.9 421.5h0M60.4 428.9h0M66.7 431.6h0M55.8 425.2h0M59.1 431.7h0M65.3 428.1h0M51.3 423.4h0M58.4 421.4h0M64 435.5h0M59.8 424.1h0" stroke="#ffffff" stroke-width="0.9" stroke-linecap="round" fill="none"/>
<path d="M83 416 86 413 90.5 412.5 93.3 414 93.8 419 92 424 89.5 429 86 430 83 427 82.3 421Z" fill="#52C8B2" stroke="#52C8B2" stroke-width="0.6" stroke-linejoin="round"/>
<path d="M87 430.4h0M84.5 414.1h0M88.7 429.9h0M94.6 418h0M87.9 413.3h0M82.1 424.2h0M88.8 428.9h0M84.8 414.4h0M91.4 413.7h0M84.7 411.7h0M93.5 422.4h0M90.5 411.6h0M83.1 429.8h0M92.1 421.3h0M83.5 424.6h0M85.6 414h0M92.1 424.7h0M92.7 422.3h0M88.5 427.7h0M93.8 417h0M89.1 413.2h0M91.2 427.7h0M81.8 422.5h0M82.3 422.3h0M83.5 425.4h0M87.2 412.4h0M90.1 427.3h0M89.1 413.1h0" stroke="#52C8B2" stroke-width="1" stroke-linecap="round" fill="none"/>
<path d="M86 423h0M91.3 423.1h0M88.7 412.9h0M87.4 424.9h0M86.5 427.4h0" stroke="#ffffff" stroke-width="0.9" stroke-linecap="round" fill="none"/>
<path d="M95.6 415.7 98.7 413.8 104.4 411.9 107.2 409.1 112 406.6 115.8 409.1 114.8 413.8 112 415.7 108.2 417.6 103.4 419.5 98.7 420.5 94.9 419.5Z" fill="#4FD3CB" stroke="#4FD3CB" stroke-width="0.6" stroke-linejoin="round"/>
<path d="M111.7 407.4h0M113 413.3h0M105.6 417.8h0M96.9 414.2h0M108 417.4h0M113.1 407.4h0M113.1 405.2h0M99.3 414.9h0M106 416.9h0M110.2 416.2h0M99.4 412.3h0M110.9 408.3h0M99 414.5h0M102.2 412.6h0M96 417.7h0M115.7 412.4h0M106.6 419h0M115 413.2h0M105 418.6h0M115.1 409.4h0M105.1 411.8h0M109.4 407.1h0M115.5 410.2h0M117 408.8h0M102.3 419.7h0M111.5 406.7h0M96.4 417.7h0M110.3 416.1h0M109.9 415.2h0M95.2 418h0M94 419.3h0M95.9 417.7h0" stroke="#4FD3CB" stroke-width="1" stroke-linecap="round" fill="none"/>
<path d="M99.9 416h0M98.9 413.8h0M101.2 414.9h0" stroke="#ffffff" stroke-width="0.9" stroke-linecap="round" fill="none"/>
<path d="M9.9 468.9 11.4 469.9 12.9 472.7 14.2 476.5 14.8 479.7 13.3 481.2 11.8 480.3 11 475.5 10.4 471.8Z" fill="#2A9078" stroke="#2A9078" stroke-width="0.6" stroke-linejoin="round"/>
<path d="M12.6 481.4h0M11.8 474.2h0M13.4 476.4h0M10.6 471.1h0M12.4 475.9h0M13.4 478h0M11.4 472.7h0M12.9 474.6h0M13 481.4h0M13.3 479.2h0M12.8 473.4h0M13 469.6h0M9.7 477.8h0M14.8 478.5h0M14.2 482.9h0M11.9 478.3h0" stroke="#2A9078" stroke-width="1" stroke-linecap="round" fill="none"/>
<path d="M72.1 455.6 74 456.6 75 460.4 76 463 84 462.5 91 463.2 91 465.5 84 466 78.5 467 78.5 473.7 77.5 480.3 72.1 482 69.3 477 65.5 478.4 62.6 479 59.3 477 61.6 470.8 65.4 464.2 68.3 459.4Z" fill="#E19B36" stroke="#E19B36" stroke-width="0.6" stroke-linejoin="round"/>
<path d="M63.3 469h0M71.8 481.3h0M73 456.4h0M85.7 463.3h0M65.1 465.6h0M90.4 465.3h0M65.9 478.4h0M77.7 461.7h0M72.1 479.5h0M66.9 477.4h0M70.1 481.9h0M79 473.2h0M67.1 479.3h0M63 468.7h0M80.5 464.1h0M80.3 462.7h0M71.2 456h0M66.6 462.6h0M90.5 464.5h0M89.5 465.3h0M68.4 478.7h0M71.2 456.1h0M71.1 481.5h0M74.2 458.9h0M68.4 476.7h0M71.9 459h0M74.3 462.7h0M79.3 469.7h0M70.9 480.1h0M73.2 481.9h0M68.5 460h0M78.3 464.2h0M90.8 464.1h0M83 464.1h0M63.5 479.1h0M75 463.5h0M90.3 466.9h0M75.4 462.7h0M81.8 466.3h0M75 460.7h0M69.3 477.2h0M73 455.4h0M83.4 461.6h0M72.8 481.2h0M71.7 456.3h0M84.5 465.9h0M92.7 462.2h0M76.7 468h0M64.1 479.5h0M66.6 461.8h0M60 476.7h0M74.7 480.4h0M81.7 463.5h0M73.8 456.9h0M79.4 466.8h0M61.8 471.8h0M68.1 478.5h0M71.5 480.2h0M69.4 457.4h0" stroke="#E19B36" stroke-width="1" stroke-linecap="round" fill="none"/>
<path d="M71.6 457.8h0M77.8 468.5h0M76.6 463.9h0M67.1 461.4h0M82.2 466h0M68.5 473.9h0M75.3 467.6h0M75.6 463.6h0M72.1 465.6h0M69.3 458.4h0" stroke="#ffffff" stroke-width="0.9" stroke-linecap="round" fill="none"/>
<path d="M98.7 453.7 105.3 449 112 448 115.8 449 118.6 454.7 117.7 462.3 116.7 469.9 113.9 475.5 108.2 477.4 103.4 476.5 98.7 472.7 94.9 468 90.2 467 86.4 475.5 84.5 480.3 83.5 475.5 86.4 468.9 89.2 465.1 93.9 463.2 96.8 458.5Z" fill="#D8AD3A" stroke="#D8AD3A" stroke-width="0.6" stroke-linejoin="round"/>
<path d="M87.8 473.2h0M117.5 455h0M98.7 454.7h0M87.7 474h0M102.9 449.9h0M102.6 475.9h0M104.8 449.4h0M86.8 474.4h0M101.9 451.2h0M112.7 475.3h0M92.6 467h0M91.5 468.6h0M94.7 461.9h0M87.7 473h0M104.4 476.6h0M97.6 470.5h0M102.2 452h0M89.4 465.1h0M87.1 468.7h0M99.9 453.4h0M89.5 465.4h0M117.6 451.2h0M117.1 468.2h0M92.9 468h0M117 466.1h0M114.3 475.4h0M99.4 474h0M90.2 467.8h0M94.1 463.2h0M116.3 462.4h0M94.9 459h0M117.3 471.7h0M114 474.9h0M100.2 453.3h0M93.4 467.1h0M100.8 474.7h0M118 453.3h0M104.3 477h0M99.2 471.6h0M117.9 452.4h0M117.8 465.5h0M98 456.8h0M106.9 477.4h0M119.5 457h0M86.7 468.8h0M115.3 451.3h0M116.9 450.4h0M117.4 458.7h0M97.3 472.9h0M116.1 449.5h0M89 464.8h0M87.5 468.4h0M109.6 448.7h0M90.1 464h0M94.8 467.4h0M115.1 473.4h0M86.1 479.8h0M113.5 474.4h0M87.5 468.2h0M96.9 454.9h0M102.3 450.2h0M116.8 468.7h0M99.6 452.4h0M96.4 457.7h0M86 468.8h0M83.7 475.2h0M86.3 479.5h0M98.2 472.6h0M95.7 468h0M96.7 455h0M86.9 473.5h0M93 462.9h0" stroke="#D8AD3A" stroke-width="1" stroke-linecap="round" fill="none"/>
<path d="M112.4 459.3h0M101.8 460.9h0M104.6 450.9h0M104.2 457.9h0M88.1 470.5h0M111.1 468.6h0M107.2 469.1h0M102.7 467h0M113.3 470.2h0M102.3 470.5h0M105.5 457h0M99.8 470.5h0M98.6 462.2h0M109.4 467.6h0M99.1 457.5h0M113.3 460.1h0M102.1 467h0" stroke="#ffffff" stroke-width="0.9" stroke-linecap="round" fill="none"/>
<path d="M56.9 476.5 60.7 475.5 64.5 479.3 70.2 481.2 75.9 482.2 81.6 481.2 84.5 485 85.4 492.6 88.3 500.2 87.3 503.6 79.7 503.1 74 501.7 68.3 499.3 62.6 498.3 58.8 494.5 56.9 486.9 56 481.2Z" fill="#D474C7" stroke="#D474C7" stroke-width="0.6" stroke-linejoin="round"/>
<path d="M80.6 501.6h0M84.2 486.8h0M67.3 498.2h0M70 501.3h0M86.3 499.1h0M84.9 483.9h0M86.3 503h0M78.3 481.8h0M64.2 498.9h0M70.2 481.3h0M63.2 497.9h0M62.2 497.1h0M63.4 477.1h0M61 496.8h0M86.4 504h0M74.3 480.7h0M66.4 479.9h0M57.6 489.5h0M77.2 502h0M77.5 482.6h0M56.9 479.8h0M85 494.5h0M68.8 501.5h0M85.4 489.1h0M56.6 476.1h0M77 482.6h0M55.6 481.4h0M88.7 496.7h0M68.8 499h0M84.7 491.1h0M57.1 477.4h0M62.9 477.5h0M57.5 492.5h0M72.9 500.5h0M62.3 498.8h0M64.9 498.3h0M66.6 480h0M73.5 484.5h0M87.1 502.8h0M55.2 481.7h0M56.3 478.9h0M57.4 477.7h0M60.5 496.2h0M77.5 482.7h0M85.2 492.9h0M68.6 480.3h0M78.7 501.9h0M60.2 474.2h0M63.8 477h0M69.5 480.4h0M85.9 487.6h0M56.7 483.6h0M60.2 475.8h0M70 481h0M58.3 494.4h0M70.9 499h0M57 489.2h0M68.3 499h0M58.7 490.8h0M76.3 481.6h0" stroke="#D474C7" stroke-width="1" stroke-linecap="round" fill="none"/>
<path d="M75 492.8h0M60 493.7h0M75.9 498.9h0M56.7 483.8h0M84.5 490.9h0M80.2 482.8h0M65.6 485.1h0M71.9 490.3h0M63.4 496h0M84.8 492.5h0M63.7 492.9h0M61.5 477.6h0M79.3 501.9h0M75.8 491.4h0M76 486.1h0M68.9 498.3h0M58.7 480.2h0M60.6 485.7h0" stroke="#ffffff" stroke-width="0.9" stroke-linecap="round" fill="none"/>
<path d="M79.5 438 82 434.5 86 431.5 90 429.5 92 428M102.5 434.5 104.5 430 107 427 110 423 112 420 114 417M98.5 434 100.5 431" fill="none" stroke="#4A62C0" stroke-width="1.3" stroke-linecap="round" stroke-linejoin="round"/>
<text x="62.6" y="381.5" font-size="5" textLength="24" lengthAdjust="spacingAndGlyphs">Fibroblasts</text>
<text x="92" y="381.5" font-size="5" textLength="16.3" lengthAdjust="spacingAndGlyphs">Stellate</text>
<text x="62.6" y="418.5" font-size="5" textLength="7.1" lengthAdjust="spacingAndGlyphs">DC</text>
<text x="74" y="417.2" font-size="5" textLength="16.3" lengthAdjust="spacingAndGlyphs">Plasma</text>
<text x="98.3" y="415.3" font-size="5" textLength="17.4" lengthAdjust="spacingAndGlyphs">CD8Tex</text>
<text x="98.7" y="427.4" font-size="5" textLength="3.3" lengthAdjust="spacingAndGlyphs">B</text>
<text x="63.2" y="432.3" font-size="5" textLength="27.2" lengthAdjust="spacingAndGlyphs">Mono/Macro</text>
<text x="35.1" y="442.6" font-size="5" textLength="21.2" lengthAdjust="spacingAndGlyphs">Malignant</text>
<text x="14.2" y="472" font-size="5" textLength="22.1" lengthAdjust="spacingAndGlyphs">Endocrine</text>
<text x="72.1" y="462.2" font-size="5" textLength="13.9" lengthAdjust="spacingAndGlyphs">Acinar</text>
<text x="101" y="460.3" font-size="5" textLength="24.2" lengthAdjust="spacingAndGlyphs">Endothelial</text>
<text x="75" y="490.3" font-size="5" textLength="13.9" lengthAdjust="spacingAndGlyphs">Ductal</text>
<text x="136.6" y="396.6" font-size="5.3" fill="#333" textLength="48.9" lengthAdjust="spacingAndGlyphs">Celltype (major-lineage)</text>
<path d="M140 402.1h0" stroke="#E19B36" stroke-width="3.2" stroke-linecap="round" fill="none"/>
<text x="144.7" y="403.9" font-size="5" fill="#333" textLength="12.2" lengthAdjust="spacingAndGlyphs">Acinar</text>
<path d="M140 409.1h0" stroke="#4A62C0" stroke-width="3.2" stroke-linecap="round" fill="none"/>
<text x="144.7" y="410.9" font-size="5" fill="#333" textLength="2.9" lengthAdjust="spacingAndGlyphs">B</text>
<path d="M140 416.1h0" stroke="#47D2C2" stroke-width="3.2" stroke-linecap="round" fill="none"/>
<text x="144.7" y="417.9" font-size="5" fill="#333" textLength="15.3" lengthAdjust="spacingAndGlyphs">CD8Tex</text>
<path d="M140 423.1h0" stroke="#8CC85B" stroke-width="3.2" stroke-linecap="round" fill="none"/>
<text x="144.7" y="424.9" font-size="5" fill="#333" textLength="6.2" lengthAdjust="spacingAndGlyphs">DC</text>
<path d="M140 430.1h0" stroke="#D474C7" stroke-width="3.2" stroke-linecap="round" fill="none"/>
<text x="144.7" y="431.9" font-size="5" fill="#333" textLength="12.2" lengthAdjust="spacingAndGlyphs">Ductal</text>
<path d="M140 437.1h0" stroke="#2A9078" stroke-width="3.2" stroke-linecap="round" fill="none"/>
<text x="144.7" y="438.9" font-size="5" fill="#333" textLength="19.4" lengthAdjust="spacingAndGlyphs">Endocrine</text>
<path d="M140 444.1h0" stroke="#D8AD3A" stroke-width="3.2" stroke-linecap="round" fill="none"/>
<text x="144.7" y="445.9" font-size="5" fill="#333" textLength="21.3" lengthAdjust="spacingAndGlyphs">Endothelial</text>
<path d="M140 451.1h0" stroke="#4BA8DF" stroke-width="3.2" stroke-linecap="round" fill="none"/>
<text x="144.7" y="452.9" font-size="5" fill="#333" textLength="21" lengthAdjust="spacingAndGlyphs">Fibroblasts</text>
<path d="M140 458.1h0" stroke="#7554AF" stroke-width="3.2" stroke-linecap="round" fill="none"/>
<text x="144.7" y="459.9" font-size="5" fill="#333" textLength="18.6" lengthAdjust="spacingAndGlyphs">Malignant</text>
<path d="M140 465.1h0" stroke="#E3705F" stroke-width="3.2" stroke-linecap="round" fill="none"/>
<text x="144.7" y="466.9" font-size="5" fill="#333" textLength="23.9" lengthAdjust="spacingAndGlyphs">Mono/Macro</text>
<path d="M140 472.1h0" stroke="#9B9B9B" stroke-width="3.2" stroke-linecap="round" fill="none"/>
<text x="144.7" y="473.9" font-size="5" fill="#333" textLength="14.3" lengthAdjust="spacingAndGlyphs">Plasma</text>
<path d="M140 479.1h0" stroke="#B3BA3A" stroke-width="3.2" stroke-linecap="round" fill="none"/>
<text x="144.7" y="480.9" font-size="5" fill="#333" textLength="14.3" lengthAdjust="spacingAndGlyphs">Stellate</text>
<text x="171.8" y="345.7" font-size="16.5" fill="#111" font-weight="bold">H</text>
<text x="271.3" y="351.3" font-size="11" text-anchor="middle" textLength="31.9" lengthAdjust="spacingAndGlyphs">ITGA3</text>
<path d="M206.4 362.7V502.2M228.4 362.7V502.2M250.6 362.7V502.2M271.9 362.7V502.2M293.8 362.7V502.2M315.2 362.7V502.2M197 383.5H332.3M197 409.1H332.3M197 435.3H332.3M197 460.9H332.3M197 486.6H332.3" fill="none" stroke="#E4E5EC" stroke-width="0.6"/>
<path d="M240.4 374.2 246.7 371.5 255.2 370.7 261.6 373.3 264.9 371.5 265.9 374.2 264.9 377.8 268 379.6 272.3 380.4 276.6 383.1 280.9 387.5 278.7 392 276.6 397.3 272.3 397.3 271.3 392.8 267 392 262.8 391 259.5 387.5 255.2 384.9 250.9 384.9 247.8 381.3 244.5 377.8 240.7 375.6ZM285.1 373.3 289.4 370.3 292.7 371.5 298 374.2 302.2 379.6 303.2 385.7 302.2 392 300.1 394.6 295.8 393.7 291.6 392 286.3 392.8 283 390.2 285.1 386.7 286.3 383.1 286.3 377.8ZM216.8 393.7 218.5 399 220.7 403.4 220 407 215.7 407.8 212.6 405.2 214.3 400.7ZM233.7 406.9 236.4 408.8 237.1 412.5 236.2 416.7 233.4 417.6 230.9 414.8 230.7 409.7ZM205.8 418.6 209.2 418.8 212.1 420.9 212.6 424.6 209.8 425.6 205.8 424.2 205 420.9ZM231.7 426 235.6 425.6 238.2 427.9 237.9 432.1 234.5 433.6 230.9 432.1 230.7 428.4ZM209.3 438 212.6 437.1 214.7 439.7 214.7 444.2 223.3 445.1 216.8 446 214.7 449.5 211.4 448.6 210 444.2ZM226.4 442.4 231.8 441.5 237.1 443.3 238.2 447.8 239.2 451.3 242.4 454.9 243.5 460.2 244.6 462.9 249.7 467.1 255.2 472.5 253.6 473.1 246.3 467.5 241.4 463.3 237.1 463.7 231.8 462.8 228.5 460.2 227.5 454.9 225.4 449.5 225.7 445.1ZM248 446.1 251.4 445.6 253.1 449.8 253.1 456.3 251.7 459.2 248.6 458.2 245.6 452.6 246.3 448.4ZM229.7 473.4 232.3 474.1 232.8 478.3 230.6 478.7ZM254.2 410.6 258.7 409.2 263.2 408.8 268 409.7 268.8 412.5 265.4 413.9 258.7 414.9 254.8 414.8ZM255.2 413.1 261.6 411.4 268 413.1 270.6 418.5 271.3 425.6 269.2 430.9 265.9 433.6 261.6 431.8 257.3 429.1 253.1 425.6 247.8 422.9 248.8 420.2 253.1 417.6ZM284.6 413.4 287.9 410.6 293 410.2 296.2 411.6 296.7 416.2 294.7 420.9 291.9 425.6 287.9 426.5 284.6 423.7 283.8 418.1ZM298.8 413.1 302.2 411.4 308.6 409.6 311.8 407 317.2 404.7 321.5 407 320.4 411.4 317.2 413.1 312.9 414.9 307.5 416.7 302.2 417.6 298 416.7ZM202.3 462.8 204 463.7 205.7 466.3 207.2 469.9 207.8 472.9 206.2 474.3 204.5 473.4 203.6 468.9 202.9 465.5ZM272.3 450.4 274.4 451.3 275.6 454.9 276.7 457.3 285.7 456.8 293.6 457.5 293.6 459.6 285.7 460.1 279.5 461 279.5 467.3 278.4 473.4 272.3 475 269.2 470.3 264.9 471.6 261.6 472.2 257.9 470.3 260.5 464.6 264.8 458.4 268 453.9ZM302.2 448.6 309.7 444.2 317.2 443.3 321.5 444.2 324.6 449.5 323.6 456.6 322.5 463.7 319.3 468.9 312.9 470.7 307.5 469.9 302.2 466.3 298 461.9 292.7 461 288.4 468.9 286.3 473.4 285.1 468.9 288.4 462.8 291.6 459.2 296.8 457.5 300.1 453.1ZM255.2 469.9 259.5 468.9 263.8 472.5 270.2 474.3 276.6 475.2 283 474.3 286.3 477.8 287.3 484.9 290.5 492 289.4 495.2 280.9 494.7 274.4 493.4 268 491.1 261.6 490.2 257.3 486.7 255.2 479.6 254.2 474.3Z" fill="#CED1DF" stroke="#CED1DF" stroke-width="0.6" stroke-linejoin="round"/>
<path d="M269.2 378.9h0M254.2 371.9h0M247.9 371.2h0M264.9 379.1h0M246.1 370.7h0M265 379.6h0M277.6 391.7h0M261.9 390.8h0M256.6 385.3h0M241 373.6h0M271.7 396.2h0M269.4 379.6h0M251.6 371.1h0M244.7 382h0M266.1 377.3h0M269.3 393.6h0M279.7 391h0M252.5 372h0M269.2 379.4h0M240.1 372.5h0M279.9 386.3h0M278.6 385.5h0M249.8 383h0M270.1 393.6h0M265.8 375.4h0M266.4 373h0M255.6 384.8h0M266.5 378.5h0M248.9 382.7h0M264.4 391.6h0M263 390h0M266.4 379.5h0M247.5 371.8h0M271.3 393.6h0M272 380.9h0M271.6 393.6h0M280.5 390h0M246 377.7h0M263.7 392.4h0M252 384.5h0M243.3 376.4h0M271.1 393.9h0M273 381.9h0M276.3 382.8h0M251.7 384.2h0M253.8 370h0M264.3 391h0M242.3 374.6h0M273.3 379.4h0M270.8 379.7h0M242.6 375.5h0M262.8 391.2h0M238.9 374.9h0M248.8 382.2h0M259.6 388.5h0M255 370.7h0M278.3 383.2h0M277 398h0M276.2 395.3h0M271.4 392.4h0M280.2 387.2h0M259.1 386.7h0M265.6 371.9h0M245.5 372.3h0M259.3 386.1h0M262.5 392.3h0M278.9 394.6h0M244.1 372h0M266.2 391.4h0M259.5 387.7h0M263.2 370.9h0M281 388.3h0M251 383.8h0M251.1 383.4h0M258.3 371.6h0M247.3 381.5h0M252.3 384.3h0M277.4 396.1h0M249.7 382.8h0M260.5 372.6h0M246.7 379.3h0M244.1 376.8h0M249.6 384.1h0M277.7 394.2h0M266.8 392.5h0M280.1 388.8h0M264 377.7h0M287.3 380.8h0M293.4 373.5h0M282.7 390h0M290.7 371.4h0M296.4 393.4h0M298.4 374.8h0M300.1 393.1h0M294.2 393.2h0M290.4 370.5h0M303 379.9h0M285.8 375.4h0M301.1 393.6h0M295.9 393.1h0M296.2 374.2h0M297.6 394.5h0M285 377.4h0M286.4 381.2h0M286 371.9h0M286.2 387.4h0M286.3 383.1h0M286 375.9h0M286.2 386.8h0M302 393.7h0M297.1 373.6h0M303.6 384.6h0M282.7 389.6h0M285.1 378.1h0M296.6 395.3h0M285.8 377.1h0M282.7 390.9h0M302.4 391.7h0M293 392.4h0M300.3 378.8h0M298 374.9h0M286.4 378.5h0M300.5 377.5h0M286.3 386.8h0M300.5 375.3h0M287 377h0M300.3 393.2h0M284.7 384.8h0M302.8 383.6h0M293 372.2h0M304.2 380.5h0M284.8 375h0M303.2 381.7h0M290.4 392h0M286.8 385h0M291.5 393.9h0M284.7 391.2h0M282.8 392.6h0M292.8 371.7h0M285.9 384.2h0M285.7 391.2h0M297.4 372.6h0M285.4 386.2h0M302.5 388.3h0M286.8 381.1h0M219.1 399.3h0M217.9 399.1h0M214.4 401.8h0M218.6 400.2h0M220.4 403.2h0M217 395h0M220 404.1h0M212.9 406.7h0M218.7 399.4h0M215.6 407.4h0M215.6 396.8h0M218.9 397.3h0M218.2 400.2h0M220.4 402.6h0M213.8 400.9h0M217.2 395.3h0M218.6 396.1h0M220.4 403.4h0M218.9 397.7h0M215.5 396.3h0M214.2 407.4h0M213 401.7h0M217.5 396.4h0M220.5 405.5h0M219.7 400.2h0M217.5 408.2h0M221.4 404.4h0M230.6 415.1h0M237.1 408.7h0M236.8 411.1h0M233.5 418.6h0M230.8 407h0M236.6 409.9h0M232.6 415.6h0M237.5 410.8h0M235.6 405.8h0M230.9 407.9h0M236.5 408.8h0M236.3 414.6h0M231.2 414.9h0M231.9 415.8h0M237 410.7h0M231.1 408.1h0M237.7 411.7h0M235.6 408h0M236 415.1h0M236.7 417.2h0M235.2 416.6h0M209.6 425.5h0M208.2 426.6h0M204.4 421.6h0M213.3 423.2h0M205.5 421h0M212.6 421.5h0M208.9 418.1h0M203.2 421.2h0M213.7 421.1h0M208.6 418.3h0M209.8 419h0M205.4 422.1h0M207.5 418.8h0M213.4 424.6h0M205.9 424.8h0M208.4 425h0M211.8 421.6h0M211.4 424.9h0M236.4 432.6h0M230.6 428.7h0M235.4 434.1h0M236 431.1h0M234.7 432h0M239.4 431.4h0M231.6 430.2h0M235.8 425.6h0M237.2 428.2h0M231 426.4h0M237.8 428.3h0M235.2 432.5h0M236.2 433.5h0M232 426.6h0M235.6 426.4h0M232.6 427.5h0M235.8 431.2h0M234.8 434h0M231.8 426.1h0M231.3 427.9h0M213.2 443.3h0M210.5 443.9h0M209.4 438.7h0M215.7 448h0M218.1 445.6h0M213.7 438.6h0M209.6 443.5h0M211.6 437.2h0M210.7 438.1h0M212.4 447.3h0M215.1 447.3h0M223.1 444.6h0M211.8 437.6h0M215.1 443.5h0M214.2 437.9h0M212.2 449.9h0M215.1 441.2h0M207.9 442h0M213.5 448.8h0M209.9 437.1h0M218.1 445.4h0M211.3 438.5h0M212.9 449.3h0M220.7 445.3h0M221.9 445h0M209.9 444.7h0M215.7 445.1h0M210.2 438.6h0M213.7 442.3h0M221.4 445h0M215.3 441.3h0M209.3 441.2h0M214 443h0M213.3 446.8h0M213.7 439.3h0M238.9 451.1h0M225.8 450.5h0M250.7 468.8h0M226.8 442.3h0M239.9 463.6h0M247.1 465.3h0M230.7 462.8h0M234.5 442.2h0M225.6 448.5h0M228.4 456h0M233.7 442.1h0M232.9 463.8h0M238.6 463.8h0M228.1 458.5h0M229.4 462.2h0M241.9 455h0M238.7 450.2h0M236.3 442h0M245.4 462.8h0M229.3 457.6h0M237.2 449h0M254.1 469.4h0M237.7 447.4h0M232 462.4h0M250.6 469.4h0M242.8 457.5h0M224.7 444.8h0M232.9 463.4h0M228.5 462h0M242.7 458.5h0M241.9 463.6h0M226.1 450.7h0M243.2 459.9h0M239.3 463.6h0M233 441.6h0M245.7 467.7h0M239 447.4h0M230.4 462.3h0M239.9 463.8h0M248.6 468.5h0M244.5 461.3h0M242.6 455.2h0M249.4 472.3h0M238.5 446.2h0M243.4 464.9h0M237.9 449.9h0M228.3 458.5h0M242.7 454.1h0M226.4 445.8h0M230.4 462.8h0M254.4 472.4h0M251.6 470.8h0M232.9 461.4h0M234.1 442.1h0M238.9 449.8h0M241.9 457.9h0M253.2 473h0M237.2 445.7h0M234.8 443.7h0M230.2 461.2h0M244.8 466.5h0M257.6 472.6h0M254.5 470.7h0M254.2 470.9h0M225.1 446.8h0M228.7 460.9h0M228.8 458.6h0M223.5 443.4h0M244.3 465.6h0M235.3 463.9h0M244.3 462.7h0M226.2 444.3h0M238.5 446h0M238.6 449.6h0M243.4 459.1h0M241.6 454.7h0M226.9 441.6h0M253.7 447.3h0M246.5 449.3h0M247.6 446.1h0M250.5 459.3h0M252.2 459.7h0M247.3 448.3h0M252.1 460.4h0M249.4 445.5h0M249.4 446.8h0M247.1 450.6h0M253.1 456.4h0M252.3 448.1h0M252.3 447.2h0M253.1 455.6h0M246 450.8h0M251.5 459.2h0M253.3 451.5h0M250.8 447.5h0M252.6 455.3h0M250 445.9h0M250.4 459.8h0M248.1 458.6h0M244.6 450h0M251.7 446.8h0M248.4 457.2h0M251.1 457.4h0M252.9 457.9h0M233.2 477.5h0M230.5 476.2h0M228.3 473.4h0M230.4 477.8h0M231.7 478.1h0M231.8 476.6h0M230.6 475.5h0M232.1 477.2h0M229.9 474h0M231.5 477.8h0M232.7 473h0M262.8 414.1h0M268.8 409.4h0M264.6 408.1h0M269.3 413.5h0M254.8 414.6h0M268.3 408.7h0M267.1 413.9h0M254 411.3h0M257.6 414.7h0M254.3 413.6h0M267.3 413.3h0M254.6 411.6h0M255.4 414.5h0M253.6 413.6h0M265 414h0M261.8 412.8h0M254.7 413.2h0M257.7 409.3h0M261.2 409.2h0M253.5 412.1h0M268.2 412.8h0M268.6 410.1h0M261.7 415.4h0M259.9 409.6h0M258.5 408.9h0M268.2 410.5h0M269 411.4h0M265 414.6h0M268.4 430.7h0M249.5 420.9h0M269.6 424.2h0M267.8 430.1h0M261.3 412.1h0M251.6 417.5h0M250.4 419.1h0M254.8 417.3h0M271.2 423.9h0M268.6 431.5h0M269.8 416.4h0M266.9 412.7h0M269.2 414.4h0M272.8 425.7h0M253.6 425.2h0M257.7 430.6h0M261.4 411.9h0M247.8 420.5h0M249.8 424.6h0M271.8 420.5h0M259.9 431.2h0M265.3 410.6h0M266.8 431.2h0M249 420.9h0M270.7 424.6h0M269.8 423.1h0M247.8 423.8h0M265 433.8h0M270.9 417.2h0M248.3 421.6h0M247.7 422.7h0M257.4 429.2h0M256.3 412.2h0M247.5 423.6h0M248 420.3h0M260.8 431.6h0M251.2 423.7h0M251.3 424.5h0M268.2 415.6h0M270 416.8h0M271.3 429.9h0M270.8 417.9h0M254.7 416.1h0M251 426.5h0M252.1 417.4h0M249.1 423.7h0M253.7 417.8h0M247.3 423h0M257.8 411.4h0M253.9 417.3h0M248.7 423.1h0M267.4 432.2h0M265.2 412.1h0M268.9 417.8h0M261.6 412.1h0M268.6 414.5h0M295.1 411.4h0M288.2 409.1h0M296.2 416.2h0M285.3 412.6h0M286.4 412.8h0M295.4 414.6h0M284.6 422.5h0M296.3 420.5h0M283.3 423.7h0M287 427.1h0M287.8 428.5h0M292.9 424.8h0M296.9 416.2h0M287.9 426.5h0M282.5 416.6h0M286.8 424.3h0M292.8 424.5h0M288.5 426.5h0M295.8 415.1h0M285.3 424.9h0M283.6 419.6h0M296.8 416.2h0M293.7 423.8h0M288.1 425.1h0M295.1 411.9h0M296.2 412.5h0M284.7 411.7h0M293.6 410.3h0M292.6 410.9h0M283.4 417.4h0M286.8 426.1h0M285.2 415.6h0M284.9 417.4h0M289.6 426h0M284.6 422.3h0M291.4 423.7h0M284.3 414.3h0M298.8 412.9h0M318.9 405.1h0M307.9 410.8h0M301.7 410.6h0M301.1 417.6h0M300.2 412.8h0M299.7 413.9h0M304.2 417.5h0M300.8 416.4h0M322.5 406.5h0M309.7 409.8h0M312.2 414.5h0M321.6 409h0M317.7 412h0M320.4 411.7h0M316.2 405.7h0M301 413.4h0M311.6 408.2h0M303.6 416.3h0M311.2 407.1h0M303.1 416h0M322.4 409h0M299.4 414.5h0M305.4 411.4h0M300.3 416.4h0M299 417.2h0M318.4 404.1h0M321.2 408.4h0M319.8 410.6h0M299.4 412.9h0M316 404.7h0M309.5 409.1h0M297.7 417.3h0M313.5 414.5h0M319.9 407.1h0M298.2 414.6h0M299.3 412.5h0M301.4 411.7h0M312.8 416.2h0M321.2 407.2h0M317.6 413.9h0M297.9 416.4h0M313.9 405.2h0M320 410.6h0M298.1 416h0M206 474.4h0M203 470.9h0M208.5 470.2h0M204.7 464.7h0M206 473.8h0M208.2 470.8h0M204 473.3h0M205.4 475h0M202.9 462.8h0M204.4 473.3h0M203.9 466.8h0M206.4 474.8h0M204.6 465.4h0M206 474.1h0M205.2 462.8h0M204.8 474.5h0M206 474.8h0M203.5 469h0M206.3 472.5h0M202 463.9h0M206.4 468.6h0M284 460.3h0M289.5 457.3h0M273.1 474.9h0M281.2 458.2h0M283.6 460.9h0M280.6 465.6h0M260.4 467h0M284.8 456.4h0M290.3 459.4h0M267 470.1h0M262.4 461.9h0M272.1 473.9h0M263 471.6h0M274.8 452h0M272.4 475.9h0M273.9 451.9h0M275.5 474.3h0M279.1 460.7h0M280 462h0M279.6 456.9h0M273.4 451.2h0M275 452.3h0M267 471.2h0M260.7 471.8h0M260.7 466.2h0M272 475h0M294.8 458.9h0M294.5 457.4h0M271.9 471.7h0M272.8 450.9h0M273.9 452.2h0M276.9 454h0M290.2 459.4h0M276.5 454.8h0M284.8 460.4h0M293.5 460.4h0M281.1 465.9h0M267.2 471.3h0M262.2 471.7h0M278.8 462.7h0M285.4 459.5h0M273.1 474.3h0M279.3 464.6h0M266.6 470.5h0M266.9 471.9h0M292.9 460.5h0M278.7 472.2h0M291.9 456.1h0M271.8 451.2h0M283.8 457.1h0M266.8 455.2h0M275.2 452.9h0M279.9 465.3h0M279.7 457.1h0M274.6 474.9h0M277.9 470.4h0M265.7 458.2h0M259.2 465.6h0M278.4 463.4h0M284.8 456.8h0M287.2 456.7h0M279.5 465.3h0M274.4 474.7h0M274.7 455.8h0M264.4 455.5h0M275 454.3h0M275.6 454.8h0M266.4 471h0M278.7 473.9h0M267.6 470.9h0M260.1 464.5h0M258.8 469.8h0M277.5 457.5h0M262.5 464.5h0M265 458.3h0M265.9 457.5h0M267.5 456.6h0M267.6 453.5h0M275.1 451.8h0M262.9 471.9h0M274.6 453h0M263.4 459.7h0M286.4 465.2h0M314.9 443.8h0M287.8 464.7h0M296.7 458.6h0M322.2 463.7h0M296.8 457.8h0M324 458h0M287.1 464h0M300.8 451.9h0M314.5 444.3h0M299.9 451.9h0M294.4 461.3h0M305.1 446.9h0M290.4 466.1h0M320 444.3h0M316.9 443.1h0M287.7 462.2h0M317.7 442h0M304.3 467.5h0M323.4 455.9h0M318.5 443.7h0M321.9 445.5h0M286.9 470.9h0M295.4 462.2h0M304.2 447.1h0M325.4 447.8h0M302.6 448.7h0M289.5 461.6h0M318.4 443.7h0M317.9 470h0M302.4 465.6h0M323 457.9h0M314.2 445.1h0M313.9 471.1h0M324.7 458.4h0M293.8 457.8h0M305.9 469h0M319.5 468.4h0M286.4 465.2h0M324.3 451.8h0M310.9 469.7h0M285.7 468.7h0M315.6 469.4h0M301.4 466.2h0M324.4 450.5h0M317.7 444.1h0M291.8 462.9h0M299.8 452.6h0M312.6 472.8h0M290.1 466.8h0M301.2 453h0M299.6 463.6h0M312.4 444.5h0M290.1 461.8h0M323.1 458.3h0M294.8 458.8h0M324.6 456.8h0M309.3 470.8h0M314 442.1h0M313.2 443h0M299.3 452.6h0M297.3 457.5h0M322.8 460.9h0M320.7 444.1h0M311.6 444.5h0M292.4 462.3h0M318.9 443.5h0M290 461.5h0M323.6 446.6h0M296.3 458.2h0M291.3 457.9h0M324.3 451.6h0M286.3 469.4h0M301.3 447.6h0M322.3 464.8h0M287.6 470.7h0M307.7 444.8h0M290.4 458.9h0M287.2 463.1h0M320.1 469.1h0M298.1 456.2h0M322.8 458.5h0M307.5 444.9h0M290.7 459.2h0M299 457.1h0M301.7 466.7h0M309.3 470.4h0M301.6 465.7h0M285.7 466.6h0M324.6 449.7h0M320.6 443.3h0M322 464.8h0M286.8 466.3h0M315.5 443.7h0M287.5 473h0M288.8 464.6h0M300.6 453.4h0M291.3 463.8h0M267.3 473.5h0M255.1 477.3h0M271.6 492.8h0M255.2 470.6h0M286.6 494.3h0M282.7 475.6h0M280.5 473.5h0M287.8 478.5h0M273.3 492.1h0M290.2 491.2h0M258.9 470h0M267.6 490.9h0M267.4 472.6h0M255.2 471.7h0M283.6 476.8h0M281.6 473.8h0M288.8 493.8h0M254.8 483.6h0M259.3 469.2h0M270.7 474.4h0M255.6 470.6h0M277.7 494.2h0M254.5 475.6h0M291 490.7h0M254.6 476.8h0M257.4 470.1h0M263.4 472.4h0M254 474.9h0M255.4 477.8h0M258.8 486.6h0M267.5 473.6h0M255.7 481.7h0M288.2 495.3h0M265.7 491.8h0M275.7 493.6h0M269.2 474.4h0M262.6 472.8h0M259.9 489.1h0M257.7 487.3h0M272.6 475.6h0M281.9 494.7h0M255.9 485.2h0M254.7 477.7h0M259.2 489h0M260 489.7h0M262.9 491.1h0M255.4 468.9h0M253.7 475h0M266.1 474.2h0M289.7 487.3h0M290.1 492.2h0M289.8 493.1h0M262.1 471.1h0M283.1 473.9h0M257.3 485.5h0M286.4 476h0M281.6 495.4h0M255.8 484.9h0M277.1 493.5h0M288.8 485.5h0M258.1 488h0M276.4 474.6h0M285.2 476.3h0M285.8 482.2h0M288.5 495.2h0M269.9 473.7h0M259.9 468.4h0M257.6 470.3h0M285.5 476.2h0M283.7 476.2h0M286.1 478.1h0M278.3 493.3h0M276.3 494.2h0M258.1 468.4h0M280.6 474.2h0M258.2 489.7h0M255 472.4h0M254.2 476.7h0M286.8 493.7h0M253.8 473.3h0M286 485.7h0M286.5 480.3h0M261.8 490.5h0" stroke="#CED1DF" stroke-width="1" stroke-linecap="round" fill="none"/>
<path d="M280.6 434 283.4 430.7 287.9 427.9 292.4 426 294.7 424.6M306.5 430.7 308.8 426.5 311.6 423.7 314.9 420 317.2 417.2 319.4 414.4M302 430.2 304.3 427.4" fill="none" stroke="#CED1DF" stroke-width="1.2" stroke-linecap="round" stroke-linejoin="round"/>
<path d="M251.3 378.8h0M244.8 376.5h0M275.1 388.9h0M268.2 384.4h0M264.4 388.7h0M261.2 382.4h0M275.3 394.9h0M245.9 378.5h0M257.1 376.2h0M277.1 388.4h0M255.5 380.8h0M262.9 390h0M259.5 377.7h0M292.1 389.3h0M296.8 389.6h0M287.7 384.4h0M294 380.6h0M287.4 379.4h0M287.7 379.4h0M301.5 385.8h0M294.7 390h0M287.5 374.8h0M296.7 377.1h0M294.2 388.2h0M301.9 391.6h0M289.2 390.6h0M290.3 391.6h0M289.5 374.8h0M292.7 378.4h0M299.5 393.6h0M298.6 380.6h0M290.2 388h0M289.1 371.8h0M299.3 390.6h0M292.5 392.2h0M290 390.2h0M298 375.9h0M290.6 372h0M301.1 382.3h0M293.7 387.6h0M288.1 378.1h0M301 380.5h0M219.5 406.4h0M217.3 398.7h0M215.3 405.7h0M217 402.4h0M217.3 402.6h0M216.4 400.4h0M220 405.2h0M215.1 400.8h0M216.7 405.5h0M214.1 404h0M217.4 395.6h0M217.7 403.4h0M214.5 400.6h0M216.7 396.7h0M215.4 401.2h0M217.4 403.6h0M215.7 406.7h0M217.1 402.2h0M215.8 400.5h0M215.4 397.7h0M214 402.1h0M218.5 403.7h0M213.7 405.5h0M217.3 404.7h0M217.8 400.6h0M217.1 398.9h0M219.8 402.8h0M214.9 402.6h0M215.1 401.6h0M214.4 402.7h0M216.7 398.8h0M214.3 401.9h0M217.4 401.2h0M217.2 402.2h0M216.5 395.7h0M216.5 398.2h0M213.8 405.7h0M216.4 397.6h0M216.6 400.3h0M234 414h0M230.8 410h0M233.4 412.8h0M236.5 410.4h0M230.9 410.5h0M233.1 416.8h0M236.6 409.9h0M233.2 416.7h0M230.8 411.1h0M231 413.8h0M234.8 408.7h0M234.8 409.2h0M235.4 410.5h0M231.8 411.5h0M233 417h0M231.7 413.7h0M234.1 411.4h0M231.7 415h0M235.8 413h0M231.5 412.9h0M235.3 411.3h0M236.7 414.1h0M233.5 411.3h0M233.6 417.4h0M210.2 424.1h0M208 424.4h0M208.5 419.3h0M206.1 423.1h0M207.6 420.4h0M208.6 420.5h0M208 424.7h0M207.9 421.8h0M209 420.6h0M210.7 421.5h0M206.3 421.3h0M212.4 423.9h0M211.9 422.4h0M208.6 422.2h0M211.6 421.7h0M209.3 422.4h0M209.3 420.8h0M209.8 422.1h0M206.7 419.5h0M210.1 420.7h0M208.3 421.8h0M209.2 421.1h0M234.3 432.4h0M237.3 427.7h0M234.7 427.3h0M236 428.5h0M231.3 428.6h0M235.3 426.9h0M234.5 432.9h0M235.3 427.5h0M235.4 433.1h0M232.7 432h0M233.6 427.5h0M230.8 428.5h0M237.6 427.8h0M234.2 431.3h0M233.5 430.9h0M232.5 427.6h0M232.3 430.5h0M234.1 429.7h0M237.6 428.5h0M231.5 431.5h0M231.9 426.4h0M237.9 428.9h0M230.9 429.2h0M231.8 428.3h0M237.6 427.4h0M238 429.3h0M231.2 428.1h0M234.3 429h0M232.8 426.7h0M211.6 441h0M213.8 442.7h0M218.2 445.3h0M214.2 445.4h0M215.3 447.1h0M213.1 444.9h0M212.7 438.8h0M211.9 442.9h0M210.7 444h0M213.5 442h0M219.1 445.2h0M210.5 441.9h0M212.4 443.9h0M212.8 439.8h0M212.8 442h0M214.1 440.5h0M212 443.8h0M213 444.6h0M213.3 439.4h0M211.5 446.5h0M212.7 438.3h0M210 442.2h0M213.9 443.9h0M210.5 441.9h0M212.8 445h0M211.3 441.6h0M211.8 438.1h0M211.9 447.5h0M211.6 445.2h0M209.8 441.4h0M210.8 443.1h0M213.3 440.2h0M219.5 444.9h0M211.5 448.5h0M217.1 445.5h0M213.8 440.3h0M211.1 438.8h0M213.5 447.7h0M214.2 442.8h0M213 441.6h0M233.3 455.4h0M229.6 447.1h0M230.6 450h0M229.5 445.2h0M248.5 466.8h0M235.8 449.9h0M234.3 459.1h0M247.6 467.6h0M228.5 452.1h0M231.9 442.7h0M232.8 454.3h0M247.9 468.6h0M239.3 461h0M229.5 444.6h0M235.5 442.9h0M233.8 446.7h0M247.7 466.2h0M248.6 466.9h0M246 464.6h0M234.2 456.3h0M239.6 458.2h0M235.8 446.3h0M229.5 453.3h0M235.1 458.8h0M243.2 463.5h0M230.2 447.5h0M234 449.7h0M238.1 460.5h0M231 452.8h0M234.9 459.9h0M234.2 446.6h0M236.5 455.6h0M237.6 457.1h0M236.8 445.5h0M232.4 442.2h0M236.8 463.3h0M229.7 443.9h0M235.1 447.1h0M236.9 443.8h0M233.8 446.8h0M228.7 446h0M229.6 451.4h0M238.4 462.6h0M253.1 472.3h0M254.4 472.1h0M231.4 450.5h0M227.8 446.8h0M238 456.3h0M233.6 458.1h0M243.7 463.1h0M246.1 466h0M237.5 457.2h0M228.3 443.1h0M230.9 453.4h0M230 449.2h0M225.8 446.3h0M233.2 456.7h0M237 452h0M251.7 469.1h0M237.2 460.4h0M236.8 458.2h0M236.9 459.8h0M229.3 460h0M241.5 455.4h0M238.9 462.2h0M236.2 455.1h0M233.9 452.7h0M230.7 460.5h0M233.9 451h0M236.5 452h0M238.5 454h0M253.5 470.9h0M236.7 449.9h0M230.2 445.4h0M229.1 460.3h0M238.8 450.3h0M235.8 443.5h0M230.3 451.5h0M235.2 445.9h0M250.5 470.4h0M231.5 458h0M238 452.2h0M233 442.9h0M232 447.8h0M229.2 446.1h0M233.6 451.9h0M241.9 455.3h0M242.3 458.4h0M233.9 460.1h0M233.9 449.1h0M244.2 465.4h0M241.2 458.7h0M231.4 457.7h0M228.9 449.6h0M231.2 459.5h0M229.6 454.1h0M244.8 463.3h0M227.8 456h0M236.8 461.6h0M232.3 459.6h0M226.4 446.4h0M234.8 450.9h0M229.2 449.8h0M231.4 443.6h0M236.2 454.7h0M241.5 463h0M229.8 454h0M226.9 443.8h0M230.4 457.7h0M240.5 458.6h0M241.6 461.7h0M234.7 456h0M247.4 468.3h0M233.6 456.4h0M241.6 455.7h0M247.5 465.7h0M237.2 453.2h0M252.6 471.3h0M227.3 446.5h0M230.7 456.2h0M248 465.8h0M235.8 463h0M234.5 453.8h0M229.4 443.9h0M242.4 455.7h0M231.7 459.7h0M228.8 458.2h0M230.8 459.6h0M230.1 442.5h0M242.7 460.4h0M228.6 460h0M249.9 469.7h0M228 443.2h0M236.2 457.2h0M237 451.9h0M253.5 472.1h0M242.4 456.8h0M226.1 443.8h0M229.4 452.5h0M232.3 456.3h0M250.4 468.5h0M231.8 445.3h0M248.4 466.9h0M234.6 460.1h0M230.1 456.3h0M236.1 449.3h0M229.5 457h0M236.1 443.2h0M252.8 472.1h0M231.4 460.9h0M230.5 449.4h0M233.9 460.1h0M241.2 458.7h0M232.1 448.5h0M235.2 446.1h0M227.1 443.7h0M230.7 447.8h0M230.5 446.3h0M237.8 448.7h0M235.1 463h0M237.2 454.2h0M228.9 449h0M230.5 443.8h0M247.1 466.7h0M235.7 461.8h0M237.6 449.5h0M241.4 459.7h0M235.6 444.7h0M237.5 450.9h0M226.2 444.2h0M237.1 443.6h0M251 469.1h0M236.8 447.7h0M239.5 456.5h0M228.2 442.7h0M233.5 442.6h0M230.4 450.9h0M249.1 468.2h0M231.7 457h0M235.3 451.2h0M241.4 455.8h0M240 456.7h0M244.2 465.5h0M242.3 460.4h0M249.7 467.7h0M236.5 455.7h0M238.7 453.3h0M237 459.8h0M230.6 457.5h0M228.7 445.9h0M235.3 453.7h0M242.7 457.4h0M249 447.3h0M248.2 447.6h0M252.4 451h0M248.8 455.6h0M247.5 453.9h0M248.2 447.4h0M250.7 447.9h0M248 451.7h0M247.1 450.7h0M251.5 454.4h0M247.6 451.7h0M248.1 447h0M248.5 450.4h0M249.9 453.3h0M246.3 449.2h0M249.8 457.6h0M251.2 457.6h0M250.2 451.4h0M247.1 450.8h0M247.5 451.3h0M248.6 447.4h0M251.8 452.7h0M251.4 452.7h0M247.6 449.8h0M246.7 452.7h0M252.4 451.7h0M249.6 456.3h0M246.6 450.6h0M252.6 449.2h0M248.1 456.7h0M247.8 454.4h0M248.8 455.4h0M250.6 451.9h0M251.1 453.1h0M247.7 455.5h0M247.7 449.7h0M248.2 448.8h0M251.5 459.1h0M250.8 446.3h0M246.5 448.2h0M232.2 474.2h0M230.6 478.1h0M230.5 478.5h0M229.9 474.1h0M268.2 411.6h0M252.4 424.1h0M259 425.4h0M256.1 415.8h0M266.6 428.3h0M260.5 429.2h0M266.1 433.1h0M255.2 424.4h0M292.7 419h0M284.7 419.9h0M292.2 419.1h0M300.1 414.7h0M309.2 413.8h0M270.3 455.3h0M269.1 458.8h0M275.7 471.9h0M263.8 460.7h0M264.7 467.3h0M287.9 458.3h0M271.6 460.8h0M274.5 468.6h0M275.6 467.4h0M262.7 470.9h0M270.2 462.9h0M267.3 469.5h0M266.2 459.7h0M285.2 457.1h0M269.3 453h0M267.7 470.4h0M273.9 462.9h0M291.1 457.5h0M266.2 461.4h0M299.4 457.8h0M304.8 453.1h0M318.4 444.6h0M287.4 466.8h0M309.5 459.9h0M300.1 461.7h0M291.6 460.1h0M308 449.2h0M308.1 469.3h0M301.6 454.5h0M300.7 452.2h0M311.7 453.1h0M315.8 446.9h0M311.4 464.2h0M310.8 453.8h0M308 462.6h0M302.1 450h0M311.5 445.7h0M304.2 448.1h0M310.9 454.4h0M301 457.4h0M293.8 460.8h0M318.2 446h0M317 460.6h0M320.9 447.2h0M321 464.4h0M310.1 469.8h0M311 469.7h0M303.1 456.1h0M315.1 446.1h0M313.5 445.2h0M320.2 461.8h0M312.8 451h0M306.3 457.8h0M313 446.1h0M312.3 456.8h0M319.4 453.3h0M303.9 453.1h0M322.2 448.8h0M323.6 450.9h0M295.7 460.4h0M323.5 456.6h0M300.2 459.2h0M310.3 459.4h0M299.9 458.1h0M304.5 449.6h0M318.5 464.5h0M305.3 459.3h0M323.8 450.9h0M308.2 465.2h0M315 465.9h0M303.4 465.2h0M274.4 483.5h0M273.8 486.1h0M280.9 480h0M288.1 492.7h0M265 477.4h0M285 490.4h0M264.8 474h0M273.4 475.1h0M271.3 481.6h0M275.1 491.8h0M280.3 490.6h0M282.5 478.7h0M273 491.7h0M270 482.9h0M256.4 476.2h0M258.4 483.4h0M268.4 476.4h0M283.2 493.9h0M284.2 484.8h0M267.7 485.3h0M263.3 475.3h0M272.9 488.3h0M269.1 478.9h0M260.4 479.3h0M275.6 484.1h0M264.8 487.5h0M284.9 492.9h0M271 478.7h0M268.2 476.8h0M274.9 478.2h0M258.9 474h0M264.9 479.7h0M275.7 489h0" stroke="#A0A3CF" stroke-width="0.8" stroke-linecap="round" fill="none"/>
<path d="M273.5 381.3h0M252.6 378.1h0M257.9 382.6h0M268 379.7h0M261.1 377.5h0M249.8 379.2h0M251.3 380.9h0M264.9 373.2h0M265.4 383.2h0M256.1 375.5h0M252.7 376.5h0M290.1 377.1h0M284.6 390.7h0M284.5 388.4h0M289.1 391.9h0M295.4 378.1h0M295 377.6h0M300.5 379.5h0M290.1 375.6h0M295.5 379.3h0M296.4 386.3h0M293.8 390.9h0M298.6 385.6h0M288.3 376.8h0M298 376.9h0M295.6 388.8h0M298.5 377.2h0M293.8 388.3h0M298 376.6h0M300.3 390.9h0M286.2 391.7h0M287.9 379.8h0M296.7 375.2h0M286 386.3h0M296.6 377.7h0M294.3 373.8h0M292.9 384.8h0M298.1 390.9h0M297.3 392.9h0M290.4 388.8h0M288.2 376.4h0M285.6 386.8h0M298.2 384.8h0M296.5 388.9h0M290 387h0M286.9 378.7h0M290.6 381h0M287.4 381.3h0M286.2 391.6h0M286.1 389h0M217 397.1h0M216.3 395.8h0M217 397.9h0M218.8 403.5h0M219.6 406.7h0M215.8 403.4h0M217.9 402.1h0M217.2 400.2h0M218.2 401.3h0M219.4 401.5h0M219.1 404.4h0M215.5 398.2h0M216.6 404.4h0M215.2 399.7h0M216.6 400.4h0M219.3 403.1h0M217 402.7h0M217.3 395.3h0M220.3 404.4h0M216.1 399.3h0M218.2 401.9h0M214.7 403.4h0M217.4 407.2h0M219.4 404.4h0M214.6 401h0M216 396.2h0M219.1 407h0M218.7 399.8h0M231.1 411.2h0M231.8 410h0M233.1 407.9h0M234.8 409.4h0M233.4 409.1h0M235.2 410.7h0M236.6 410.7h0M235.6 411.1h0M234.7 416.4h0M234.7 416.1h0M235.9 413.9h0M232.6 409h0M232 408.5h0M235.9 413.4h0M233.2 413.1h0M236.3 409h0M233 416.9h0M236.1 414.8h0M232 409.7h0M235.5 415.8h0M233.3 411.8h0M231.7 411.2h0M231.7 413.6h0M234.4 414.5h0M233.7 412h0M236.1 410.3h0M231.1 410.7h0M235.2 408.4h0M235.5 410.7h0M234.7 416.6h0M234.1 409.4h0M208.9 420.3h0M210.7 420h0M208.1 421.5h0M206.4 420h0M205.4 421.9h0M210.5 424.4h0M207.2 423.1h0M209.9 420.8h0M206.5 422.3h0M209.4 420.4h0M211.1 423.1h0M206.5 423.4h0M210.7 423.4h0M206 423.3h0M210.4 422.4h0M206.1 422.5h0M212.3 423.9h0M210.2 422.8h0M205.8 421.6h0M212 424.4h0M206.8 420.1h0M233.7 430.3h0M231 427.8h0M237.2 431.5h0M235.7 426.8h0M236.7 428.3h0M233.6 429.7h0M231.3 430.6h0M231.2 429.7h0M236.2 430.2h0M236.7 430.8h0M234.1 428.6h0M236.7 428h0M231.7 428.7h0M235.5 432.3h0M236.2 428h0M233.7 426.1h0M235.4 427.9h0M236.4 432h0M231.1 429.5h0M231 430.9h0M236.9 426.7h0M232.1 428.2h0M233 431.1h0M212.9 438.7h0M210.7 442.8h0M214.7 446.1h0M211.6 447.8h0M219 445.1h0M209.9 439.9h0M214.4 442h0M211 441.5h0M212.1 439.4h0M217.8 445.3h0M214.2 442.7h0M214 446h0M213.6 448.7h0M213.7 445.8h0M211.5 439.1h0M213.9 447.5h0M211.3 447h0M214.3 448.1h0M213.7 443.2h0M213.4 445.6h0M213.3 445.3h0M213.6 444.9h0M216.3 445.6h0M210.2 439.1h0M211.6 444.5h0M210.7 439.5h0M214.2 444.6h0M211.1 442.5h0M215.5 445.8h0M236.6 457.7h0M229.9 442.6h0M244.2 462.3h0M231.3 461.6h0M237.8 448.6h0M239.2 461.6h0M237.7 459.7h0M234.4 445.1h0M228.9 444.6h0M236.6 459.6h0M227.4 445.3h0M239.5 454.6h0M237.3 445.4h0M232.6 456.2h0M252.9 472.3h0M228.8 453.9h0M232.6 455.2h0M235.2 457.8h0M236.1 453.2h0M228.7 457.2h0M229.9 455.2h0M234.7 449.3h0M226 449.8h0M234.5 442.7h0M241.6 456.9h0M233.2 448.9h0M240.2 458.9h0M235.9 459.5h0M236.3 444.5h0M226.3 445h0M229.1 454.1h0M249.9 469.3h0M239.5 454.5h0M230.3 447h0M241.4 463.2h0M251.7 471h0M226.6 443.5h0M233.8 456.1h0M233.9 442.3h0M231.2 458h0M227.1 453.3h0M237.1 448.4h0M237.4 462.1h0M231.2 446.8h0M236.3 458.4h0M239.3 455.1h0M235.3 446.1h0M229.5 457.6h0M236 456.3h0M227.2 452.6h0M234.6 462.7h0M228.9 448.3h0M226.1 449.7h0M239.9 453.2h0M235.7 460.3h0M227.9 451h0M234.9 449.4h0M227.6 450.6h0M244 461.4h0M227.5 454.3h0M236.2 444.9h0M249.4 468.7h0M239.4 462.2h0M239.8 459.7h0M235.4 459.9h0M240 452.5h0M227.6 452.6h0M229.6 456.2h0M239.8 455.9h0M234.3 451.5h0M238.9 455.8h0M228 456.2h0M228.3 445.8h0M246.7 467.8h0M230.6 449.6h0M239.7 458.7h0M236.1 443.5h0M228.9 452.9h0M228.3 449.1h0M244.2 463.6h0M232.7 450.6h0M233.1 461h0M240.8 456.8h0M238 452h0M243.3 464.7h0M239.5 462.7h0M241.4 456.8h0M233.8 442.4h0M244.8 463.6h0M227.1 446.1h0M241.6 462.5h0M231.6 447.1h0M237.4 462.1h0M230.2 459.1h0M232.9 447.7h0M230.8 449.6h0M238 457h0M240 453.7h0M250.4 468.7h0M232.7 451.9h0M230 454.2h0M236.7 455.5h0M230.7 450.5h0M231.4 458.8h0M230.2 459h0M237.8 462h0M231.6 458.6h0M227.6 445h0M231.7 448.9h0M241.7 456.7h0M238.9 455h0M229.2 449.7h0M230 455.5h0M226.4 448.1h0M231.3 459.1h0M235.6 456.2h0M231.4 446.6h0M238 454.1h0M232.7 443h0M237.8 457.1h0M233.7 458.7h0M236.1 446.8h0M235.3 449.2h0M236.6 457h0M231.3 459.6h0M239.8 455.9h0M229.9 459.6h0M247 467.3h0M232.7 444.6h0M236 447.5h0M238.9 459.3h0M226.3 449.9h0M237.3 463.7h0M239.5 452.2h0M234.2 447h0M240.4 453.1h0M252.2 470.4h0M230.7 460.2h0M236.7 443.7h0M226.8 450.7h0M240.8 463.2h0M229.8 451.2h0M226.9 448.4h0M229.6 443.7h0M226.9 453.1h0M239.7 461.2h0M226.1 447.8h0M231.6 460.5h0M239.1 457h0M251.7 470.8h0M254.5 472.5h0M235.5 456.2h0M238.1 448h0M234.6 446.9h0M228 446.1h0M235.6 452.6h0M248.3 456.2h0M250.6 452.3h0M250 447h0M249.9 456.1h0M248.2 455.3h0M252.4 452.1h0M248.3 455.3h0M246.9 449.9h0M249 452.5h0M251.8 450.2h0M251.1 458.1h0M250.3 454.3h0M250.4 448.4h0M251.2 456.7h0M249.1 449.7h0M247.7 447.2h0M251.8 451.7h0M248.6 452.1h0M248.5 455.6h0M250.7 452.2h0M251.5 451.3h0M251.2 450.6h0M251.4 458.7h0M248.5 452.2h0M251.1 458.9h0M248.2 448.4h0M253 455.2h0M248.2 447h0M248.4 451.9h0M249.2 454.8h0M250.8 446h0M248.8 453.2h0M252.5 450h0M252.4 448.3h0M249.1 456.9h0M252.2 454.4h0M248.1 452.9h0M250.3 455.3h0M248.7 453.5h0M250 455.8h0M248.4 448.1h0M248.7 453.8h0M251.5 453.4h0M231.3 474.6h0M232 476.1h0M230.1 475.6h0M231.9 476.2h0M232.2 475.2h0M231.3 478.3h0M230.4 476.6h0M230.7 474.9h0M263.6 413.2h0M259.3 410.6h0M253.6 421.9h0M254.2 420.9h0M265.2 417.5h0M264 414.9h0M252.7 418.2h0M262.9 427.6h0M262.1 412h0M259.8 421h0M258.8 418.5h0M296.1 415.1h0M285.5 414.4h0M292.9 415.2h0M293.3 415.3h0M318.1 406h0M301.1 415.5h0M308.7 415.7h0M304.9 411.2h0M310.1 409h0M206.1 471.2h0M263.6 464.5h0M267.4 457.9h0M268.8 461.5h0M281.8 457.5h0M273.2 460.4h0M276 467.5h0M269.6 453.5h0M258.5 469.3h0M264.8 460.8h0M270.8 469.9h0M314.4 466.1h0M300.7 463.8h0M315.3 467.6h0M321 460.5h0M320 451.4h0M315.5 448.1h0M320.3 446.2h0M302.9 449.4h0M310.1 448.6h0M304.1 460.6h0M321.8 461.5h0M317.8 467.9h0M320.8 460.2h0M301.8 459.9h0M319.7 462h0M317.7 451.7h0M308.6 450.8h0M306.1 455.9h0M307.9 451.9h0M305.4 455.6h0M316.2 456.1h0M310.6 450h0M293.7 459.1h0M318.8 462h0M312.7 444.3h0M313.8 464.1h0M312.3 466.3h0M308.7 447.3h0M320.6 453.5h0M305.8 452.3h0M322.9 457.3h0M289.3 466h0M313.6 457.4h0M303.5 463.7h0M300.8 464.8h0M301.2 457.5h0M303.5 452.3h0M307.3 468.8h0M286.6 470.4h0M316.9 463.1h0M302 457.2h0M314.9 458.8h0M314.8 447.1h0M323.2 454.6h0M302.8 462.5h0M316.4 457.8h0M301.8 461h0M307.8 464.3h0M288.1 465.3h0M316.2 469.4h0M317.9 445.2h0M317.5 458.1h0M315 460.6h0M315.3 456.6h0M313.4 451.3h0M314.8 445.5h0M317.9 455.9h0M310 463.9h0M307.8 468.8h0M316 448.5h0M301.5 457.5h0M309.8 448.6h0M316.1 467.6h0M321.4 457.9h0M318.9 453.8h0M297.3 459.3h0M296.2 459.6h0M318.3 446.7h0M305.3 454.5h0M306.2 466.2h0M267.9 482.7h0M278.2 481h0M278.8 486.2h0M267.6 487.2h0M263.8 485.9h0M262.8 488.2h0M258.1 478.9h0M257.8 473.1h0M286.1 483.4h0M263.7 474.4h0M265.5 482.4h0M285.5 478.8h0M282.4 488.8h0M265.9 475h0M286.7 493h0M272.6 487.2h0M280.3 486.2h0M285 493.9h0M271 475.8h0M267.8 480.2h0M274.8 482h0M275.5 486.1h0M264.5 489.4h0M259.1 480.4h0M259 477.2h0M284 479.5h0M276.1 489.3h0" stroke="#5C60AE" stroke-width="0.8" stroke-linecap="round" fill="none"/>
<ellipse cx="231.5" cy="435.8" rx="26" ry="49.6" transform="rotate(-22 231.5 435.8)" fill="none" stroke="#5B58A8" stroke-width="0.8"/>
<defs><linearGradient id="hg" x1="0" y1="0" x2="0" y2="1"><stop offset="0" stop-color="#393C96"/><stop offset="0.5" stop-color="#8A8DC0"/><stop offset="1" stop-color="#DBDDE4"/></linearGradient><linearGradient id="jg" x1="0" y1="0" x2="0" y2="1"><stop offset="0" stop-color="#3538A8"/><stop offset="0.5" stop-color="#9484C6"/><stop offset="1" stop-color="#D7DAE0"/></linearGradient></defs>
<rect x="340.2" y="363.6" width="9.1" height="139.5" fill="url(#hg)" stroke="none" stroke-width="0.8"/>
<line x1="349.3" y1="372.1" x2="351.4" y2="372.1" stroke="#666" stroke-width="0.5"/>
<text x="352" y="373.7" font-size="4.7" fill="#444">3.0</text>
<line x1="349.3" y1="393.9" x2="351.4" y2="393.9" stroke="#666" stroke-width="0.5"/>
<text x="352" y="395.5" font-size="4.7" fill="#444">2.5</text>
<line x1="349.3" y1="415.8" x2="351.4" y2="415.8" stroke="#666" stroke-width="0.5"/>
<text x="352" y="417.4" font-size="4.7" fill="#444">2.0</text>
<line x1="349.3" y1="437.6" x2="351.4" y2="437.6" stroke="#666" stroke-width="0.5"/>
<text x="352" y="439.2" font-size="4.7" fill="#444">1.5</text>
<line x1="349.3" y1="459.4" x2="351.4" y2="459.4" stroke="#666" stroke-width="0.5"/>
<text x="352" y="461" font-size="4.7" fill="#444">1.0</text>
<line x1="349.3" y1="481.3" x2="351.4" y2="481.3" stroke="#666" stroke-width="0.5"/>
<text x="352" y="482.9" font-size="4.7" fill="#444">0.5</text>
<line x1="349.3" y1="503.1" x2="351.4" y2="503.1" stroke="#666" stroke-width="0.5"/>
<text x="352" y="504.7" font-size="4.7" fill="#444">0.0</text>
<text x="359.8" y="344.4" font-size="16.5" fill="#111" font-weight="bold">I</text>
<text x="402.5" y="343" font-size="9.6" textLength="56.6" lengthAdjust="spacingAndGlyphs">GSE154778</text>
<path d="M399.3 353.2h0" stroke="#E07F78" stroke-width="3.8" stroke-linecap="round" fill="none"/>
<text x="404.5" y="356" font-size="9.1" textLength="68.1" lengthAdjust="spacingAndGlyphs">Metastatic lesion</text>
<path d="M399.3 363.2h0" stroke="#4BBED9" stroke-width="3.8" stroke-linecap="round" fill="none"/>
<text x="404.5" y="366" font-size="9.1" textLength="57.5" lengthAdjust="spacingAndGlyphs">Primary tumor</text>
<path d="M420.8 380.4 425.9 379.4 432 380.4 436.1 383.5 438.5 388.6 437.7 393.7 434 396.8 428.9 398.8 423.8 398.8 420.8 394.7 418.7 388.6 418.7 383.5ZM428.9 401.9 434 403.9 440.2 405 446.3 405.4 451.4 407 448.4 410.1 440.2 410.1 435.1 409 431 406ZM463.7 390.7 465.7 392.7 466.7 398.8 468.8 401.9 474.9 405 478.6 408.6 478 413.1 473.9 415.6 467.8 415.2 463.7 413.5 461.6 410.1 460.6 406 458.6 403.9 454.5 405 455.5 402.9 460.6 401.9 462.7 398.8 463.1 393.7ZM412.6 446.6 417.7 443.5 423.8 441.5 428.9 439.4 431 440.4 430 445.5 425.9 448.6 419.7 450.7 414.6 452.3 412.6 449.6ZM421.8 460.9 423.8 463.9 424.9 471.1 426.9 473.1 436.1 473.5 443.2 475.2 447.3 478.2 447.3 481.3 442.2 483.4 434 484.4 425.9 483.8 418.7 481.3 414.6 478.2 415.2 475.2 419.7 472.1 420.8 467ZM503.6 484.6 507 483.6 512 484 514.8 485 513 486.5 507 486.3ZM440.4 450.5 443.5 450 445 451.5 443 453 440.5 452.6Z" fill="#E07F78" stroke="#E07F78" stroke-width="0.6" stroke-linejoin="round"/>
<path d="M425.7 399.2h0M417.4 388.5h0M428.8 379.4h0M419.3 381.7h0M419.7 382.4h0M434.8 381.6h0M419.5 382h0M438.5 390.7h0M431.1 379.9h0M435.1 397.4h0M433.2 397.4h0M421.9 379h0M420.8 394.3h0M437.1 385h0M422.7 379.6h0M436.4 386.2h0M431 381.2h0M421.4 380.8h0M419 388.5h0M419.4 389.3h0M435.5 384.3h0M417.9 385.6h0M437.7 393.7h0M437.8 385.5h0M422.7 380h0M426.7 379.8h0M427.6 380.4h0M421.1 379.3h0M427.3 398h0M428.7 381.4h0M432.1 397.6h0M435.3 383.5h0M439.5 388.3h0M438.6 393.4h0M420 380.7h0M438.6 391.6h0M433.7 383.4h0M419.8 381.6h0M427.2 398.4h0M419.4 390.1h0M418.7 389.3h0M423 380.9h0M427.2 378.4h0M435.8 384.6h0M432.8 396.7h0M438.2 391.3h0M418.2 389.1h0M422.2 395h0M419.4 392.3h0M419.6 383.5h0M423.2 379.8h0M420.8 395.2h0M434.5 395.4h0M435.5 383.2h0M418.5 386.4h0M424 380h0M434.7 395.4h0M419.8 382h0M422.8 380h0M429.1 398.5h0M434.9 395.9h0M436.6 384.1h0M418 384.3h0M432.9 408.3h0M435.4 404.9h0M446.4 406.2h0M436.1 405.1h0M431.3 406.2h0M432.5 403.4h0M446.4 404.1h0M434.7 402.9h0M433.6 404.2h0M443.7 411h0M438.5 409.9h0M432 406.9h0M442.5 405.2h0M444.3 411h0M447.4 406.2h0M438.6 409.7h0M431.9 403.4h0M442.4 409.4h0M432 407.6h0M435.9 404.1h0M435.1 404.3h0M435.9 410.2h0M428.6 402.4h0M451.5 407.2h0M444.6 405.3h0M429.3 402.3h0M435.6 408.6h0M441.5 405.5h0M442.2 404.6h0M431.8 402.9h0M444.4 404.9h0M434.7 409.3h0M439.4 410.7h0M440 410h0M445.3 410.5h0M434.8 409.5h0M450.5 405.5h0M439.5 405.3h0M431.4 406.8h0M430.7 406.7h0M429.7 401.4h0M449.2 407.2h0M446.6 410.2h0M448.8 406.1h0M446 404.7h0M428.3 402.9h0M429.6 406.4h0M438.6 410.4h0M436.7 404.5h0M443.9 409.9h0M465.6 391.8h0M457.3 402.3h0M464 390.6h0M463.6 413.5h0M465.9 414.2h0M479.2 411.3h0M477.7 413.8h0M456.4 402.2h0M466.4 399.4h0M477.9 408.6h0M454.2 403.1h0M458.5 404.4h0M477.8 413.6h0M463.4 411.9h0M468.5 402.8h0M471 415.9h0M455 403.7h0M473.3 403.9h0M464.7 391.5h0M475.6 415.1h0M478.3 412.3h0M462.4 398h0M470.9 404.6h0M478.7 413.3h0M463.4 411.8h0M476.5 414.8h0M462.6 396.3h0M454.9 402.7h0M466.9 397.9h0M460.7 409.9h0M464.2 391.8h0M455.8 403.6h0M464.4 392.4h0M464.7 414h0M460.4 408.3h0M460.4 406.1h0M460.6 407.9h0M460.6 406.5h0M467.1 414.9h0M460.2 402h0M457.1 404.5h0M473.2 404.2h0M464.5 412.8h0M459.4 402.4h0M469.8 402h0M460.4 406.3h0M475.4 414.2h0M465.7 414.6h0M463.7 413.1h0M464.4 392.4h0M472.7 403.2h0M463.4 391.4h0M471.9 415.4h0M465.4 398.2h0M468.9 415.1h0M464.9 392.7h0M478.3 410.6h0M478.4 410.3h0M478.8 408h0M467.5 401.1h0M464.8 414.3h0M467 415h0M462 398.4h0M463.4 411.3h0M462.4 391.3h0M466.6 414.1h0M469.1 416.2h0M466.3 392.3h0M466.7 396.8h0M461 412.3h0M475 414.8h0M468.3 399.7h0M477.8 411.1h0M473.1 404.2h0M468.1 415.2h0M477.3 406.4h0M472.3 415.2h0M460.5 405.9h0M457.8 403.2h0M416.8 452.3h0M430.2 442.7h0M419.3 451.3h0M424.9 440.2h0M423.1 442.5h0M413.3 450.4h0M424.7 448.5h0M430.7 443h0M428.9 447.8h0M415.4 444.7h0M414.2 452.6h0M412.6 447.2h0M419.4 450.9h0M418.4 452.4h0M425.1 448.9h0M424.1 448h0M431.3 442.2h0M426.4 440.8h0M422.8 449h0M423.9 449.3h0M431.4 439.2h0M422.8 450.1h0M430.5 440.8h0M412.8 446.9h0M430.5 440.5h0M412.1 447.2h0M427.9 447.2h0M413.6 446.6h0M430.9 439.9h0M428.2 438.8h0M412.5 447.1h0M430.9 441.1h0M430 439h0M425.6 449.5h0M425.8 447.7h0M413.1 450.7h0M430.8 444.4h0M421.7 442.2h0M418 444.1h0M417.5 444.2h0M429.3 446.7h0M423.6 449h0M415.3 444.7h0M413.1 450.1h0M429.9 445.8h0M428 439.4h0M430 441.8h0M412.5 449.2h0M443.2 476.2h0M424.2 463.2h0M415.5 475.1h0M422 461.9h0M414.7 476.2h0M423.5 463.2h0M443.6 474.6h0M443.5 476.5h0M425.3 470.4h0M421.9 462h0M421.2 463.9h0M426.3 472.4h0M444.3 475.8h0M438.8 474.3h0M443.2 475.4h0M448 478.7h0M422.3 461.9h0M447.5 480h0M448.3 479.8h0M431.2 484h0M423.6 463.5h0M416.7 474.5h0M421 464.2h0M440.9 474.8h0M445.9 478.4h0M423.6 463.5h0M436.8 473.1h0M446.4 482.3h0M422 462.9h0M415.5 474.1h0M448 479.9h0M428.5 473.1h0M443.3 482.8h0M433 484.7h0M425.8 470.9h0M415 477.4h0M422 483h0M416.5 480.7h0M414.9 479.6h0M444 482.1h0M419.3 471.5h0M447 478.1h0M445.3 477.4h0M438 484.7h0M423 461.7h0M420.3 470.6h0M419.7 470.4h0M445.7 477.1h0M414.5 475.6h0M414.2 475.8h0M425.8 472.9h0M443 475.3h0M446.9 478.7h0M418.5 481.5h0M445.3 481.6h0M424.7 468.5h0M419.4 470.4h0M447.3 479.4h0M419.7 472.4h0M417.7 480.8h0M448.2 479.9h0M422.3 482.3h0M424.8 483.5h0M436.9 472.9h0M429.7 473.2h0M445.1 482h0M414.7 475.5h0M426.8 471.9h0M415.1 477.2h0M430.9 483.3h0M447.7 480.5h0M416.3 475.9h0M446 482.1h0M422.2 463.7h0M424.7 467.3h0M425.6 471.3h0M444.2 482.7h0M434.4 485.1h0M441.7 474.8h0M425.6 484.3h0M446.4 477.1h0M428.1 483.4h0M434.7 473.1h0M432.6 484.5h0M443.5 483h0M415.1 479.4h0M415.5 478.8h0M415.5 477.8h0M425.8 472.1h0M420.3 472h0M415.6 477.2h0M429.3 473.3h0M505.1 485h0M504.3 485.3h0M513.4 485.8h0M513.4 484.8h0M512.9 483.9h0M505.3 485.1h0M512.8 483.2h0M513.2 483.5h0M510.2 484.3h0M514.6 484.1h0M513.2 486.5h0M515 485.2h0M503.5 484.1h0M505.7 485.6h0M513.9 486.8h0M515.4 485.7h0M504.7 484.8h0M508.4 483.2h0M506.8 484.4h0M507.1 484.2h0M512.3 486.7h0M512.9 483.2h0M513.4 485.6h0M442.6 452.5h0M440.4 451.1h0M441.6 452.4h0M440.7 452h0M444 452.9h0M441.3 453.1h0M445.7 451.4h0M442.5 450.4h0M440.5 453h0M441.4 450.2h0M443.9 452h0M440.4 450h0" stroke="#E07F78" stroke-width="1" stroke-linecap="round" fill="none"/>
<path d="M419.5 381.5 423 380.2 425 383 423.5 388 424.5 392 422 396.5 420.5 395 418.7 389 418.5 384ZM437.5 391.3 442 392 447.3 392.2 447.3 393.8 446.3 400.9 444.8 403.8 444.2 403.3 445.3 397 445.6 393.6 441 393.3 437.5 392.6ZM414.6 429.2 418.7 428.2 424.9 429.2 426.9 426.1 432 425.7 435.1 428.2 437.1 432.3 435.1 435.3 431 436.3 428.9 434.3 424.9 432.3 419.7 432.7 415.7 432.3ZM447.3 433.3 450.4 431.2 455.5 432.3 459 435.3 457.6 439.4 452.4 440.4 449.4 438.4ZM453.5 453.7 458.6 451.7 465.7 450.7 466.7 446.6 464.7 441.5 468.8 439.4 473.9 441.5 475.9 446.6 474.9 450.7 480 453.7 483.1 456.8 482.1 461.9 477 462.9 470.8 461.9 465.7 460.9 458.6 459.9 454.5 457.8ZM489.2 429.2 495.4 429.2 501.5 430.2 504.6 435.3 502.5 440.4 498.4 442.1 495.4 439.4 491.3 436.3ZM498.4 445.5 500.5 447.6 500.5 452.7 503.5 453.7 507.6 449.6 511.7 450.7 513.8 454.7 509.7 456.8 505.6 457.8 501.5 459.9 496.4 458.8 495.4 453.7ZM470.8 486.4 474.9 481.3 478 480.3 480 483.4 479.4 487.4 475.9 489.5 470.8 490.5ZM497.5 385.5 501 384.3 504.5 385.5 505.6 389 504 392.8 500 393.7 497.4 391ZM434 406.5 438 407 439 409.5 436 411 434 409.5Z" fill="#4BBED9" stroke="#4BBED9" stroke-width="0.6" stroke-linejoin="round"/>
<path d="M420.4 394.6h0M418.4 387.2h0M424 379.9h0M421.7 395.4h0M420.2 395.9h0M419.3 391.2h0M423.9 392.1h0M424.1 383.8h0M424.3 381.3h0M422.3 379.5h0M422.2 380.2h0M425.2 383.3h0M419.5 381.9h0M419 382.6h0M419.2 386h0M424.8 389.5h0M424.2 386.4h0M424.9 392.5h0M419.5 394.2h0M423.8 395.5h0M424.3 381.6h0M424 386.7h0M418.4 383h0M424.3 390.9h0M418.5 387.9h0M423.7 391h0M421.8 395.5h0M421.1 396.3h0M424.9 390.2h0M424.1 383.5h0M418.5 387.1h0M422.8 380.7h0M424.8 383.5h0M419.8 382.4h0M419 391.4h0M418 384.6h0M423.7 388.9h0M443.3 400.3h0M437.9 391.4h0M443.9 400.4h0M438.3 392.8h0M445.9 401.2h0M444.3 398.3h0M447.2 392.8h0M442.2 393.6h0M439.8 393.2h0M445.4 399.1h0M445.6 397.1h0M446.1 400.7h0M445.5 402.7h0M447.1 392.6h0M444.9 392.3h0M445.1 393.7h0M445.1 402.6h0M444.6 392.5h0M444 403.8h0M446.2 400.4h0M446.9 391.5h0M447.4 393.9h0M438.3 392.6h0M444.5 394.1h0M444.2 402.8h0M445.7 392.7h0M444.6 400.6h0M440.5 392.2h0M437.8 393.1h0M443.4 392h0M440.1 390.6h0M442.7 394h0M437.2 391.1h0M440.8 391.3h0M437 391.8h0M445.2 395.5h0M438.3 391.8h0M444.1 393.3h0M443.7 392.2h0M441.9 393.7h0M447.3 392.3h0M426 427.8h0M434.2 435.9h0M424.7 429.7h0M415.7 432.6h0M424.3 432.1h0M416.6 429.7h0M417.8 433.1h0M430.1 426.2h0M426.1 425.2h0M418.2 428.1h0M414.6 431.6h0M429.3 434.4h0M416.1 432.3h0M424.3 431.9h0M437 433.3h0M418.7 428.7h0M423.5 429.5h0M435.7 429.5h0M432.5 426h0M415.8 430.9h0M417.5 432.4h0M414.8 429.6h0M418.5 433h0M424.4 431.8h0M418.9 432.6h0M437.8 433h0M416.3 432h0M417.9 428.9h0M416.1 429.3h0M416.2 429.9h0M432.4 425.6h0M434.4 427.3h0M422.6 433h0M436.1 430.6h0M430.6 436.7h0M424.2 428.8h0M426.4 428.3h0M432 426.5h0M429.8 435.2h0M434.7 436.1h0M421.6 431.8h0M420.9 432.9h0M430.3 435.6h0M436.8 432.8h0M416.8 431.8h0M430.6 435.3h0M434.7 427h0M432.3 435.2h0M425.7 433h0M434.5 435.7h0M422.9 427.9h0M429.8 434.5h0M415.2 430.5h0M433.2 425.7h0M432.1 437.4h0M450.1 430.2h0M457.5 433.1h0M455.4 439.9h0M449.3 436.6h0M450.9 430.8h0M448.3 437.5h0M455.8 432h0M453.9 440.3h0M456.7 433.8h0M447.6 432.9h0M448.8 437.7h0M448.1 436.6h0M453.9 440.2h0M451.2 431h0M454.7 441.5h0M449.2 432.3h0M455.9 440.9h0M446.2 433.3h0M451 439.3h0M459.9 435.1h0M458.4 439.2h0M457.1 434.4h0M454.9 432.3h0M448.5 435.9h0M459.1 435.9h0M455.3 432.8h0M458 439.9h0M451.9 431.8h0M456.7 439.3h0M459.1 436.8h0M453 439.6h0M447.2 432.6h0M460.3 460.5h0M455.8 452.6h0M470.6 461h0M475.2 451.7h0M467.6 440.4h0M470.1 439.3h0M466.4 444.3h0M456.6 460.2h0M482.7 456.6h0M468.4 461.6h0M478.4 462h0M480.2 454.7h0M456.5 458.2h0M472.2 440.2h0M477.4 462.4h0M471.6 462h0M478 452.9h0M464.7 450.9h0M483 460h0M466.7 440.6h0M475.4 462.5h0M482.8 461h0M472.5 441.2h0M467.1 447.5h0M481.7 455.9h0M476.2 445.5h0M466.7 443.9h0M470.5 462h0M473.1 441.4h0M460 450.1h0M473.3 462.9h0M474.8 445.3h0M457.7 459.4h0M483.5 456.3h0M473.4 463.3h0M458.4 451.5h0M480.4 453.4h0M456.2 459h0M460.3 450.5h0M479.6 463.3h0M468.3 438.9h0M453.5 456.8h0M478.8 462.2h0M466.7 442.9h0M482 454.7h0M477.2 452.3h0M476.4 446.3h0M454.2 452.7h0M463.1 460.2h0M476 447.4h0M465.4 441.4h0M474.2 443.8h0M453.5 453h0M464.6 451.3h0M482.8 459.9h0M466.7 446.4h0M466.2 447.7h0M474.4 448.2h0M473.7 441.1h0M467.4 446.6h0M469.7 440.1h0M466.1 460.8h0M461.6 450.8h0M470.5 440h0M466.4 448h0M461.2 451.3h0M475.9 448.7h0M459.1 452.4h0M466.6 450h0M467.4 440.4h0M475.5 451.6h0M465 441.8h0M479.8 453.8h0M457.3 459.7h0M457 459h0M480.8 455.5h0M476.7 452.3h0M480 462.6h0M474.3 452.2h0M482.1 455.2h0M468.8 439.7h0M472.7 441.1h0M463.3 461.4h0M455.6 451.8h0M464.6 449.7h0M462.7 462.2h0M475.6 462.6h0M482.1 460.1h0M465.7 443.8h0M473 440.3h0M494.8 439.5h0M493.8 429.4h0M491.3 428.7h0M492.5 436.7h0M504 433.2h0M492.3 428.6h0M504.2 432.6h0M496 427.7h0M494.6 438h0M498 442.8h0M492.3 429.9h0M502.2 432.1h0M500.1 429.4h0M493.3 438h0M495.7 439.9h0M499.9 441.7h0M496.2 429.7h0M492 438.1h0M492.3 428.6h0M491 434.9h0M504.2 440.1h0M495.5 439.8h0M490.8 435.2h0M494.5 428.9h0M491.6 438.2h0M494.8 429h0M494.8 429.5h0M497.2 430.7h0M493.7 429.4h0M503.8 433.3h0M504.5 436.2h0M494.8 429.2h0M492.1 435.9h0M490 431.3h0M493.9 438.7h0M491.4 429.1h0M492.1 436.3h0M497.9 442.1h0M504.3 433.8h0M501.4 430.7h0M489.2 432h0M495.9 430.1h0M494.2 429h0M500 441.3h0M504.1 454h0M513.7 454.3h0M503.3 453.6h0M509 450.3h0M497.2 447.5h0M500.3 459.9h0M499.9 452.9h0M499.7 447.3h0M504.3 452.6h0M511.8 451.2h0M512.2 453.2h0M498.5 459.6h0M513.1 455.4h0M500.6 459.7h0M502.5 459.4h0M504.7 457.4h0M499.6 445.3h0M510.5 450.8h0M497.9 447.4h0M512.1 450.4h0M510.8 449.5h0M500.8 451h0M502.5 453.3h0M512.6 453h0M505.5 449.3h0M513.5 454.7h0M495.9 454.4h0M507.6 449.3h0M507.8 449.8h0M501.7 460.5h0M510.4 450.4h0M511.5 455.9h0M509.2 456.9h0M496 457.6h0M513.9 454.5h0M513.2 454.3h0M499.3 445.8h0M496.5 455.8h0M507.2 449.7h0M512 451.7h0M509.9 450.4h0M497.9 448.4h0M505.2 457.8h0M502.9 454.2h0M499.5 446h0M497.9 444.9h0M498 449.4h0M499.6 451.8h0M509.4 449.7h0M498.4 445.6h0M511.6 455.8h0M502.5 453.2h0M500.3 449.7h0M504.6 453.1h0M499.1 446.9h0M495.5 457.8h0M501.2 452.3h0M512.1 451.2h0M474.6 489.4h0M478.1 487.7h0M480.1 482.8h0M474.3 480.4h0M471.3 488.2h0M472.7 491.1h0M478.5 488.3h0M478.2 488.3h0M477.7 481.1h0M479.9 483.4h0M479.3 482.8h0M471.1 487h0M472.2 491.6h0M479.5 483.2h0M475.1 489.8h0M478.5 488.2h0M472.1 490.2h0M479.7 486.7h0M474.8 489.4h0M473.6 484.4h0M478.3 488.4h0M475.5 490.5h0M479.5 485.3h0M479 486.9h0M473.8 483.1h0M477.4 488.1h0M476.2 489.3h0M471.1 489.1h0M479.8 484.4h0M478.7 488.4h0M499.2 391.5h0M505.3 389.9h0M499.8 386.4h0M503.3 384.2h0M506.1 387.9h0M497.4 388.6h0M497 390.8h0M505.8 388.4h0M500 394.2h0M497.6 392.8h0M501.6 384.5h0M500 393.8h0M503.4 385h0M497 387.5h0M505.4 388h0M505.2 387.8h0M503.1 383.7h0M503.4 385.1h0M502.6 391.9h0M497.7 386.4h0M499.1 385.1h0M497.8 385.9h0M499.8 384.6h0M504.1 394h0M500.7 384.8h0M505.4 389.9h0M501.3 384.2h0M504.2 389.1h0M434.1 409.3h0M436.8 410h0M432.9 408.9h0M436.1 410.9h0M433.5 408.7h0M435.5 410.9h0M434.5 408.2h0M435.6 410.2h0M433.6 409.4h0M437.7 409.5h0M437.6 409.2h0M437.2 410h0M436.6 411.4h0M438.4 408.8h0M437.9 409.2h0" stroke="#4BBED9" stroke-width="1" stroke-linecap="round" fill="none"/>
<ellipse cx="441" cy="407.6" rx="5.5" ry="1.2" fill="#fff"/>
<path d="M428.4 394.1h0M424.3 386.6h0M425.1 386.3h0M420.2 389.7h0M420.7 389.6h0M426.6 392.1h0M428.1 386h0M427.6 393.8h0M420.3 389.1h0M428.2 388.9h0M420.2 389.6h0M427.4 384.3h0M426.9 386.4h0M426.3 396.2h0M421.1 396.5h0M421.9 395.9h0M422.8 390h0M428.8 392.4h0M423.9 382.1h0M423.4 385.5h0M424.7 391.6h0M421.7 388h0M426.3 389.7h0M425 393.2h0M423.4 382.4h0M425 392.5h0M426.4 384.6h0M426.4 395.4h0M427.5 395.4h0M420.2 393.9h0M428.8 387h0M428.1 395.1h0M426 390.1h0M426.8 383.9h0M428.6 385.7h0M419.8 388.8h0M423 393.7h0M425.9 383.7h0M424.3 391.7h0M425.2 385.3h0" stroke="#4BBED9" stroke-width="1.2" stroke-linecap="round" fill="none"/>
<path d="M436.8 406.5h0M435.1 409.7h0M439.3 407.2h0M434 406.5h0M433.9 408.3h0M435.6 407.3h0M432 408.3h0M435.6 406.8h0M434.5 407h0M432.4 407h0" stroke="#4BBED9" stroke-width="1.2" stroke-linecap="round" fill="none"/>
<path d="M466.7 369.2h0M467.5 370h0M496.4 402.9h0M393.6 436.8h0M470.8 469h0M424 457h0M429.5 440.5h0" stroke="#4BBED9" stroke-width="1.8" stroke-linecap="round" fill="none"/>
<path d="M472.9 471.5h0M417 430.5h0M420 430h0M475 460h0M470 451h0M500.5 431h0" stroke="#E07F78" stroke-width="1.4" stroke-linecap="round" fill="none"/>
<line x1="387.3" y1="361.6" x2="387.3" y2="498.9" stroke="#444" stroke-width="0.8"/>
<line x1="387.3" y1="498.9" x2="519.4" y2="498.9" stroke="#444" stroke-width="0.8"/>
<line x1="383.5" y1="398.6" x2="387.3" y2="398.6" stroke="#444" stroke-width="0.6"/>
<text x="382.4" y="401.7" font-size="8.4" text-anchor="end" fill="#333">10</text>
<line x1="383.5" y1="439.4" x2="387.3" y2="439.4" stroke="#444" stroke-width="0.6"/>
<text x="382.4" y="442.5" font-size="8.4" text-anchor="end" fill="#333">0</text>
<line x1="383.5" y1="479.6" x2="387.3" y2="479.6" stroke="#444" stroke-width="0.6"/>
<text x="382.4" y="482.7" font-size="8.4" text-anchor="end" fill="#333">−10</text>
<line x1="408.5" y1="498.9" x2="408.5" y2="501.4" stroke="#444" stroke-width="0.6"/>
<text x="408.5" y="512.1" font-size="8.4" text-anchor="middle" fill="#333">−10</text>
<line x1="432.4" y1="498.9" x2="432.4" y2="501.4" stroke="#444" stroke-width="0.6"/>
<text x="432.4" y="512.1" font-size="8.4" text-anchor="middle" fill="#333">−5</text>
<line x1="455.9" y1="498.9" x2="455.9" y2="501.4" stroke="#444" stroke-width="0.6"/>
<text x="455.9" y="512.1" font-size="8.4" text-anchor="middle" fill="#333">0</text>
<line x1="479.6" y1="498.9" x2="479.6" y2="501.4" stroke="#444" stroke-width="0.6"/>
<text x="479.6" y="512.1" font-size="8.4" text-anchor="middle" fill="#333">5</text>
<line x1="503.1" y1="498.9" x2="503.1" y2="501.4" stroke="#444" stroke-width="0.6"/>
<text x="503.1" y="512.1" font-size="8.4" text-anchor="middle" fill="#333">10</text>
<text x="464.5" y="526.6" font-size="10.1" text-anchor="middle" textLength="40.4" lengthAdjust="spacingAndGlyphs">UMAP_1</text>
<text x="525.6" y="344.3" font-size="16.5" fill="#111" font-weight="bold">J</text>
<line x1="556.4" y1="375.9" x2="556.4" y2="501.6" stroke="#444" stroke-width="0.8"/>
<line x1="556.4" y1="501.6" x2="603.2" y2="501.6" stroke="#444" stroke-width="0.8"/>
<line x1="554.4" y1="410.3" x2="556.4" y2="410.3" stroke="#444" stroke-width="0.6"/>
<line x1="554.4" y1="467.2" x2="556.4" y2="467.2" stroke="#444" stroke-width="0.6"/>
<line x1="586.6" y1="501.6" x2="586.6" y2="503.6" stroke="#444" stroke-width="0.6"/>
<text x="550.3" y="391" font-size="8.6" text-anchor="middle" fill="#333" transform="rotate(-90 550.3 391)" textLength="56" lengthAdjust="spacingAndGlyphs">Primary tumor</text>
<text x="550.3" y="474.3" font-size="8.6" text-anchor="middle" fill="#333" transform="rotate(-90 550.3 474.3)" textLength="67.5" lengthAdjust="spacingAndGlyphs">Metastatic lesion</text>
<path d="M584.8 468.9h0" stroke="#3A3DA6" stroke-width="10.4" stroke-linecap="round" fill="none"/>
<path d="M584.8 412.4h0" stroke="#DADCE6" stroke-width="1" stroke-linecap="round" fill="none"/>
<text x="590.4" y="520" font-size="10.5" text-anchor="middle" fill="#333" textLength="29.5" lengthAdjust="spacingAndGlyphs">ITGA3</text>
<text x="615.6" y="381.7" font-size="7.8" fill="#333" textLength="69" lengthAdjust="spacingAndGlyphs">Average Expression</text>
<rect x="615.6" y="387.9" width="11.3" height="56.7" fill="url(#jg)" stroke="none" stroke-width="0.8"/>
<line x1="624.6" y1="400.2" x2="626.9" y2="400.2" stroke="#fff" stroke-width="0.5"/>
<line x1="615.6" y1="400.2" x2="617.9" y2="400.2" stroke="#fff" stroke-width="0.5"/>
<text x="632.3" y="403.8" font-size="8.5" fill="#333">0.4</text>
<line x1="624.6" y1="416.2" x2="626.9" y2="416.2" stroke="#fff" stroke-width="0.5"/>
<line x1="615.6" y1="416.2" x2="617.9" y2="416.2" stroke="#fff" stroke-width="0.5"/>
<text x="632.3" y="419.7" font-size="8.5" fill="#333">0.0</text>
<line x1="624.6" y1="432.5" x2="626.9" y2="432.5" stroke="#fff" stroke-width="0.5"/>
<line x1="615.6" y1="432.5" x2="617.9" y2="432.5" stroke="#fff" stroke-width="0.5"/>
<text x="632.3" y="435.6" font-size="8.5" fill="#333">−0.4</text>
<text x="615.6" y="464.2" font-size="7.7" fill="#333" textLength="65" lengthAdjust="spacingAndGlyphs">Percent Expressed</text>
<path d="M621.5 476.4h0" stroke="#111" stroke-width="1.4" stroke-linecap="round" fill="none"/>
<text x="632.3" y="479.8" font-size="8.5" fill="#333">35</text>
<path d="M621.5 487.8h0" stroke="#111" stroke-width="3.8" stroke-linecap="round" fill="none"/>
<text x="632.3" y="491.3" font-size="8.5" fill="#333">40</text>
<path d="M621.5 499.3h0" stroke="#111" stroke-width="6" stroke-linecap="round" fill="none"/>
<text x="632.3" y="502.7" font-size="8.5" fill="#333">45</text>
<text x="0" y="534.9" font-size="16.5" fill="#111" font-weight="bold">K</text>
<text x="52.3" y="550" font-size="7.9" text-anchor="middle" textLength="63.5" lengthAdjust="spacingAndGlyphs">CTC: GSE144561</text>
<line x1="25.8" y1="559.7" x2="25.8" y2="654.4" stroke="#444" stroke-width="0.7"/>
<line x1="23" y1="654.4" x2="80.8" y2="654.4" stroke="#444" stroke-width="0.7"/>
<line x1="24.2" y1="560.4" x2="25.8" y2="560.4" stroke="#444" stroke-width="0.5"/>
<text x="23.2" y="562.5" font-size="5.9" text-anchor="end" fill="#333">100</text>
<line x1="24.2" y1="577.1" x2="25.8" y2="577.1" stroke="#444" stroke-width="0.5"/>
<text x="23.2" y="579.2" font-size="5.9" text-anchor="end" fill="#333">80</text>
<line x1="24.2" y1="593.5" x2="25.8" y2="593.5" stroke="#444" stroke-width="0.5"/>
<text x="23.2" y="595.6" font-size="5.9" text-anchor="end" fill="#333">60</text>
<line x1="24.2" y1="609.7" x2="25.8" y2="609.7" stroke="#444" stroke-width="0.5"/>
<text x="23.2" y="611.8" font-size="5.9" text-anchor="end" fill="#333">40</text>
<line x1="24.2" y1="625.6" x2="25.8" y2="625.6" stroke="#444" stroke-width="0.5"/>
<text x="23.2" y="627.7" font-size="5.9" text-anchor="end" fill="#333">20</text>
<line x1="24.2" y1="641.3" x2="25.8" y2="641.3" stroke="#444" stroke-width="0.5"/>
<text x="23.2" y="643.4" font-size="5.9" text-anchor="end" fill="#333">0</text>
<text x="7.6" y="596" font-size="8.6" text-anchor="middle" transform="rotate(-90 7.6 596)" textLength="74" lengthAdjust="spacingAndGlyphs">Expression of ITGA3</text>
<line x1="41.1" y1="637.2" x2="41.1" y2="632.6" stroke="#555" stroke-width="0.7"/>
<line x1="37.4" y1="632.6" x2="44.7" y2="632.6" stroke="#555" stroke-width="0.7"/>
<line x1="64.3" y1="613.6" x2="64.3" y2="568.6" stroke="#555" stroke-width="0.7"/>
<line x1="60.4" y1="568.6" x2="68.1" y2="568.6" stroke="#555" stroke-width="0.7"/>
<rect x="33.3" y="637.2" width="15.7" height="17.2" fill="#86B5DE" stroke="#555" stroke-width="0.7"/>
<rect x="56.8" y="613.6" width="15.2" height="40.8" fill="#C98C93" stroke="#555" stroke-width="0.7"/>
<line x1="41.5" y1="565" x2="64" y2="565" stroke="#555" stroke-width="0.7"/>
<text x="52.6" y="566.3" font-size="9.4" text-anchor="middle" fill="#444">**</text>
<line x1="41.1" y1="654.4" x2="41.1" y2="655.9" stroke="#444" stroke-width="0.5"/>
<line x1="64.4" y1="654.4" x2="64.4" y2="655.9" stroke="#444" stroke-width="0.5"/>
<text x="39.9" y="665.2" font-size="7.4" text-anchor="middle" textLength="31.4" lengthAdjust="spacingAndGlyphs">Localized</text>
<text x="73.4" y="665.2" font-size="7.4" text-anchor="middle" textLength="33.1" lengthAdjust="spacingAndGlyphs">Metastatic</text>
<text x="95.9" y="535.2" font-size="16.5" fill="#111" font-weight="bold">L</text>
<path d="M106.2 550.5 107.5 550.5 107.5 551.6 108.8 551.6 108.8 552.8 110.1 552.8 110.1 553.9 111.4 553.9 111.4 555.1 112.9 555.1 112.9 556.4 114.5 556.4 114.5 557.7 116 557.7 116 559 116.9 559 116.9 560.1 117.8 560.1 117.8 561.1 118.8 561.1 118.8 562.2 119.7 562.2 119.7 563.3 120.3 563.3 120.3 564.3 121 564.3 121 565.4 121.7 565.4 121.7 566.4 122.3 566.4 122.3 567.5 122.8 567.5 122.8 568.7 123.3 568.7 123.3 570 123.7 570 123.7 571.2 124.2 571.2 124.2 572.5 124.7 572.5 124.7 573.7 125.1 573.7 125.1 574.9 125.5 574.9 125.5 576.2 125.9 576.2 125.9 577.5 126.3 577.5 126.3 578.8 126.7 578.8 126.7 580.1 127 580.1 127 581.3 127.4 581.3 127.4 582.6 127.8 582.6 127.8 583.9 128.1 583.9 128.1 585.2 128.5 585.2 128.5 586.4 128.8 586.4 128.8 587.7 129.5 587.7 129.5 588.8 130.2 588.8 130.2 589.8 130.9 589.8 130.9 590.9 131.6 590.9 131.6 592 132 592 132 593.2 132.3 593.2 132.3 594.5 132.7 594.5 132.7 595.8 133 595.8 133 597.1 133.4 597.1 133.4 598.3 134 598.3 134 599.4 134.7 599.4 134.7 600.5 135.3 600.5 135.3 601.5 135.8 601.5 135.8 602.6 136.2 602.6 136.2 603.6 153.6 603.6 153.9 603.6 153.9 604.7 154.3 604.7 154.3 605.8 154.6 605.8 154.6 606.8 162.9 606.8 162.9 608.4 163.8 608.4 163.8 609.8 164.7 609.8 164.7 611.1 167.9 611.1 167.9 612.2 171.1 612.2 171.1 613.2 171.6 613.2 171.6 614.5 172 614.5 172 615.8 192.2 615.8 192.4 615.8 192.4 616.9 192.5 616.9 192.5 618.1 192.6 618.1 192.6 619.2 192.8 619.2 192.8 620.4 192.9 620.4 192.9 621.5 193 621.5 193 622.7 193.1 622.7 193.1 623.8 197.7 623.8 197.8 623.8 197.8 625.1 197.9 625.1 197.9 626.4 198.1 626.4 198.1 627.6 198.2 627.6 198.2 628.9 198.3 628.9 198.3 630.1 198.4 630.1 198.4 631.4 198.5 631.4 198.5 632.6 198.6 632.6 198.6 633.9 198.7 633.9 198.7 635.1 222.6 635.1" fill="none" stroke="#505050" stroke-width="0.7"/>
<path d="M115 557.5v2.6M120.6 563v2.6M125.7 575v2.6M138.9 602.9v2.6M143.5 602.9v2.6M145.4 602.9v2.6M148.1 602.9v2.6M150.9 602.9v2.6M152.7 602.9v2.6M157.3 606.2v2.6M165.6 609.9v2.6M183.1 614.5v2.6M184.9 614.5v2.6M188.6 614.5v2.6M195 622.8v2.6M203.3 633.8v2.6M222.6 633.8v2.6" fill="none" stroke="#505050" stroke-width="0.6"/>
<path d="M106.2 550.5 107.3 550.5 107.3 551.6 108.4 551.6 108.4 552.6 109.5 552.6 109.5 553.7 110.2 553.7 110.2 555 110.9 555 110.9 556.3 111.6 556.3 111.6 557.7 112.3 557.7 112.3 559 112.7 559 112.7 560.3 113 560.3 113 561.6 113.4 561.6 113.4 562.8 113.7 562.8 113.7 564.1 114.1 564.1 114.1 565.4 114.8 565.4 114.8 566.7 115.5 566.7 115.5 568 116.2 568 116.2 569.4 116.9 569.4 116.9 570.7 117.3 570.7 117.3 571.9 117.8 571.9 117.8 573.2 118.3 573.2 118.3 574.4 118.7 574.4 118.7 575.7 119.2 575.7 119.2 576.9 119.7 576.9 119.7 578.1 120 578.1 120 579.4 120.3 579.4 120.3 580.6 120.6 580.6 120.6 581.9 120.9 581.9 120.9 583.1 121.2 583.1 121.2 584.3 121.5 584.3 121.5 585.6 122.4 585.6 122.4 586.6 123.3 586.6 123.3 587.7 124.2 587.7 124.2 588.8 124.9 588.8 124.9 589.8 125.6 589.8 125.6 590.9 126.3 590.9 126.3 592 127 592 127 593 127.3 593 127.3 594.3 127.6 594.3 127.6 595.5 127.9 595.5 127.9 596.7 128.2 596.7 128.2 598 128.5 598 128.5 599.2 128.8 599.2 128.8 600.5 129.5 600.5 129.5 601.8 130.2 601.8 130.2 603.1 130.9 603.1 130.9 604.4 131.6 604.4 131.6 605.8 132.1 605.8 132.1 607.1 132.5 607.1 132.5 608.4 133 608.4 133 609.8 133.4 609.8 133.4 611.1 134.1 611.1 134.1 612.2 134.8 612.2 134.8 613.2 135.5 613.2 135.5 614.3 136.2 614.3 136.2 615.3 136.5 615.3 136.5 616.5 136.8 616.5 136.8 617.6 137.1 617.6 137.1 618.8 137.4 618.8 137.4 619.9 137.7 619.9 137.7 621.1 138 621.1 138 622.3 138.2 622.3 138.2 623.4 138.5 623.4 138.5 624.6 138.7 624.6 138.7 625.8 139 625.8 139 627 143.6 627 144.2 627 144.2 628.1 144.8 628.1 144.8 629.2 145.3 629.2 145.3 630.2 151.8 630.2 152 630.2 152 631.5 152.1 631.5 152.1 632.7 152.3 632.7 152.3 633.9 152.4 633.9 152.4 635.2 152.6 635.2 152.6 636.4 152.7 636.4 152.7 637.7 193.1 637.7" fill="none" stroke="#EC5050" stroke-width="0.7"/>
<path d="M124.2 587.8v2.6M134.3 610.8v2.6M138.9 625.5v2.6M146.3 629.2v2.6M149.1 629.2v2.6M150.9 629.2v2.6M160.1 636.6v2.6M192.3 636.6v2.6" fill="none" stroke="#EC5050" stroke-width="0.6"/>
<text x="163.1" y="544.3" font-size="8.9" text-anchor="middle" textLength="62.1" lengthAdjust="spacingAndGlyphs">Overall Survival</text>
<rect x="105.3" y="546.6" width="121.9" height="115.8" fill="none" stroke="#8A8A8A" stroke-width="0.7"/>
<line x1="106.2" y1="662.4" x2="106.2" y2="664.4" stroke="#555" stroke-width="0.5"/>
<text x="106.2" y="669.7" font-size="4.6" text-anchor="middle" fill="#444" style="font-family:'Liberation Serif',serif">0</text>
<line x1="131.6" y1="662.4" x2="131.6" y2="664.4" stroke="#555" stroke-width="0.5"/>
<text x="131.6" y="669.7" font-size="4.6" text-anchor="middle" fill="#444" style="font-family:'Liberation Serif',serif">20</text>
<line x1="157.3" y1="662.4" x2="157.3" y2="664.4" stroke="#555" stroke-width="0.5"/>
<text x="157.3" y="669.7" font-size="4.6" text-anchor="middle" fill="#444" style="font-family:'Liberation Serif',serif">40</text>
<line x1="182.7" y1="662.4" x2="182.7" y2="664.4" stroke="#555" stroke-width="0.5"/>
<text x="182.7" y="669.7" font-size="4.6" text-anchor="middle" fill="#444" style="font-family:'Liberation Serif',serif">60</text>
<line x1="207.9" y1="662.4" x2="207.9" y2="664.4" stroke="#555" stroke-width="0.5"/>
<text x="207.9" y="669.7" font-size="4.6" text-anchor="middle" fill="#444" style="font-family:'Liberation Serif',serif">80</text>
<line x1="102.7" y1="550.5" x2="105.3" y2="550.5" stroke="#555" stroke-width="0.5"/>
<text x="101.5" y="550.5" font-size="4.7" text-anchor="middle" fill="#444" style="font-family:'Liberation Serif',serif" transform="rotate(-90 101.5 550.5)">1.0</text>
<line x1="102.7" y1="572.2" x2="105.3" y2="572.2" stroke="#555" stroke-width="0.5"/>
<text x="101.5" y="572.2" font-size="4.7" text-anchor="middle" fill="#444" style="font-family:'Liberation Serif',serif" transform="rotate(-90 101.5 572.2)">0.8</text>
<line x1="102.7" y1="593.4" x2="105.3" y2="593.4" stroke="#555" stroke-width="0.5"/>
<text x="101.5" y="593.4" font-size="4.7" text-anchor="middle" fill="#444" style="font-family:'Liberation Serif',serif" transform="rotate(-90 101.5 593.4)">0.6</text>
<line x1="102.7" y1="614.5" x2="105.3" y2="614.5" stroke="#555" stroke-width="0.5"/>
<text x="101.5" y="614.5" font-size="4.7" text-anchor="middle" fill="#444" style="font-family:'Liberation Serif',serif" transform="rotate(-90 101.5 614.5)">0.4</text>
<line x1="102.7" y1="636" x2="105.3" y2="636" stroke="#555" stroke-width="0.5"/>
<text x="101.5" y="636" font-size="4.7" text-anchor="middle" fill="#444" style="font-family:'Liberation Serif',serif" transform="rotate(-90 101.5 636)">0.2</text>
<line x1="102.7" y1="656.8" x2="105.3" y2="656.8" stroke="#555" stroke-width="0.5"/>
<text x="101.5" y="656.8" font-size="4.7" text-anchor="middle" fill="#444" style="font-family:'Liberation Serif',serif" transform="rotate(-90 101.5 656.8)">0.0</text>
<text x="95.3" y="605.5" font-size="10.2" text-anchor="middle" transform="rotate(-90 95.3 605.5)" textLength="72.6" lengthAdjust="spacingAndGlyphs">Percent survival</text>
<text x="167.2" y="678.6" font-size="7" text-anchor="middle" textLength="23" lengthAdjust="spacingAndGlyphs">Months</text>
<text x="165.6" y="557.9" font-size="6.9" fill="#333" style="font-family:'Liberation Serif',serif" textLength="58.3" lengthAdjust="spacingAndGlyphs">ITGA3 mRNA levels</text>
<line x1="171.1" y1="565" x2="181.2" y2="565" stroke="#505050" stroke-width="0.7"/>
<text x="183.5" y="566.7" font-size="6.9" fill="#333" style="font-family:'Liberation Serif',serif" textLength="32.7" lengthAdjust="spacingAndGlyphs">Low (n=89)</text>
<line x1="171.1" y1="572.7" x2="181.2" y2="572.7" stroke="#EC5050" stroke-width="0.7"/>
<text x="183.5" y="574.4" font-size="6.9" fill="#333" style="font-family:'Liberation Serif',serif" textLength="33.4" lengthAdjust="spacingAndGlyphs">High (n=89)</text>
<text x="113.6" y="652.6" font-size="7.1" style="font-family:'Liberation Serif',serif" textLength="50.2" lengthAdjust="spacingAndGlyphs">HR=1.8, p=0.007</text>
<path d="M250.8 550.5 254.5 550.5 254.5 551.6 256.3 551.6 256.3 552.8 258.2 552.8 258.2 554.1 258.9 554.1 258.9 555.2 259.6 555.2 259.6 556.3 260.4 556.3 260.4 557.4 261.1 557.4 261.1 558.5 261.8 558.5 261.8 559.6 262.3 559.6 262.3 560.9 262.8 560.9 262.8 562.1 263.2 562.1 263.2 563.3 263.7 563.3 263.7 564.5 264.2 564.5 264.2 565.8 264.6 565.8 264.6 567 265.1 567 265.1 568.2 265.5 568.2 265.5 569.4 266 569.4 266 570.6 266.4 570.6 266.4 571.9 266.9 571.9 266.9 573.1 267.3 573.1 267.3 574.3 267.9 574.3 267.9 575.4 268.4 575.4 268.4 576.5 269 576.5 269 577.6 269.5 577.6 269.5 578.7 270.1 578.7 270.1 579.8 270.7 579.8 270.7 580.9 271.2 580.9 271.2 582 271.8 582 271.8 583.2 272.3 583.2 272.3 584.3 272.9 584.3 272.9 585.4 273.3 585.4 273.3 586.5 273.8 586.5 273.8 587.6 274.2 587.6 274.2 588.7 274.7 588.7 274.7 589.8 275.6 589.8 275.6 590.8 276.6 590.8 276.6 591.7 285.7 591.7 286.2 591.7 286.2 593.1 286.7 593.1 286.7 594.5 292.2 594.5 292.7 594.5 292.7 601.8 306 601.8 306.3 601.8 306.3 603 306.5 603 306.5 604.1 306.7 604.1 306.7 605.3 306.9 605.3 306.9 606.4 314.3 606.4 314.3 607.3 314.5 607.3 314.5 608.6 314.7 608.6 314.7 609.9 314.8 609.9 314.8 611.2 315 611.2 315 612.5 315.2 612.5 315.2 613.7 318 613.7 318.1 613.7 318.1 615 318.3 615 318.3 616.2 318.4 616.2 318.4 617.4 318.6 617.4 318.6 618.6 318.7 618.6 318.7 619.9 318.9 619.9 318.9 621.1 367.6 621.1" fill="none" stroke="#505050" stroke-width="0.7"/>
<path d="M271.1 580.5v2.6M276.6 590.6v2.6M278.4 590.6v2.6M280.3 590.6v2.6M293.1 600.7v2.6M296.8 600.7v2.6M298.7 600.7v2.6M302.3 600.7v2.6M310.6 606.2v2.6M316.1 612.7v2.6M326.2 620v2.6M329 620v2.6M332.7 620v2.6M339.1 620v2.6M367.6 620v2.6" fill="none" stroke="#505050" stroke-width="0.6"/>
<path d="M250.8 550.5 252.6 550.5 252.6 551.9 254.5 551.9 254.5 553.3 254.8 553.3 254.8 554.4 255.2 554.4 255.2 555.5 255.5 555.5 255.5 556.6 255.9 556.6 255.9 557.7 256.3 557.7 256.3 558.8 256.4 558.8 256.4 560 256.5 560 256.5 561.1 256.7 561.1 256.7 562.3 256.8 562.3 256.8 563.5 256.9 563.5 256.9 564.7 257.1 564.7 257.1 565.9 257.2 565.9 257.2 567 257.3 567 257.3 568.2 257.5 568.2 257.5 569.4 257.6 569.4 257.6 570.6 257.8 570.6 257.8 571.7 257.9 571.7 257.9 572.9 258 572.9 258 574.1 258.2 574.1 258.2 575.3 259.1 575.3 259.1 576.5 260 576.5 260 577.7 261 577.7 261 578.9 261.5 578.9 261.5 580 262 580 262 581.1 262.6 581.1 262.6 582.2 263.1 582.2 263.1 583.3 263.6 583.3 263.6 584.4 264.4 584.4 264.4 585.5 265.1 585.5 265.1 586.6 265.8 586.6 265.8 587.7 266.6 587.7 266.6 588.7 267.3 588.7 267.3 589.8 267.4 589.8 267.4 591 267.5 591 267.5 592.1 267.6 592.1 267.6 593.2 267.8 593.2 267.8 594.4 267.9 594.4 267.9 595.5 268 595.5 268 596.6 268.1 596.6 268.1 597.8 268.2 597.8 268.2 598.9 268.3 598.9 268.3 600 268.7 600 268.7 601.1 269 601.1 269 602.2 269.4 602.2 269.4 603.3 269.7 603.3 269.7 604.4 270.1 604.4 270.1 605.5 270.7 605.5 270.7 606.6 271.2 606.6 271.2 607.7 271.8 607.7 271.8 608.8 272.3 608.8 272.3 609.9 272.9 609.9 272.9 611 273.5 611 273.5 612.3 274 612.3 274 613.5 274.6 613.5 274.6 614.8 275.1 614.8 275.1 616.1 275.7 616.1 275.7 617.4 276.3 617.4 276.3 618.6 276.9 618.6 276.9 619.8 277.5 619.8 277.5 621.1 281.2 621.1 281.2 621.9 281.5 621.9 281.5 623.2 281.9 623.2 281.9 624.5 282.3 624.5 282.3 625.8 282.7 625.8 282.7 627.1 283.1 627.1 283.1 628.4 283.3 628.4 283.3 629.6 283.5 629.6 283.5 630.7 283.7 630.7 283.7 631.8 283.9 631.8 283.9 633 305.2 633 305.7 633 305.7 644.9 337.3 644.9" fill="none" stroke="#EC5050" stroke-width="0.7"/>
<path d="M278.4 620.9v2.6M280.3 620.9v2.6M291.3 632v2.6M296.5 632v2.6M304.2 632v2.6M337.3 643.9v2.6" fill="none" stroke="#EC5050" stroke-width="0.6"/>
<text x="311.6" y="544" font-size="8.9" text-anchor="middle" textLength="86.7" lengthAdjust="spacingAndGlyphs">Disease Free Survival</text>
<rect x="250.2" y="546.6" width="121.6" height="115.8" fill="none" stroke="#8A8A8A" stroke-width="0.7"/>
<line x1="250.8" y1="662.4" x2="250.8" y2="664.4" stroke="#555" stroke-width="0.5"/>
<text x="250.8" y="669.7" font-size="4.6" text-anchor="middle" fill="#444" style="font-family:'Liberation Serif',serif">0</text>
<line x1="276.6" y1="662.4" x2="276.6" y2="664.4" stroke="#555" stroke-width="0.5"/>
<text x="276.6" y="669.7" font-size="4.6" text-anchor="middle" fill="#444" style="font-family:'Liberation Serif',serif">20</text>
<line x1="301.8" y1="662.4" x2="301.8" y2="664.4" stroke="#555" stroke-width="0.5"/>
<text x="301.8" y="669.7" font-size="4.6" text-anchor="middle" fill="#444" style="font-family:'Liberation Serif',serif">40</text>
<line x1="326.6" y1="662.4" x2="326.6" y2="664.4" stroke="#555" stroke-width="0.5"/>
<text x="326.6" y="669.7" font-size="4.6" text-anchor="middle" fill="#444" style="font-family:'Liberation Serif',serif">60</text>
<line x1="357.5" y1="662.4" x2="357.5" y2="664.4" stroke="#555" stroke-width="0.5"/>
<text x="357.5" y="669.7" font-size="4.6" text-anchor="middle" fill="#444" style="font-family:'Liberation Serif',serif">80</text>
<line x1="247.6" y1="550.5" x2="250.2" y2="550.5" stroke="#555" stroke-width="0.5"/>
<text x="246.4" y="550.5" font-size="4.7" text-anchor="middle" fill="#444" style="font-family:'Liberation Serif',serif" transform="rotate(-90 246.4 550.5)">1.0</text>
<line x1="247.6" y1="572.2" x2="250.2" y2="572.2" stroke="#555" stroke-width="0.5"/>
<text x="246.4" y="572.2" font-size="4.7" text-anchor="middle" fill="#444" style="font-family:'Liberation Serif',serif" transform="rotate(-90 246.4 572.2)">0.8</text>
<line x1="247.6" y1="593.4" x2="250.2" y2="593.4" stroke="#555" stroke-width="0.5"/>
<text x="246.4" y="593.4" font-size="4.7" text-anchor="middle" fill="#444" style="font-family:'Liberation Serif',serif" transform="rotate(-90 246.4 593.4)">0.6</text>
<line x1="247.6" y1="614.5" x2="250.2" y2="614.5" stroke="#555" stroke-width="0.5"/>
<text x="246.4" y="614.5" font-size="4.7" text-anchor="middle" fill="#444" style="font-family:'Liberation Serif',serif" transform="rotate(-90 246.4 614.5)">0.4</text>
<line x1="247.6" y1="636" x2="250.2" y2="636" stroke="#555" stroke-width="0.5"/>
<text x="246.4" y="636" font-size="4.7" text-anchor="middle" fill="#444" style="font-family:'Liberation Serif',serif" transform="rotate(-90 246.4 636)">0.2</text>
<line x1="247.6" y1="656.8" x2="250.2" y2="656.8" stroke="#555" stroke-width="0.5"/>
<text x="246.4" y="656.8" font-size="4.7" text-anchor="middle" fill="#444" style="font-family:'Liberation Serif',serif" transform="rotate(-90 246.4 656.8)">0.0</text>
<text x="238.9" y="605.5" font-size="10.2" text-anchor="middle" transform="rotate(-90 238.9 605.5)" textLength="72.6" lengthAdjust="spacingAndGlyphs">Percent survival</text>
<text x="312" y="678.6" font-size="7" text-anchor="middle" textLength="23" lengthAdjust="spacingAndGlyphs">Months</text>
<text x="312.5" y="557.9" font-size="6.9" fill="#333" style="font-family:'Liberation Serif',serif" textLength="57.5" lengthAdjust="spacingAndGlyphs">ITGA3 mRNA levels</text>
<line x1="318" y1="565" x2="328.1" y2="565" stroke="#505050" stroke-width="0.7"/>
<text x="329.9" y="566.7" font-size="6.9" fill="#333" style="font-family:'Liberation Serif',serif" textLength="32.2" lengthAdjust="spacingAndGlyphs">Low (n=89)</text>
<line x1="318" y1="572.7" x2="328.1" y2="572.7" stroke="#EC5050" stroke-width="0.7"/>
<text x="329.9" y="574.4" font-size="6.9" fill="#333" style="font-family:'Liberation Serif',serif" textLength="33.4" lengthAdjust="spacingAndGlyphs">High (n=89)</text>
<text x="256.4" y="655.4" font-size="7.1" style="font-family:'Liberation Serif',serif" textLength="48.7" lengthAdjust="spacingAndGlyphs">HR=2.4, p&lt;0.001</text>
<text x="376.3" y="535.5" font-size="16.5" fill="#111" font-weight="bold">M</text>
<path d="M401.5 556.7 405.8 556.7 405.8 557.7 407.2 557.7 407.2 558.9 408.7 558.9 408.7 560.1 410.2 560.1 410.2 561.3 411.7 561.3 411.7 562.5 412.5 562.5 412.5 563.8 413.3 563.8 413.3 565.1 414.1 565.1 414.1 566.5 414.9 566.5 414.9 567.8 415.7 567.8 415.7 569.2 416.2 569.2 416.2 570.5 416.8 570.5 416.8 571.9 417.4 571.9 417.4 573.2 418 573.2 418 574.5 418.6 574.5 418.6 575.9 420.2 575.9 420.2 577 421.8 577 421.8 578.1 423.4 578.1 423.4 579.2 424.4 579.2 424.4 580.6 425.4 580.6 425.4 581.9 426.4 581.9 426.4 583.2 427.3 583.2 427.3 584.5 428 584.5 428 585.8 428.7 585.8 428.7 587.1 429.3 587.1 429.3 588.3 430 588.3 430 589.6 430.7 589.6 430.7 590.9 431.3 590.9 431.3 592.2 431.9 592.2 431.9 593.6 432.5 593.6 432.5 594.9 433 594.9 433 596.3 433.6 596.3 433.6 597.7 434.1 597.7 434.1 599 434.7 599 434.7 600.4 435.2 600.4 435.2 601.8 436.2 601.8 436.2 603.2 437.2 603.2 437.2 604.6 438.1 604.6 438.1 606.1 439.1 606.1 439.1 607.5 440.4 607.5 440.4 608.8 441.7 608.8 441.7 610.1 443 610.1 443 611.4 444 611.4 444 612.8 445 612.8 445 614.2 446 614.2 446 615.7 447 615.7 447 617.1 448.2 617.1 448.2 618.3 449.5 618.3 449.5 619.5 450.7 619.5 450.7 620.7 451.9 620.7 451.9 621.9 453.5 621.9 453.5 623.2 455.2 623.2 455.2 624.5 456.8 624.5 456.8 625.7 467.6 625.7 467.6 626.2 472 626.2 472 627.7 476.4 627.7 476.4 629.1 513.6 629.1 513.7 629.1 513.7 652.6" fill="none" stroke="#505050" stroke-width="0.7"/>
<path d="M425.3 579.9v2.6M428.3 583.8v2.6M433.2 595.5v2.6M436.1 601.4v2.6M442.9 609.2v2.6M447.8 617.1v2.6M460.6 624.3v2.6M467.4 624.9v2.6M477.2 627.8v2.6M481.1 628.2v2.6M482.1 627.8v2.6M486 627.8v2.6M497.3 627.8v2.6M513.4 627.8v2.6" fill="none" stroke="#505050" stroke-width="0.6"/>
<path d="M401.5 556.7 402.8 556.7 402.8 557.9 404.1 557.9 404.1 559.1 405.5 559.1 405.5 560.3 406.8 560.3 406.8 561.5 407.7 561.5 407.7 562.9 408.7 562.9 408.7 564.4 409.7 564.4 409.7 565.8 410.7 565.8 410.7 567.2 410.9 567.2 410.9 568.5 411.2 568.5 411.2 569.8 411.5 569.8 411.5 571 411.7 571 411.7 572.3 412 572.3 412 573.6 412.3 573.6 412.3 574.8 412.6 574.8 412.6 576.1 412.8 576.1 412.8 577.4 413.1 577.4 413.1 578.6 413.4 578.6 413.4 579.9 413.7 579.9 413.7 581.2 414.6 581.2 414.6 582.6 415.6 582.6 415.6 584 416.5 584 416.5 585.5 416.9 585.5 416.9 586.8 417.3 586.8 417.3 588.1 417.6 588.1 417.6 589.4 418 589.4 418 590.7 418.4 590.7 418.4 592 418.7 592 418.7 593.3 419.1 593.3 419.1 594.6 419.5 594.6 419.5 595.9 419.8 595.9 419.8 597.2 420.2 597.2 420.2 598.5 420.6 598.5 420.6 599.9 421.2 599.9 421.2 601.1 421.9 601.1 421.9 602.4 422.5 602.4 422.5 603.7 423.2 603.7 423.2 605 423.8 605 423.8 606.2 424.4 606.2 424.4 607.5 425.4 607.5 425.4 609 426.4 609 426.4 610.4 427.4 610.4 427.4 611.8 428.3 611.8 428.3 613.3 429.6 613.3 429.6 614.6 430.9 614.6 430.9 615.8 432.2 615.8 432.2 617.1 433.9 617.1 433.9 618.4 435.6 618.4 435.6 619.7 437.2 619.7 437.2 621 438.1 621 438.1 622.3 438.9 622.3 438.9 623.7 439.7 623.7 439.7 625 440.5 625 440.5 626.4 441.3 626.4 441.3 627.7 442.1 627.7 442.1 629.1 442.9 629.1 442.9 630.3 443.8 630.3 443.8 631.5 444.6 631.5 444.6 632.7 445.4 632.7 445.4 633.9 446.2 633.9 446.2 635.1 447 635.1 447 636.3 447.7 636.3 447.7 637.5 448.5 637.5 448.5 638.7 449.2 638.7 449.2 639.9 449.9 639.9 449.9 641.1 458.8 641.1 459.4 641.1 459.4 642.2 460.1 642.2 460.1 643.3 460.7 643.3 460.7 644.4 523.4 644.4" fill="none" stroke="#EC5050" stroke-width="0.7"/>
<path d="M427.3 611.2v2.6M436.1 619v2.6M458.6 639.6v2.6M480.1 643.1v2.6M495.8 643.1v2.6M498.7 643.1v2.6M523.2 643.1v2.6" fill="none" stroke="#EC5050" stroke-width="0.6"/>
<text x="460.4" y="543.6" font-size="8.8" text-anchor="middle" textLength="61.4" lengthAdjust="spacingAndGlyphs">Overall Survival</text>
<rect x="397.1" y="546.4" width="129.3" height="116" fill="none" stroke="#8A8A8A" stroke-width="0.7"/>
<line x1="401.5" y1="662.4" x2="401.5" y2="664.4" stroke="#555" stroke-width="0.5"/>
<text x="401.5" y="669.7" font-size="5.4" text-anchor="middle" fill="#444" style="font-family:'Liberation Serif',serif">0</text>
<line x1="431.6" y1="662.4" x2="431.6" y2="664.4" stroke="#555" stroke-width="0.5"/>
<text x="431.6" y="669.7" font-size="5.4" text-anchor="middle" fill="#444" style="font-family:'Liberation Serif',serif">24</text>
<line x1="462.5" y1="662.4" x2="462.5" y2="664.4" stroke="#555" stroke-width="0.5"/>
<text x="462.5" y="669.7" font-size="5.4" text-anchor="middle" fill="#444" style="font-family:'Liberation Serif',serif">48</text>
<line x1="492.2" y1="662.4" x2="492.2" y2="664.4" stroke="#555" stroke-width="0.5"/>
<text x="492.2" y="669.7" font-size="5.4" text-anchor="middle" fill="#444" style="font-family:'Liberation Serif',serif">72</text>
<line x1="521.6" y1="662.4" x2="521.6" y2="664.4" stroke="#555" stroke-width="0.5"/>
<text x="521.6" y="669.7" font-size="5.4" text-anchor="middle" fill="#444" style="font-family:'Liberation Serif',serif">96</text>
<line x1="394.5" y1="556.7" x2="397.1" y2="556.7" stroke="#555" stroke-width="0.5"/>
<text x="393.5" y="558.6" font-size="5.6" text-anchor="end" fill="#444" style="font-family:'Liberation Serif',serif">1.0</text>
<line x1="394.5" y1="580.6" x2="397.1" y2="580.6" stroke="#555" stroke-width="0.5"/>
<text x="393.5" y="582.5" font-size="5.6" text-anchor="end" fill="#444" style="font-family:'Liberation Serif',serif">0.8</text>
<line x1="394.5" y1="604.7" x2="397.1" y2="604.7" stroke="#555" stroke-width="0.5"/>
<text x="393.5" y="606.6" font-size="5.6" text-anchor="end" fill="#444" style="font-family:'Liberation Serif',serif">0.5</text>
<line x1="394.5" y1="629.1" x2="397.1" y2="629.1" stroke="#555" stroke-width="0.5"/>
<text x="393.5" y="631" font-size="5.6" text-anchor="end" fill="#444" style="font-family:'Liberation Serif',serif">0.3</text>
<line x1="394.5" y1="652.6" x2="397.1" y2="652.6" stroke="#555" stroke-width="0.5"/>
<text x="393.5" y="654.5" font-size="5.6" text-anchor="end" fill="#444" style="font-family:'Liberation Serif',serif">0.0</text>
<text x="382.9" y="605.4" font-size="10.2" text-anchor="middle" transform="rotate(-90 382.9 605.4)" textLength="72.6" lengthAdjust="spacingAndGlyphs">Percent survival</text>
<text x="462.8" y="678.6" font-size="7" text-anchor="middle" textLength="23" lengthAdjust="spacingAndGlyphs">Months</text>
<text x="468.8" y="557.5" font-size="6.9" fill="#333" style="font-family:'Liberation Serif',serif" textLength="57.3" lengthAdjust="spacingAndGlyphs">ITGA3 protein levels</text>
<line x1="474.2" y1="565.3" x2="485" y2="565.3" stroke="#505050" stroke-width="0.7"/>
<text x="486.4" y="567" font-size="6.9" fill="#333" style="font-family:'Liberation Serif',serif" textLength="32.4" lengthAdjust="spacingAndGlyphs">Low (n=74)</text>
<line x1="474.2" y1="573" x2="485" y2="573" stroke="#EC5050" stroke-width="0.7"/>
<text x="486.4" y="574.7" font-size="6.9" fill="#333" style="font-family:'Liberation Serif',serif" textLength="33.6" lengthAdjust="spacingAndGlyphs">High (n=74)</text>
<text x="403.4" y="656" font-size="7.1" style="font-family:'Liberation Serif',serif" textLength="52.9" lengthAdjust="spacingAndGlyphs">HR=1.82, p=0.001</text>
<path d="M557.8 556.7 560.7 556.7 560.7 557.7 561.4 557.7 561.4 559 562 559 562 560.3 562.6 560.3 562.6 561.6 563 561.6 563 562.8 563.3 562.8 563.3 564.1 563.6 564.1 563.6 565.4 564 565.4 564 566.7 564.3 566.7 564.3 568 564.7 568 564.7 569.3 566.6 569.3 566.6 570.3 567 570.3 567 571.7 567.5 571.7 567.5 573.2 568 573.2 568 574.6 568.5 574.6 568.5 576.1 568.9 576.1 568.9 577.3 569.3 577.3 569.3 578.4 569.7 578.4 569.7 579.6 570.1 579.6 570.1 580.8 570.5 580.8 570.5 581.9 571 581.9 571 583.4 571.5 583.4 571.5 584.8 571.9 584.8 571.9 586.3 572.4 586.3 572.4 587.7 573 587.7 573 588.9 573.6 588.9 573.6 590.1 574.2 590.1 574.2 591.2 574.8 591.2 574.8 592.4 575.3 592.4 575.3 593.6 577.2 593.6 577.2 595 579.2 595 579.2 596.5 580.4 596.5 580.4 597.7 581.6 597.7 581.6 598.9 582.9 598.9 582.9 600.1 584.1 600.1 584.1 601.3 584.9 601.3 584.9 602.5 585.6 602.5 585.6 603.6 586.4 603.6 586.4 604.8 587.2 604.8 587.2 606 587.9 606 587.9 607.1 588.9 607.1 588.9 608.6 589.9 608.6 589.9 610.1 590.9 610.1 590.9 611.5 591.9 611.5 591.9 613 593.3 613 593.3 614.4 594.8 614.4 594.8 615.9 596.2 615.9 596.2 617.3 597.7 617.3 597.7 618.8 600.1 618.8 600.1 620.2 602.5 620.2 602.5 621.7 614.2 621.7 615.2 621.7 615.2 622.9 616.2 622.9 616.2 624.1 617.2 624.1 617.2 625.3 618.2 625.3 618.2 626.5 620.1 626.5 620.1 627.5 622 627.5 622 628.5 625.4 628.5 625.4 629.5 628.8 629.5 628.8 630.4 631.8 630.4 631.8 632.4 678 632.4" fill="none" stroke="#505050" stroke-width="0.7"/>
<path d="M570.4 580.6v2.6M574.3 590.3v2.6M586 601v2.6M591.8 611.7v2.6M598.6 617.5v2.6M602.9 620.4v2.6M610.3 620.4v2.6M615.1 621.4v2.6M616.1 622.3v2.6M624.2 627.2v2.6M626.8 627.2v2.6M639.4 631.1v2.6M652.6 631.1v2.6M656.9 631.1v2.6M657.8 631.1v2.6M658.8 631.1v2.6M677.8 631.1v2.6" fill="none" stroke="#505050" stroke-width="0.6"/>
<path d="M557.8 556.7 558.1 556.7 558.1 558 558.4 558 558.4 559.3 558.8 559.3 558.8 560.6 559.1 560.6 559.1 561.9 559.4 561.9 559.4 563.2 559.7 563.2 559.7 564.5 560 564.5 560 565.8 560.2 565.8 560.2 567 560.4 567 560.4 568.3 560.7 568.3 560.7 569.6 560.9 569.6 560.9 570.9 561.2 570.9 561.2 572.2 561.4 572.2 561.4 573.5 561.7 573.5 561.7 574.8 561.9 574.8 561.9 576.1 562.1 576.1 562.1 577.4 562.4 577.4 562.4 578.7 562.6 578.7 562.6 580 562.9 580 562.9 581.3 563.2 581.3 563.2 582.7 563.5 582.7 563.5 584.1 563.8 584.1 563.8 585.4 564.1 585.4 564.1 586.8 564.4 586.8 564.4 588.1 564.7 588.1 564.7 589.5 565 589.5 565 590.8 565.3 590.8 565.3 592.2 565.6 592.2 565.6 593.6 566.1 593.6 566.1 594.9 566.7 594.9 566.7 596.3 567.2 596.3 567.2 597.7 567.8 597.7 567.8 599.1 568.4 599.1 568.4 600.5 568.9 600.5 568.9 601.9 569.5 601.9 569.5 603.3 570.1 603.3 570.1 604.6 570.8 604.6 570.8 605.8 571.5 605.8 571.5 607.1 572.1 607.1 572.1 608.4 572.8 608.4 572.8 609.7 573.4 609.7 573.4 611 574.1 611 574.1 612.3 574.7 612.3 574.7 613.6 575.3 613.6 575.3 614.9 576 614.9 576 616.2 576.6 616.2 576.6 617.5 577.2 617.5 577.2 618.8 578.2 618.8 578.2 620.1 579.2 620.1 579.2 621.5 580.1 621.5 580.1 622.9 581.1 622.9 581.1 624.2 582.1 624.2 582.1 625.6 583.5 625.6 583.5 627 585 627 585 628.5 586.5 628.5 586.5 629.9 587.9 629.9 587.9 631.4 588.6 631.4 588.6 632.7 589.3 632.7 589.3 634 590 634 590 635.3 592.4 635.3 592.4 636.5 594.8 636.5 594.8 637.8 601.6 637.8 601.6 639.2 605 639.2 605 640.6 608.4 640.6 608.4 642.1 612.3 642.1 612.3 643.2 616.1 643.2 616.1 644.4 625.9 644.4 625.9 645.9 680.5 645.9" fill="none" stroke="#EC5050" stroke-width="0.7"/>
<path d="M600.5 637.5v2.6M618 643.1v2.6M654.9 644.7v2.6M677.2 644.7v2.6M679.2 644.7v2.6" fill="none" stroke="#EC5050" stroke-width="0.6"/>
<text x="615.3" y="543.6" font-size="8.9" text-anchor="middle" textLength="87.5" lengthAdjust="spacingAndGlyphs">Disease Free Survival</text>
<rect x="553.2" y="547" width="130.8" height="115.5" fill="none" stroke="#8A8A8A" stroke-width="0.7"/>
<line x1="557.8" y1="662.5" x2="557.8" y2="664.5" stroke="#555" stroke-width="0.5"/>
<text x="557.8" y="669.8" font-size="5.4" text-anchor="middle" fill="#444" style="font-family:'Liberation Serif',serif">0</text>
<line x1="588.3" y1="662.5" x2="588.3" y2="664.5" stroke="#555" stroke-width="0.5"/>
<text x="588.3" y="669.8" font-size="5.4" text-anchor="middle" fill="#444" style="font-family:'Liberation Serif',serif">24</text>
<line x1="618.6" y1="662.5" x2="618.6" y2="664.5" stroke="#555" stroke-width="0.5"/>
<text x="618.6" y="669.8" font-size="5.4" text-anchor="middle" fill="#444" style="font-family:'Liberation Serif',serif">48</text>
<line x1="649.1" y1="662.5" x2="649.1" y2="664.5" stroke="#555" stroke-width="0.5"/>
<text x="649.1" y="669.8" font-size="5.4" text-anchor="middle" fill="#444" style="font-family:'Liberation Serif',serif">72</text>
<line x1="679.6" y1="662.5" x2="679.6" y2="664.5" stroke="#555" stroke-width="0.5"/>
<text x="679.6" y="669.8" font-size="5.4" text-anchor="middle" fill="#444" style="font-family:'Liberation Serif',serif">96</text>
<line x1="550.6" y1="556.7" x2="553.2" y2="556.7" stroke="#555" stroke-width="0.5"/>
<text x="549.6" y="558.6" font-size="5.6" text-anchor="end" fill="#444" style="font-family:'Liberation Serif',serif">1.0</text>
<line x1="550.6" y1="580.5" x2="553.2" y2="580.5" stroke="#555" stroke-width="0.5"/>
<text x="549.6" y="582.4" font-size="5.6" text-anchor="end" fill="#444" style="font-family:'Liberation Serif',serif">0.8</text>
<line x1="550.6" y1="604.8" x2="553.2" y2="604.8" stroke="#555" stroke-width="0.5"/>
<text x="549.6" y="606.7" font-size="5.6" text-anchor="end" fill="#444" style="font-family:'Liberation Serif',serif">0.5</text>
<line x1="550.6" y1="629.5" x2="553.2" y2="629.5" stroke="#555" stroke-width="0.5"/>
<text x="549.6" y="631.4" font-size="5.6" text-anchor="end" fill="#444" style="font-family:'Liberation Serif',serif">0.3</text>
<line x1="550.6" y1="653.7" x2="553.2" y2="653.7" stroke="#555" stroke-width="0.5"/>
<text x="549.6" y="655.6" font-size="5.6" text-anchor="end" fill="#444" style="font-family:'Liberation Serif',serif">0.0</text>
<text x="538.8" y="605.8" font-size="10.2" text-anchor="middle" transform="rotate(-90 538.8 605.8)" textLength="72.6" lengthAdjust="spacingAndGlyphs">Percent survival</text>
<text x="619.6" y="678.6" font-size="7" text-anchor="middle" textLength="23" lengthAdjust="spacingAndGlyphs">Months</text>
<text x="624.8" y="557.5" font-size="6.9" fill="#333" style="font-family:'Liberation Serif',serif" textLength="57.3" lengthAdjust="spacingAndGlyphs">ITGA3 protein levels</text>
<line x1="633.6" y1="565.1" x2="642.3" y2="565.1" stroke="#505050" stroke-width="0.7"/>
<text x="644.8" y="566.8" font-size="6.9" fill="#333" style="font-family:'Liberation Serif',serif" textLength="31.5" lengthAdjust="spacingAndGlyphs">Low (n=75)</text>
<line x1="633.6" y1="572.8" x2="642.3" y2="572.8" stroke="#EC5050" stroke-width="0.7"/>
<text x="644.8" y="574.5" font-size="6.9" fill="#333" style="font-family:'Liberation Serif',serif" textLength="33.4" lengthAdjust="spacingAndGlyphs">High (n=74)</text>
<text x="560.2" y="655.7" font-size="7.1" style="font-family:'Liberation Serif',serif" textLength="53.5" lengthAdjust="spacingAndGlyphs">HR=2.04, p&lt;0.001</text>
</svg></body></html>
